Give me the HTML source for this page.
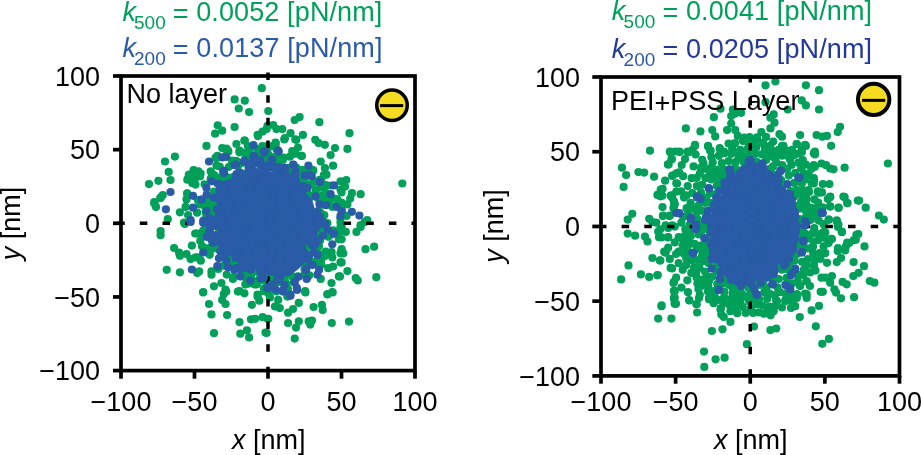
<!DOCTYPE html><html><head><meta charset="utf-8"><style>html,body{margin:0;padding:0;background:#fff;}svg{display:block;will-change:transform}</style></head><body><svg width="921" height="455" viewBox="0 0 921 455" font-family="Liberation Sans, sans-serif"><g fill="#00a05a"><circle cx="282.3" cy="256.9" r="4.1"/><circle cx="281.6" cy="169.2" r="4.1"/><circle cx="305.4" cy="241.4" r="4.1"/><circle cx="245.8" cy="247.0" r="4.1"/><circle cx="283.1" cy="235.1" r="4.1"/><circle cx="269.2" cy="245.6" r="4.1"/><circle cx="237.6" cy="216.3" r="4.1"/><circle cx="248.1" cy="247.7" r="4.1"/><circle cx="269.6" cy="210.9" r="4.1"/><circle cx="235.7" cy="212.4" r="4.1"/><circle cx="268.3" cy="211.6" r="4.1"/><circle cx="321.4" cy="264.6" r="4.1"/><circle cx="260.8" cy="205.6" r="4.1"/><circle cx="276.8" cy="232.0" r="4.1"/><circle cx="294.7" cy="250.4" r="4.1"/><circle cx="246.8" cy="154.9" r="4.1"/><circle cx="274.9" cy="227.5" r="4.1"/><circle cx="217.3" cy="194.8" r="4.1"/><circle cx="265.0" cy="184.0" r="4.1"/><circle cx="263.9" cy="226.9" r="4.1"/><circle cx="269.5" cy="202.1" r="4.1"/><circle cx="292.5" cy="259.8" r="4.1"/><circle cx="281.3" cy="189.2" r="4.1"/><circle cx="298.2" cy="202.3" r="4.1"/><circle cx="304.3" cy="178.7" r="4.1"/><circle cx="305.8" cy="222.2" r="4.1"/><circle cx="216.4" cy="210.0" r="4.1"/><circle cx="270.2" cy="234.3" r="4.1"/><circle cx="227.4" cy="177.3" r="4.1"/><circle cx="276.2" cy="203.7" r="4.1"/><circle cx="277.7" cy="254.4" r="4.1"/><circle cx="199.9" cy="233.5" r="4.1"/><circle cx="318.6" cy="210.7" r="4.1"/><circle cx="234.5" cy="254.1" r="4.1"/><circle cx="278.5" cy="260.0" r="4.1"/><circle cx="253.7" cy="161.8" r="4.1"/><circle cx="263.5" cy="204.6" r="4.1"/><circle cx="300.0" cy="231.0" r="4.1"/><circle cx="200.6" cy="173.6" r="4.1"/><circle cx="304.5" cy="251.1" r="4.1"/><circle cx="241.6" cy="223.0" r="4.1"/><circle cx="286.4" cy="242.3" r="4.1"/><circle cx="304.2" cy="233.6" r="4.1"/><circle cx="264.1" cy="212.3" r="4.1"/><circle cx="262.3" cy="224.4" r="4.1"/><circle cx="209.1" cy="236.7" r="4.1"/><circle cx="241.1" cy="258.6" r="4.1"/><circle cx="262.8" cy="250.6" r="4.1"/><circle cx="318.3" cy="238.8" r="4.1"/><circle cx="231.8" cy="160.5" r="4.1"/><circle cx="340.4" cy="218.4" r="4.1"/><circle cx="239.6" cy="229.0" r="4.1"/><circle cx="260.1" cy="258.2" r="4.1"/><circle cx="269.4" cy="223.6" r="4.1"/><circle cx="238.5" cy="242.4" r="4.1"/><circle cx="225.3" cy="250.5" r="4.1"/><circle cx="216.3" cy="247.3" r="4.1"/><circle cx="233.3" cy="202.1" r="4.1"/><circle cx="253.6" cy="245.0" r="4.1"/><circle cx="251.3" cy="234.5" r="4.1"/><circle cx="260.7" cy="188.1" r="4.1"/><circle cx="254.8" cy="183.7" r="4.1"/><circle cx="268.3" cy="176.6" r="4.1"/><circle cx="265.8" cy="220.8" r="4.1"/><circle cx="289.1" cy="205.6" r="4.1"/><circle cx="258.6" cy="240.6" r="4.1"/><circle cx="279.7" cy="175.1" r="4.1"/><circle cx="302.4" cy="198.6" r="4.1"/><circle cx="224.4" cy="185.8" r="4.1"/><circle cx="219.5" cy="229.6" r="4.1"/><circle cx="305.2" cy="213.2" r="4.1"/><circle cx="242.0" cy="232.6" r="4.1"/><circle cx="296.9" cy="250.4" r="4.1"/><circle cx="243.5" cy="217.8" r="4.1"/><circle cx="265.0" cy="227.5" r="4.1"/><circle cx="266.8" cy="230.2" r="4.1"/><circle cx="244.3" cy="174.5" r="4.1"/><circle cx="294.3" cy="277.4" r="4.1"/><circle cx="288.4" cy="229.7" r="4.1"/><circle cx="304.4" cy="175.9" r="4.1"/><circle cx="235.8" cy="226.6" r="4.1"/><circle cx="203.8" cy="230.0" r="4.1"/><circle cx="249.0" cy="273.6" r="4.1"/><circle cx="269.7" cy="156.2" r="4.1"/><circle cx="313.8" cy="229.9" r="4.1"/><circle cx="290.6" cy="179.0" r="4.1"/><circle cx="224.0" cy="238.4" r="4.1"/><circle cx="240.2" cy="222.0" r="4.1"/><circle cx="228.0" cy="210.8" r="4.1"/><circle cx="288.7" cy="196.3" r="4.1"/><circle cx="258.1" cy="199.7" r="4.1"/><circle cx="262.5" cy="174.7" r="4.1"/><circle cx="249.9" cy="214.5" r="4.1"/><circle cx="254.2" cy="225.3" r="4.1"/><circle cx="255.9" cy="254.1" r="4.1"/><circle cx="254.7" cy="217.4" r="4.1"/><circle cx="240.5" cy="201.3" r="4.1"/><circle cx="215.8" cy="244.4" r="4.1"/><circle cx="220.8" cy="192.2" r="4.1"/><circle cx="282.8" cy="239.6" r="4.1"/><circle cx="285.4" cy="233.7" r="4.1"/><circle cx="209.7" cy="254.8" r="4.1"/><circle cx="239.0" cy="176.5" r="4.1"/><circle cx="272.0" cy="215.6" r="4.1"/><circle cx="276.4" cy="156.7" r="4.1"/><circle cx="204.4" cy="248.6" r="4.1"/><circle cx="253.3" cy="236.4" r="4.1"/><circle cx="254.0" cy="220.5" r="4.1"/><circle cx="278.2" cy="192.2" r="4.1"/><circle cx="296.0" cy="203.6" r="4.1"/><circle cx="232.1" cy="226.2" r="4.1"/><circle cx="286.4" cy="213.5" r="4.1"/><circle cx="232.4" cy="248.6" r="4.1"/><circle cx="269.6" cy="166.8" r="4.1"/><circle cx="269.2" cy="220.7" r="4.1"/><circle cx="305.1" cy="185.2" r="4.1"/><circle cx="242.2" cy="236.8" r="4.1"/><circle cx="239.1" cy="192.9" r="4.1"/><circle cx="303.6" cy="221.4" r="4.1"/><circle cx="303.3" cy="204.4" r="4.1"/><circle cx="256.4" cy="243.1" r="4.1"/><circle cx="230.5" cy="241.1" r="4.1"/><circle cx="276.2" cy="195.1" r="4.1"/><circle cx="210.5" cy="213.7" r="4.1"/><circle cx="231.8" cy="264.4" r="4.1"/><circle cx="274.0" cy="255.3" r="4.1"/><circle cx="273.6" cy="233.9" r="4.1"/><circle cx="235.7" cy="250.6" r="4.1"/><circle cx="341.7" cy="210.2" r="4.1"/><circle cx="243.5" cy="216.5" r="4.1"/><circle cx="248.1" cy="194.0" r="4.1"/><circle cx="273.7" cy="211.0" r="4.1"/><circle cx="327.4" cy="223.0" r="4.1"/><circle cx="281.4" cy="262.3" r="4.1"/><circle cx="255.6" cy="282.3" r="4.1"/><circle cx="241.9" cy="189.6" r="4.1"/><circle cx="252.9" cy="218.3" r="4.1"/><circle cx="210.1" cy="221.6" r="4.1"/><circle cx="264.7" cy="196.5" r="4.1"/><circle cx="230.5" cy="207.1" r="4.1"/><circle cx="258.8" cy="179.9" r="4.1"/><circle cx="230.0" cy="215.3" r="4.1"/><circle cx="246.5" cy="261.8" r="4.1"/><circle cx="315.0" cy="223.7" r="4.1"/><circle cx="287.6" cy="167.9" r="4.1"/><circle cx="294.3" cy="221.7" r="4.1"/><circle cx="288.0" cy="289.1" r="4.1"/><circle cx="222.6" cy="247.5" r="4.1"/><circle cx="213.8" cy="202.5" r="4.1"/><circle cx="276.4" cy="248.3" r="4.1"/><circle cx="271.1" cy="190.3" r="4.1"/><circle cx="245.1" cy="259.5" r="4.1"/><circle cx="267.8" cy="153.5" r="4.1"/><circle cx="302.8" cy="240.2" r="4.1"/><circle cx="304.1" cy="209.1" r="4.1"/><circle cx="302.2" cy="179.2" r="4.1"/><circle cx="291.5" cy="202.7" r="4.1"/><circle cx="295.9" cy="264.5" r="4.1"/><circle cx="237.6" cy="220.9" r="4.1"/><circle cx="269.6" cy="272.1" r="4.1"/><circle cx="297.3" cy="172.6" r="4.1"/><circle cx="286.9" cy="253.8" r="4.1"/><circle cx="245.8" cy="278.1" r="4.1"/><circle cx="212.0" cy="173.5" r="4.1"/><circle cx="289.4" cy="265.1" r="4.1"/><circle cx="240.4" cy="245.3" r="4.1"/><circle cx="272.8" cy="285.7" r="4.1"/><circle cx="267.9" cy="263.9" r="4.1"/><circle cx="230.7" cy="215.4" r="4.1"/><circle cx="264.0" cy="270.0" r="4.1"/><circle cx="291.9" cy="192.0" r="4.1"/><circle cx="296.2" cy="254.8" r="4.1"/><circle cx="263.4" cy="212.4" r="4.1"/><circle cx="260.0" cy="153.0" r="4.1"/><circle cx="275.8" cy="232.7" r="4.1"/><circle cx="232.3" cy="253.7" r="4.1"/><circle cx="211.3" cy="200.2" r="4.1"/><circle cx="202.0" cy="246.2" r="4.1"/><circle cx="306.9" cy="238.6" r="4.1"/><circle cx="316.8" cy="181.6" r="4.1"/><circle cx="218.6" cy="209.5" r="4.1"/><circle cx="219.3" cy="266.5" r="4.1"/><circle cx="303.7" cy="193.3" r="4.1"/><circle cx="305.3" cy="228.0" r="4.1"/><circle cx="262.2" cy="225.4" r="4.1"/><circle cx="259.6" cy="248.4" r="4.1"/><circle cx="280.8" cy="208.6" r="4.1"/><circle cx="309.6" cy="197.7" r="4.1"/><circle cx="279.9" cy="240.4" r="4.1"/><circle cx="329.1" cy="202.1" r="4.1"/><circle cx="340.0" cy="230.3" r="4.1"/><circle cx="260.0" cy="195.2" r="4.1"/><circle cx="292.2" cy="225.0" r="4.1"/><circle cx="222.4" cy="176.4" r="4.1"/><circle cx="245.1" cy="195.1" r="4.1"/><circle cx="303.9" cy="237.8" r="4.1"/><circle cx="250.3" cy="225.3" r="4.1"/><circle cx="305.7" cy="211.4" r="4.1"/><circle cx="269.6" cy="203.1" r="4.1"/><circle cx="235.7" cy="215.4" r="4.1"/><circle cx="270.1" cy="279.1" r="4.1"/><circle cx="341.0" cy="226.3" r="4.1"/><circle cx="250.8" cy="234.0" r="4.1"/><circle cx="268.9" cy="213.4" r="4.1"/><circle cx="259.8" cy="229.0" r="4.1"/><circle cx="285.9" cy="186.5" r="4.1"/><circle cx="267.6" cy="160.1" r="4.1"/><circle cx="278.8" cy="248.8" r="4.1"/><circle cx="274.8" cy="234.8" r="4.1"/><circle cx="292.4" cy="195.5" r="4.1"/><circle cx="258.1" cy="244.1" r="4.1"/><circle cx="309.4" cy="239.3" r="4.1"/><circle cx="309.3" cy="275.3" r="4.1"/><circle cx="262.5" cy="189.1" r="4.1"/><circle cx="219.2" cy="229.7" r="4.1"/><circle cx="313.9" cy="234.2" r="4.1"/><circle cx="275.1" cy="207.3" r="4.1"/><circle cx="277.6" cy="224.2" r="4.1"/><circle cx="210.7" cy="178.5" r="4.1"/><circle cx="218.4" cy="268.9" r="4.1"/><circle cx="231.3" cy="250.6" r="4.1"/><circle cx="292.3" cy="233.7" r="4.1"/><circle cx="214.0" cy="197.7" r="4.1"/><circle cx="233.7" cy="216.3" r="4.1"/><circle cx="301.4" cy="233.4" r="4.1"/><circle cx="298.6" cy="178.9" r="4.1"/><circle cx="307.0" cy="246.5" r="4.1"/><circle cx="270.3" cy="280.7" r="4.1"/><circle cx="214.4" cy="199.6" r="4.1"/><circle cx="244.1" cy="248.1" r="4.1"/><circle cx="279.1" cy="171.5" r="4.1"/><circle cx="317.4" cy="263.9" r="4.1"/><circle cx="268.8" cy="263.6" r="4.1"/><circle cx="228.1" cy="254.0" r="4.1"/><circle cx="264.4" cy="269.7" r="4.1"/><circle cx="287.2" cy="178.0" r="4.1"/><circle cx="273.3" cy="273.3" r="4.1"/><circle cx="221.4" cy="199.9" r="4.1"/><circle cx="236.3" cy="161.2" r="4.1"/><circle cx="307.7" cy="277.1" r="4.1"/><circle cx="301.0" cy="233.0" r="4.1"/><circle cx="265.9" cy="232.9" r="4.1"/><circle cx="237.8" cy="259.9" r="4.1"/><circle cx="311.2" cy="261.5" r="4.1"/><circle cx="246.1" cy="226.2" r="4.1"/><circle cx="275.4" cy="145.3" r="4.1"/><circle cx="296.3" cy="259.3" r="4.1"/><circle cx="262.8" cy="235.8" r="4.1"/><circle cx="296.5" cy="208.9" r="4.1"/><circle cx="307.5" cy="211.4" r="4.1"/><circle cx="238.9" cy="258.2" r="4.1"/><circle cx="224.2" cy="226.9" r="4.1"/><circle cx="254.3" cy="164.1" r="4.1"/><circle cx="206.8" cy="203.9" r="4.1"/><circle cx="245.4" cy="275.0" r="4.1"/><circle cx="283.5" cy="157.7" r="4.1"/><circle cx="232.7" cy="252.1" r="4.1"/><circle cx="267.1" cy="210.2" r="4.1"/><circle cx="209.6" cy="201.8" r="4.1"/><circle cx="268.5" cy="164.8" r="4.1"/><circle cx="273.3" cy="259.7" r="4.1"/><circle cx="257.9" cy="253.2" r="4.1"/><circle cx="297.8" cy="241.5" r="4.1"/><circle cx="255.4" cy="194.9" r="4.1"/><circle cx="233.1" cy="242.7" r="4.1"/><circle cx="307.3" cy="185.3" r="4.1"/><circle cx="248.3" cy="208.5" r="4.1"/><circle cx="295.3" cy="228.7" r="4.1"/><circle cx="284.6" cy="247.6" r="4.1"/><circle cx="269.2" cy="268.9" r="4.1"/><circle cx="237.9" cy="163.7" r="4.1"/><circle cx="245.3" cy="265.5" r="4.1"/><circle cx="275.2" cy="198.3" r="4.1"/><circle cx="223.8" cy="201.2" r="4.1"/><circle cx="251.3" cy="199.7" r="4.1"/><circle cx="208.8" cy="203.3" r="4.1"/><circle cx="275.6" cy="192.1" r="4.1"/><circle cx="316.0" cy="220.0" r="4.1"/><circle cx="250.7" cy="162.6" r="4.1"/><circle cx="300.4" cy="234.8" r="4.1"/><circle cx="246.3" cy="258.9" r="4.1"/><circle cx="232.0" cy="249.6" r="4.1"/><circle cx="229.2" cy="245.1" r="4.1"/><circle cx="278.5" cy="282.2" r="4.1"/><circle cx="234.0" cy="203.3" r="4.1"/><circle cx="223.9" cy="265.7" r="4.1"/><circle cx="287.2" cy="263.4" r="4.1"/><circle cx="255.2" cy="246.3" r="4.1"/><circle cx="237.8" cy="166.3" r="4.1"/><circle cx="198.0" cy="200.2" r="4.1"/><circle cx="245.3" cy="197.0" r="4.1"/><circle cx="246.0" cy="234.9" r="4.1"/><circle cx="244.1" cy="186.8" r="4.1"/><circle cx="332.5" cy="234.3" r="4.1"/><circle cx="244.4" cy="228.5" r="4.1"/><circle cx="220.4" cy="233.8" r="4.1"/><circle cx="268.1" cy="245.0" r="4.1"/><circle cx="252.0" cy="266.1" r="4.1"/><circle cx="235.3" cy="186.1" r="4.1"/><circle cx="242.5" cy="182.4" r="4.1"/><circle cx="308.5" cy="261.1" r="4.1"/><circle cx="320.5" cy="222.0" r="4.1"/><circle cx="279.3" cy="199.1" r="4.1"/><circle cx="220.5" cy="241.5" r="4.1"/><circle cx="279.1" cy="177.3" r="4.1"/><circle cx="292.2" cy="151.1" r="4.1"/><circle cx="260.6" cy="197.0" r="4.1"/><circle cx="246.1" cy="178.3" r="4.1"/><circle cx="307.3" cy="246.4" r="4.1"/><circle cx="316.9" cy="228.4" r="4.1"/><circle cx="214.4" cy="207.3" r="4.1"/><circle cx="218.8" cy="241.5" r="4.1"/><circle cx="317.5" cy="236.1" r="4.1"/><circle cx="242.7" cy="207.2" r="4.1"/><circle cx="275.9" cy="162.7" r="4.1"/><circle cx="273.6" cy="230.6" r="4.1"/><circle cx="244.9" cy="205.1" r="4.1"/><circle cx="274.4" cy="188.4" r="4.1"/><circle cx="233.3" cy="254.4" r="4.1"/><circle cx="276.4" cy="291.5" r="4.1"/><circle cx="226.4" cy="148.6" r="4.1"/><circle cx="305.9" cy="261.6" r="4.1"/><circle cx="236.5" cy="161.3" r="4.1"/><circle cx="265.0" cy="149.6" r="4.1"/><circle cx="256.9" cy="284.3" r="4.1"/><circle cx="255.6" cy="253.4" r="4.1"/><circle cx="240.0" cy="184.7" r="4.1"/><circle cx="264.0" cy="288.3" r="4.1"/><circle cx="217.6" cy="212.1" r="4.1"/><circle cx="269.5" cy="279.5" r="4.1"/><circle cx="321.2" cy="217.4" r="4.1"/><circle cx="239.2" cy="218.8" r="4.1"/><circle cx="304.5" cy="237.2" r="4.1"/><circle cx="272.1" cy="179.5" r="4.1"/><circle cx="215.2" cy="221.4" r="4.1"/><circle cx="247.8" cy="235.7" r="4.1"/><circle cx="266.4" cy="214.7" r="4.1"/><circle cx="229.4" cy="220.1" r="4.1"/><circle cx="240.4" cy="214.7" r="4.1"/><circle cx="263.1" cy="247.8" r="4.1"/><circle cx="241.7" cy="207.4" r="4.1"/><circle cx="310.0" cy="211.8" r="4.1"/><circle cx="255.0" cy="256.5" r="4.1"/><circle cx="277.0" cy="224.5" r="4.1"/><circle cx="274.9" cy="169.6" r="4.1"/><circle cx="284.9" cy="275.6" r="4.1"/><circle cx="289.9" cy="156.7" r="4.1"/><circle cx="277.7" cy="183.7" r="4.1"/><circle cx="256.7" cy="226.5" r="4.1"/><circle cx="263.4" cy="254.0" r="4.1"/><circle cx="292.5" cy="276.8" r="4.1"/><circle cx="248.0" cy="251.0" r="4.1"/><circle cx="304.3" cy="274.8" r="4.1"/><circle cx="251.0" cy="234.8" r="4.1"/><circle cx="270.6" cy="274.0" r="4.1"/><circle cx="332.2" cy="206.8" r="4.1"/><circle cx="251.5" cy="246.5" r="4.1"/><circle cx="298.0" cy="244.3" r="4.1"/><circle cx="269.1" cy="285.4" r="4.1"/><circle cx="226.5" cy="180.7" r="4.1"/><circle cx="277.4" cy="224.3" r="4.1"/><circle cx="278.2" cy="188.6" r="4.1"/><circle cx="284.8" cy="280.2" r="4.1"/><circle cx="212.1" cy="214.2" r="4.1"/><circle cx="277.5" cy="216.9" r="4.1"/><circle cx="320.3" cy="257.4" r="4.1"/><circle cx="282.3" cy="198.5" r="4.1"/><circle cx="253.4" cy="202.2" r="4.1"/><circle cx="297.9" cy="178.7" r="4.1"/><circle cx="220.8" cy="247.8" r="4.1"/><circle cx="231.8" cy="257.0" r="4.1"/><circle cx="261.8" cy="157.5" r="4.1"/><circle cx="264.9" cy="260.1" r="4.1"/><circle cx="254.6" cy="173.5" r="4.1"/><circle cx="262.2" cy="255.1" r="4.1"/><circle cx="210.5" cy="222.4" r="4.1"/><circle cx="273.7" cy="204.7" r="4.1"/><circle cx="310.0" cy="169.0" r="4.1"/><circle cx="262.1" cy="278.2" r="4.1"/><circle cx="275.3" cy="193.3" r="4.1"/><circle cx="257.0" cy="225.4" r="4.1"/><circle cx="250.2" cy="188.1" r="4.1"/><circle cx="234.9" cy="160.9" r="4.1"/><circle cx="271.7" cy="238.4" r="4.1"/><circle cx="298.0" cy="147.5" r="4.1"/><circle cx="300.4" cy="221.4" r="4.1"/><circle cx="208.1" cy="226.1" r="4.1"/><circle cx="300.7" cy="243.7" r="4.1"/><circle cx="297.0" cy="261.1" r="4.1"/><circle cx="304.1" cy="220.6" r="4.1"/><circle cx="281.8" cy="202.7" r="4.1"/><circle cx="295.4" cy="255.1" r="4.1"/><circle cx="226.9" cy="260.6" r="4.1"/><circle cx="247.7" cy="189.9" r="4.1"/><circle cx="291.5" cy="196.7" r="4.1"/><circle cx="302.7" cy="174.0" r="4.1"/><circle cx="268.6" cy="187.4" r="4.1"/><circle cx="257.5" cy="206.8" r="4.1"/><circle cx="220.6" cy="249.3" r="4.1"/><circle cx="215.8" cy="181.7" r="4.1"/><circle cx="304.0" cy="262.4" r="4.1"/><circle cx="294.8" cy="236.3" r="4.1"/><circle cx="236.6" cy="181.2" r="4.1"/><circle cx="304.4" cy="234.2" r="4.1"/><circle cx="313.2" cy="262.5" r="4.1"/><circle cx="258.0" cy="188.5" r="4.1"/><circle cx="307.3" cy="246.9" r="4.1"/><circle cx="253.4" cy="214.2" r="4.1"/><circle cx="253.2" cy="209.0" r="4.1"/><circle cx="251.6" cy="234.4" r="4.1"/><circle cx="276.0" cy="257.6" r="4.1"/><circle cx="266.9" cy="255.3" r="4.1"/><circle cx="255.9" cy="251.6" r="4.1"/><circle cx="231.0" cy="252.3" r="4.1"/><circle cx="266.7" cy="209.3" r="4.1"/><circle cx="281.0" cy="179.6" r="4.1"/><circle cx="265.5" cy="241.2" r="4.1"/><circle cx="257.4" cy="196.3" r="4.1"/><circle cx="271.0" cy="260.4" r="4.1"/><circle cx="294.9" cy="261.3" r="4.1"/><circle cx="244.1" cy="190.4" r="4.1"/><circle cx="287.2" cy="253.0" r="4.1"/><circle cx="247.7" cy="204.6" r="4.1"/><circle cx="279.9" cy="244.8" r="4.1"/><circle cx="292.3" cy="172.8" r="4.1"/><circle cx="307.0" cy="186.9" r="4.1"/><circle cx="216.9" cy="182.1" r="4.1"/><circle cx="232.6" cy="229.8" r="4.1"/><circle cx="245.3" cy="259.9" r="4.1"/><circle cx="276.1" cy="243.7" r="4.1"/><circle cx="203.2" cy="230.8" r="4.1"/><circle cx="289.1" cy="259.4" r="4.1"/><circle cx="243.0" cy="203.1" r="4.1"/><circle cx="316.3" cy="223.1" r="4.1"/><circle cx="262.7" cy="164.7" r="4.1"/><circle cx="274.2" cy="249.7" r="4.1"/><circle cx="235.2" cy="202.1" r="4.1"/><circle cx="333.3" cy="230.4" r="4.1"/><circle cx="256.1" cy="176.0" r="4.1"/><circle cx="242.4" cy="212.7" r="4.1"/><circle cx="324.5" cy="197.8" r="4.1"/><circle cx="253.2" cy="257.8" r="4.1"/><circle cx="258.1" cy="188.7" r="4.1"/><circle cx="262.6" cy="241.5" r="4.1"/><circle cx="197.1" cy="212.7" r="4.1"/><circle cx="263.5" cy="206.3" r="4.1"/><circle cx="298.4" cy="199.5" r="4.1"/><circle cx="252.9" cy="224.6" r="4.1"/><circle cx="298.1" cy="213.9" r="4.1"/><circle cx="330.6" cy="185.5" r="4.1"/><circle cx="321.1" cy="187.6" r="4.1"/><circle cx="261.3" cy="238.0" r="4.1"/><circle cx="251.2" cy="276.7" r="4.1"/><circle cx="259.2" cy="190.3" r="4.1"/><circle cx="286.5" cy="226.9" r="4.1"/><circle cx="307.4" cy="200.3" r="4.1"/><circle cx="283.8" cy="249.2" r="4.1"/><circle cx="279.5" cy="221.8" r="4.1"/><circle cx="239.2" cy="260.3" r="4.1"/><circle cx="273.7" cy="243.5" r="4.1"/><circle cx="253.5" cy="223.5" r="4.1"/><circle cx="225.2" cy="226.5" r="4.1"/><circle cx="299.6" cy="226.8" r="4.1"/><circle cx="303.5" cy="235.9" r="4.1"/><circle cx="324.3" cy="215.2" r="4.1"/><circle cx="200.3" cy="240.9" r="4.1"/><circle cx="261.2" cy="182.8" r="4.1"/><circle cx="294.9" cy="233.9" r="4.1"/><circle cx="286.4" cy="209.3" r="4.1"/><circle cx="276.1" cy="233.5" r="4.1"/><circle cx="267.6" cy="238.0" r="4.1"/><circle cx="291.7" cy="188.0" r="4.1"/><circle cx="230.8" cy="255.4" r="4.1"/><circle cx="210.6" cy="247.6" r="4.1"/><circle cx="248.4" cy="275.2" r="4.1"/><circle cx="304.7" cy="211.2" r="4.1"/><circle cx="211.7" cy="203.4" r="4.1"/><circle cx="304.5" cy="269.1" r="4.1"/><circle cx="233.1" cy="221.7" r="4.1"/><circle cx="257.3" cy="271.8" r="4.1"/><circle cx="268.6" cy="177.2" r="4.1"/><circle cx="237.6" cy="202.4" r="4.1"/><circle cx="244.2" cy="230.8" r="4.1"/><circle cx="261.5" cy="250.1" r="4.1"/><circle cx="331.6" cy="252.0" r="4.1"/><circle cx="217.4" cy="155.9" r="4.1"/><circle cx="236.8" cy="266.5" r="4.1"/><circle cx="254.2" cy="195.4" r="4.1"/><circle cx="273.7" cy="164.5" r="4.1"/><circle cx="220.9" cy="244.1" r="4.1"/><circle cx="255.5" cy="204.3" r="4.1"/><circle cx="281.1" cy="198.8" r="4.1"/><circle cx="239.7" cy="204.0" r="4.1"/><circle cx="292.9" cy="225.5" r="4.1"/><circle cx="218.7" cy="210.5" r="4.1"/><circle cx="220.8" cy="237.0" r="4.1"/><circle cx="257.3" cy="257.1" r="4.1"/><circle cx="286.6" cy="283.8" r="4.1"/><circle cx="289.5" cy="200.5" r="4.1"/><circle cx="245.8" cy="239.7" r="4.1"/><circle cx="282.5" cy="168.0" r="4.1"/><circle cx="290.8" cy="180.1" r="4.1"/><circle cx="219.8" cy="250.0" r="4.1"/><circle cx="277.1" cy="216.4" r="4.1"/><circle cx="265.2" cy="232.2" r="4.1"/><circle cx="262.2" cy="215.9" r="4.1"/><circle cx="293.2" cy="193.9" r="4.1"/><circle cx="290.5" cy="274.0" r="4.1"/><circle cx="253.3" cy="234.7" r="4.1"/><circle cx="299.1" cy="218.4" r="4.1"/><circle cx="233.2" cy="177.1" r="4.1"/><circle cx="288.1" cy="242.3" r="4.1"/><circle cx="260.8" cy="258.0" r="4.1"/><circle cx="243.0" cy="268.9" r="4.1"/><circle cx="269.7" cy="221.5" r="4.1"/><circle cx="268.0" cy="218.9" r="4.1"/><circle cx="275.3" cy="274.4" r="4.1"/><circle cx="297.6" cy="210.5" r="4.1"/><circle cx="214.0" cy="246.5" r="4.1"/><circle cx="304.5" cy="254.4" r="4.1"/><circle cx="298.2" cy="202.9" r="4.1"/><circle cx="275.6" cy="183.1" r="4.1"/><circle cx="318.2" cy="255.6" r="4.1"/><circle cx="268.0" cy="208.9" r="4.1"/><circle cx="292.8" cy="238.8" r="4.1"/><circle cx="277.8" cy="210.2" r="4.1"/><circle cx="267.1" cy="199.0" r="4.1"/><circle cx="319.4" cy="254.2" r="4.1"/><circle cx="289.3" cy="218.5" r="4.1"/><circle cx="268.9" cy="209.0" r="4.1"/><circle cx="285.5" cy="235.8" r="4.1"/><circle cx="266.5" cy="242.7" r="4.1"/><circle cx="289.7" cy="216.7" r="4.1"/><circle cx="286.7" cy="265.5" r="4.1"/><circle cx="248.6" cy="283.6" r="4.1"/><circle cx="226.7" cy="274.6" r="4.1"/><circle cx="319.3" cy="227.0" r="4.1"/><circle cx="339.1" cy="232.9" r="4.1"/><circle cx="247.4" cy="233.0" r="4.1"/><circle cx="262.3" cy="253.4" r="4.1"/><circle cx="249.0" cy="258.3" r="4.1"/><circle cx="204.4" cy="205.7" r="4.1"/><circle cx="271.2" cy="260.2" r="4.1"/><circle cx="287.9" cy="201.3" r="4.1"/><circle cx="318.3" cy="227.2" r="4.1"/><circle cx="299.7" cy="201.2" r="4.1"/><circle cx="250.4" cy="247.1" r="4.1"/><circle cx="279.9" cy="188.6" r="4.1"/><circle cx="240.4" cy="250.5" r="4.1"/><circle cx="297.9" cy="214.3" r="4.1"/><circle cx="300.2" cy="258.8" r="4.1"/><circle cx="270.2" cy="181.0" r="4.1"/><circle cx="318.5" cy="214.3" r="4.1"/><circle cx="245.7" cy="211.5" r="4.1"/><circle cx="212.7" cy="235.6" r="4.1"/><circle cx="236.4" cy="144.0" r="4.1"/><circle cx="217.2" cy="183.1" r="4.1"/><circle cx="267.7" cy="180.4" r="4.1"/><circle cx="205.6" cy="212.1" r="4.1"/><circle cx="287.2" cy="226.3" r="4.1"/><circle cx="313.2" cy="170.1" r="4.1"/><circle cx="243.5" cy="219.0" r="4.1"/><circle cx="233.3" cy="213.0" r="4.1"/><circle cx="267.0" cy="227.0" r="4.1"/><circle cx="261.0" cy="234.1" r="4.1"/><circle cx="284.0" cy="258.3" r="4.1"/><circle cx="250.4" cy="192.1" r="4.1"/><circle cx="224.1" cy="247.5" r="4.1"/><circle cx="266.1" cy="245.8" r="4.1"/><circle cx="276.6" cy="254.1" r="4.1"/><circle cx="218.3" cy="178.4" r="4.1"/><circle cx="255.1" cy="172.7" r="4.1"/><circle cx="296.5" cy="167.9" r="4.1"/><circle cx="222.4" cy="209.0" r="4.1"/><circle cx="257.3" cy="149.0" r="4.1"/><circle cx="272.5" cy="263.3" r="4.1"/><circle cx="294.8" cy="195.8" r="4.1"/><circle cx="243.7" cy="174.0" r="4.1"/><circle cx="294.0" cy="282.5" r="4.1"/><circle cx="246.3" cy="152.9" r="4.1"/><circle cx="276.3" cy="252.2" r="4.1"/><circle cx="290.7" cy="239.6" r="4.1"/><circle cx="311.9" cy="184.1" r="4.1"/><circle cx="233.1" cy="239.8" r="4.1"/><circle cx="239.7" cy="233.7" r="4.1"/><circle cx="303.0" cy="224.8" r="4.1"/><circle cx="274.8" cy="289.9" r="4.1"/><circle cx="223.3" cy="185.3" r="4.1"/><circle cx="222.8" cy="205.5" r="4.1"/><circle cx="226.2" cy="224.5" r="4.1"/><circle cx="241.1" cy="163.2" r="4.1"/><circle cx="265.2" cy="213.6" r="4.1"/><circle cx="269.1" cy="219.6" r="4.1"/><circle cx="299.2" cy="246.2" r="4.1"/><circle cx="243.6" cy="189.0" r="4.1"/><circle cx="223.1" cy="171.3" r="4.1"/><circle cx="325.9" cy="185.1" r="4.1"/><circle cx="235.4" cy="236.6" r="4.1"/><circle cx="231.4" cy="245.1" r="4.1"/><circle cx="284.0" cy="275.3" r="4.1"/><circle cx="323.8" cy="175.1" r="4.1"/><circle cx="251.3" cy="233.2" r="4.1"/><circle cx="317.7" cy="215.8" r="4.1"/><circle cx="292.4" cy="252.7" r="4.1"/><circle cx="249.2" cy="255.1" r="4.1"/><circle cx="312.2" cy="216.5" r="4.1"/><circle cx="270.7" cy="223.0" r="4.1"/><circle cx="255.2" cy="197.4" r="4.1"/><circle cx="274.4" cy="206.0" r="4.1"/><circle cx="255.1" cy="191.1" r="4.1"/><circle cx="204.6" cy="184.3" r="4.1"/><circle cx="281.6" cy="174.1" r="4.1"/><circle cx="314.5" cy="194.4" r="4.1"/><circle cx="292.9" cy="196.1" r="4.1"/><circle cx="335.2" cy="198.8" r="4.1"/><circle cx="271.4" cy="280.2" r="4.1"/><circle cx="233.8" cy="276.9" r="4.1"/><circle cx="234.2" cy="232.8" r="4.1"/><circle cx="255.8" cy="219.3" r="4.1"/><circle cx="274.6" cy="219.9" r="4.1"/><circle cx="226.0" cy="258.8" r="4.1"/><circle cx="297.8" cy="276.3" r="4.1"/><circle cx="246.0" cy="265.8" r="4.1"/><circle cx="328.6" cy="200.7" r="4.1"/><circle cx="211.1" cy="208.2" r="4.1"/><circle cx="217.9" cy="212.6" r="4.1"/><circle cx="226.9" cy="206.5" r="4.1"/><circle cx="282.9" cy="281.4" r="4.1"/><circle cx="259.8" cy="207.2" r="4.1"/><circle cx="313.2" cy="170.7" r="4.1"/><circle cx="216.5" cy="165.6" r="4.1"/><circle cx="261.5" cy="239.3" r="4.1"/><circle cx="264.3" cy="245.7" r="4.1"/><circle cx="302.3" cy="243.5" r="4.1"/><circle cx="234.6" cy="211.9" r="4.1"/><circle cx="319.6" cy="179.8" r="4.1"/><circle cx="257.5" cy="205.8" r="4.1"/><circle cx="260.6" cy="178.6" r="4.1"/><circle cx="307.1" cy="193.6" r="4.1"/><circle cx="265.6" cy="250.9" r="4.1"/><circle cx="253.8" cy="248.5" r="4.1"/><circle cx="242.6" cy="208.2" r="4.1"/><circle cx="264.5" cy="204.1" r="4.1"/><circle cx="278.8" cy="242.7" r="4.1"/><circle cx="226.9" cy="237.2" r="4.1"/><circle cx="276.9" cy="149.9" r="4.1"/><circle cx="228.6" cy="264.4" r="4.1"/><circle cx="239.5" cy="222.5" r="4.1"/><circle cx="295.9" cy="176.1" r="4.1"/><circle cx="319.4" cy="263.9" r="4.1"/><circle cx="295.3" cy="200.7" r="4.1"/><circle cx="305.8" cy="258.4" r="4.1"/><circle cx="255.6" cy="238.2" r="4.1"/><circle cx="246.4" cy="238.9" r="4.1"/><circle cx="315.9" cy="189.7" r="4.1"/><circle cx="199.6" cy="204.4" r="4.1"/><circle cx="214.1" cy="191.7" r="4.1"/><circle cx="262.8" cy="220.4" r="4.1"/><circle cx="321.3" cy="181.1" r="4.1"/><circle cx="282.6" cy="202.0" r="4.1"/><circle cx="246.1" cy="156.9" r="4.1"/><circle cx="215.5" cy="157.8" r="4.1"/><circle cx="228.6" cy="213.1" r="4.1"/><circle cx="315.5" cy="251.9" r="4.1"/><circle cx="287.2" cy="205.5" r="4.1"/><circle cx="238.2" cy="224.4" r="4.1"/><circle cx="273.7" cy="233.6" r="4.1"/><circle cx="283.3" cy="218.1" r="4.1"/><circle cx="250.4" cy="250.9" r="4.1"/><circle cx="328.5" cy="236.8" r="4.1"/><circle cx="251.8" cy="210.9" r="4.1"/><circle cx="225.8" cy="235.7" r="4.1"/><circle cx="314.6" cy="246.5" r="4.1"/><circle cx="299.9" cy="252.6" r="4.1"/><circle cx="274.5" cy="252.1" r="4.1"/><circle cx="246.4" cy="214.4" r="4.1"/><circle cx="225.5" cy="258.0" r="4.1"/><circle cx="277.0" cy="206.6" r="4.1"/><circle cx="227.3" cy="241.8" r="4.1"/><circle cx="208.0" cy="198.6" r="4.1"/><circle cx="248.1" cy="262.0" r="4.1"/><circle cx="263.2" cy="169.2" r="4.1"/><circle cx="247.8" cy="146.1" r="4.1"/><circle cx="277.9" cy="255.1" r="4.1"/><circle cx="280.1" cy="274.6" r="4.1"/><circle cx="324.9" cy="256.1" r="4.1"/><circle cx="239.6" cy="207.8" r="4.1"/><circle cx="317.7" cy="198.0" r="4.1"/><circle cx="266.3" cy="287.5" r="4.1"/><circle cx="273.3" cy="166.2" r="4.1"/><circle cx="255.8" cy="249.4" r="4.1"/><circle cx="260.1" cy="271.0" r="4.1"/><circle cx="320.9" cy="196.1" r="4.1"/><circle cx="247.2" cy="218.7" r="4.1"/><circle cx="218.4" cy="238.6" r="4.1"/><circle cx="260.6" cy="255.4" r="4.1"/><circle cx="243.2" cy="186.7" r="4.1"/><circle cx="243.8" cy="192.7" r="4.1"/><circle cx="255.4" cy="185.2" r="4.1"/><circle cx="266.1" cy="193.9" r="4.1"/><circle cx="250.8" cy="238.0" r="4.1"/><circle cx="297.0" cy="242.3" r="4.1"/><circle cx="237.6" cy="239.4" r="4.1"/><circle cx="263.0" cy="218.6" r="4.1"/><circle cx="294.4" cy="176.9" r="4.1"/><circle cx="231.9" cy="251.3" r="4.1"/><circle cx="271.3" cy="285.6" r="4.1"/><circle cx="323.1" cy="204.0" r="4.1"/><circle cx="254.5" cy="284.5" r="4.1"/><circle cx="268.3" cy="187.5" r="4.1"/><circle cx="267.0" cy="281.6" r="4.1"/><circle cx="262.2" cy="280.0" r="4.1"/><circle cx="259.3" cy="279.3" r="4.1"/><circle cx="291.9" cy="216.9" r="4.1"/><circle cx="279.4" cy="202.3" r="4.1"/><circle cx="223.3" cy="181.3" r="4.1"/><circle cx="267.6" cy="181.4" r="4.1"/><circle cx="288.4" cy="247.3" r="4.1"/><circle cx="289.8" cy="205.0" r="4.1"/><circle cx="272.9" cy="224.6" r="4.1"/><circle cx="325.3" cy="192.4" r="4.1"/><circle cx="254.8" cy="216.1" r="4.1"/><circle cx="264.9" cy="194.8" r="4.1"/><circle cx="244.8" cy="267.8" r="4.1"/><circle cx="244.5" cy="263.8" r="4.1"/><circle cx="290.7" cy="248.4" r="4.1"/><circle cx="254.8" cy="162.8" r="4.1"/><circle cx="314.0" cy="261.8" r="4.1"/><circle cx="254.8" cy="281.8" r="4.1"/><circle cx="299.1" cy="172.4" r="4.1"/><circle cx="256.1" cy="207.2" r="4.1"/><circle cx="266.0" cy="233.5" r="4.1"/><circle cx="241.8" cy="217.4" r="4.1"/><circle cx="294.9" cy="222.5" r="4.1"/><circle cx="259.4" cy="212.9" r="4.1"/><circle cx="266.4" cy="146.4" r="4.1"/><circle cx="277.1" cy="183.0" r="4.1"/><circle cx="274.9" cy="164.7" r="4.1"/><circle cx="308.6" cy="235.3" r="4.1"/><circle cx="214.7" cy="235.3" r="4.1"/><circle cx="290.8" cy="192.6" r="4.1"/><circle cx="279.8" cy="224.2" r="4.1"/><circle cx="320.1" cy="240.4" r="4.1"/><circle cx="291.9" cy="179.5" r="4.1"/><circle cx="297.1" cy="224.1" r="4.1"/><circle cx="277.5" cy="186.4" r="4.1"/><circle cx="278.5" cy="180.4" r="4.1"/><circle cx="272.6" cy="209.8" r="4.1"/><circle cx="236.5" cy="249.8" r="4.1"/><circle cx="209.3" cy="224.2" r="4.1"/><circle cx="293.3" cy="208.3" r="4.1"/><circle cx="233.8" cy="231.1" r="4.1"/><circle cx="248.7" cy="207.7" r="4.1"/><circle cx="300.9" cy="220.5" r="4.1"/><circle cx="206.3" cy="216.8" r="4.1"/><circle cx="239.2" cy="213.6" r="4.1"/><circle cx="297.5" cy="250.4" r="4.1"/><circle cx="226.3" cy="229.8" r="4.1"/><circle cx="239.7" cy="237.5" r="4.1"/><circle cx="285.1" cy="226.4" r="4.1"/><circle cx="254.4" cy="208.4" r="4.1"/><circle cx="245.2" cy="243.9" r="4.1"/><circle cx="248.4" cy="166.1" r="4.1"/><circle cx="292.6" cy="167.0" r="4.1"/><circle cx="286.0" cy="208.4" r="4.1"/><circle cx="294.3" cy="257.5" r="4.1"/><circle cx="323.3" cy="204.4" r="4.1"/><circle cx="257.8" cy="224.2" r="4.1"/><circle cx="211.3" cy="249.2" r="4.1"/><circle cx="275.0" cy="169.3" r="4.1"/><circle cx="215.2" cy="248.2" r="4.1"/><circle cx="321.2" cy="259.2" r="4.1"/><circle cx="229.0" cy="166.8" r="4.1"/><circle cx="264.7" cy="203.9" r="4.1"/><circle cx="269.1" cy="220.1" r="4.1"/><circle cx="291.1" cy="201.2" r="4.1"/><circle cx="263.9" cy="254.6" r="4.1"/><circle cx="281.1" cy="233.2" r="4.1"/><circle cx="231.5" cy="245.9" r="4.1"/><circle cx="267.0" cy="257.8" r="4.1"/><circle cx="300.5" cy="181.7" r="4.1"/><circle cx="273.8" cy="288.1" r="4.1"/><circle cx="266.5" cy="197.7" r="4.1"/><circle cx="277.5" cy="216.3" r="4.1"/><circle cx="259.0" cy="208.5" r="4.1"/><circle cx="251.9" cy="200.4" r="4.1"/><circle cx="320.1" cy="212.4" r="4.1"/><circle cx="322.8" cy="230.8" r="4.1"/><circle cx="267.9" cy="163.6" r="4.1"/><circle cx="318.9" cy="246.2" r="4.1"/><circle cx="285.6" cy="219.0" r="4.1"/><circle cx="251.7" cy="171.5" r="4.1"/><circle cx="307.9" cy="235.0" r="4.1"/><circle cx="254.0" cy="197.8" r="4.1"/><circle cx="273.7" cy="220.1" r="4.1"/><circle cx="244.3" cy="178.2" r="4.1"/><circle cx="259.1" cy="186.2" r="4.1"/><circle cx="272.0" cy="240.6" r="4.1"/><circle cx="295.2" cy="241.1" r="4.1"/></g><g fill="#00a05a"><circle cx="261.8" cy="88.2" r="4.1"/><circle cx="234.6" cy="99.4" r="4.1"/><circle cx="244.8" cy="100.7" r="4.1"/><circle cx="238.7" cy="108.5" r="4.1"/><circle cx="249.1" cy="112.1" r="4.1"/><circle cx="268.3" cy="111.0" r="4.1"/><circle cx="217.7" cy="125.3" r="4.1"/><circle cx="222.2" cy="130.7" r="4.1"/><circle cx="215.1" cy="133.7" r="4.1"/><circle cx="234.6" cy="127.0" r="4.1"/><circle cx="206.5" cy="145.9" r="4.1"/><circle cx="257.6" cy="134.9" r="4.1"/><circle cx="262.6" cy="131.6" r="4.1"/><circle cx="267.5" cy="125.8" r="4.1"/><circle cx="244.4" cy="140.6" r="4.1"/><circle cx="222.2" cy="148.0" r="4.1"/><circle cx="228.0" cy="150.5" r="4.1"/><circle cx="239.5" cy="150.5" r="4.1"/><circle cx="249.4" cy="150.5" r="4.1"/><circle cx="267.5" cy="147.2" r="4.1"/><circle cx="299.6" cy="117.1" r="4.1"/><circle cx="294.7" cy="120.0" r="4.1"/><circle cx="319.4" cy="122.2" r="4.1"/><circle cx="273.2" cy="125.0" r="4.1"/><circle cx="266.6" cy="129.1" r="4.1"/><circle cx="276.5" cy="129.1" r="4.1"/><circle cx="282.3" cy="129.1" r="4.1"/><circle cx="290.5" cy="133.2" r="4.1"/><circle cx="284.8" cy="138.2" r="4.1"/><circle cx="302.9" cy="134.9" r="4.1"/><circle cx="296.3" cy="139.8" r="4.1"/><circle cx="315.3" cy="139.8" r="4.1"/><circle cx="318.6" cy="143.1" r="4.1"/><circle cx="324.8" cy="144.8" r="4.1"/><circle cx="335.0" cy="148.0" r="4.1"/><circle cx="275.7" cy="143.1" r="4.1"/><circle cx="271.6" cy="146.4" r="4.1"/><circle cx="294.7" cy="152.2" r="4.1"/><circle cx="349.5" cy="133.2" r="4.1"/><circle cx="347.4" cy="148.9" r="4.1"/><circle cx="174.9" cy="156.6" r="4.1"/><circle cx="165.0" cy="161.5" r="4.1"/><circle cx="168.7" cy="171.9" r="4.1"/><circle cx="170.5" cy="180.0" r="4.1"/><circle cx="158.4" cy="180.8" r="4.1"/><circle cx="149.0" cy="184.1" r="4.1"/><circle cx="161.2" cy="197.0" r="4.1"/><circle cx="154.3" cy="203.6" r="4.1"/><circle cx="156.0" cy="206.9" r="4.1"/><circle cx="167.8" cy="219.2" r="4.1"/><circle cx="179.9" cy="212.3" r="4.1"/><circle cx="189.8" cy="174.7" r="4.1"/><circle cx="193.9" cy="170.6" r="4.1"/><circle cx="187.3" cy="179.7" r="4.1"/><circle cx="192.2" cy="183.0" r="4.1"/><circle cx="195.5" cy="184.6" r="4.1"/><circle cx="187.3" cy="193.7" r="4.1"/><circle cx="186.5" cy="199.4" r="4.1"/><circle cx="185.6" cy="206.9" r="4.1"/><circle cx="188.1" cy="215.1" r="4.1"/><circle cx="184.0" cy="222.5" r="4.1"/><circle cx="162.8" cy="195.0" r="4.1"/><circle cx="160.2" cy="198.2" r="4.1"/><circle cx="154.3" cy="202.2" r="4.1"/><circle cx="193.6" cy="170.1" r="4.1"/><circle cx="188.8" cy="174.9" r="4.1"/><circle cx="188.0" cy="179.0" r="4.1"/><circle cx="193.6" cy="183.0" r="4.1"/><circle cx="187.2" cy="193.4" r="4.1"/><circle cx="198.3" cy="171.4" r="4.1"/><circle cx="210.7" cy="171.4" r="4.1"/><circle cx="214.8" cy="175.5" r="4.1"/><circle cx="219.7" cy="166.5" r="4.1"/><circle cx="216.4" cy="158.2" r="4.1"/><circle cx="227.1" cy="152.5" r="4.1"/><circle cx="239.5" cy="152.5" r="4.1"/><circle cx="195.0" cy="178.0" r="4.1"/><circle cx="200.0" cy="176.4" r="4.1"/><circle cx="294.4" cy="153.3" r="4.1"/><circle cx="301.0" cy="155.8" r="4.1"/><circle cx="330.6" cy="155.0" r="4.1"/><circle cx="320.7" cy="161.5" r="4.1"/><circle cx="333.1" cy="165.7" r="4.1"/><circle cx="324.9" cy="168.1" r="4.1"/><circle cx="326.5" cy="174.7" r="4.1"/><circle cx="340.5" cy="181.3" r="4.1"/><circle cx="282.8" cy="159.9" r="4.1"/><circle cx="269.6" cy="156.6" r="4.1"/><circle cx="302.6" cy="169.8" r="4.1"/><circle cx="299.3" cy="178.0" r="4.1"/><circle cx="305.9" cy="183.0" r="4.1"/><circle cx="340.5" cy="189.6" r="4.1"/><circle cx="337.2" cy="199.4" r="4.1"/><circle cx="340.5" cy="222.5" r="4.1"/><circle cx="346.3" cy="180.0" r="4.1"/><circle cx="345.0" cy="186.6" r="4.1"/><circle cx="341.6" cy="192.5" r="4.1"/><circle cx="351.9" cy="193.2" r="4.1"/><circle cx="360.6" cy="194.2" r="4.1"/><circle cx="402.3" cy="183.5" r="4.1"/><circle cx="350.2" cy="198.6" r="4.1"/><circle cx="347.4" cy="204.4" r="4.1"/><circle cx="341.6" cy="202.7" r="4.1"/><circle cx="346.6" cy="215.9" r="4.1"/><circle cx="367.2" cy="220.0" r="4.1"/><circle cx="360.6" cy="225.0" r="4.1"/><circle cx="160.6" cy="231.1" r="4.1"/><circle cx="160.6" cy="235.2" r="4.1"/><circle cx="184.8" cy="224.0" r="4.1"/><circle cx="195.2" cy="233.5" r="4.1"/><circle cx="191.9" cy="245.6" r="4.1"/><circle cx="174.1" cy="248.0" r="4.1"/><circle cx="179.0" cy="252.5" r="4.1"/><circle cx="179.9" cy="255.8" r="4.1"/><circle cx="186.5" cy="254.1" r="4.1"/><circle cx="190.6" cy="259.1" r="4.1"/><circle cx="195.5" cy="257.4" r="4.1"/><circle cx="166.7" cy="269.8" r="4.1"/><circle cx="179.9" cy="272.3" r="4.1"/><circle cx="197.2" cy="273.1" r="4.1"/><circle cx="196.6" cy="233.5" r="4.1"/><circle cx="205.7" cy="248.4" r="4.1"/><circle cx="198.3" cy="257.4" r="4.1"/><circle cx="200.8" cy="260.7" r="4.1"/><circle cx="199.1" cy="271.4" r="4.1"/><circle cx="211.5" cy="271.4" r="4.1"/><circle cx="211.5" cy="274.7" r="4.1"/><circle cx="214.0" cy="286.3" r="4.1"/><circle cx="203.2" cy="292.0" r="4.1"/><circle cx="221.4" cy="283.0" r="4.1"/><circle cx="225.5" cy="289.6" r="4.1"/><circle cx="232.9" cy="278.9" r="4.1"/><circle cx="239.5" cy="291.2" r="4.1"/><circle cx="245.3" cy="284.6" r="4.1"/><circle cx="257.6" cy="294.5" r="4.1"/><circle cx="264.2" cy="291.2" r="4.1"/><circle cx="340.5" cy="227.0" r="4.1"/><circle cx="338.9" cy="239.3" r="4.1"/><circle cx="325.7" cy="251.7" r="4.1"/><circle cx="332.3" cy="257.4" r="4.1"/><circle cx="340.5" cy="253.3" r="4.1"/><circle cx="340.5" cy="262.4" r="4.1"/><circle cx="328.2" cy="268.2" r="4.1"/><circle cx="333.1" cy="266.5" r="4.1"/><circle cx="338.9" cy="276.4" r="4.1"/><circle cx="331.5" cy="283.0" r="4.1"/><circle cx="332.3" cy="292.0" r="4.1"/><circle cx="327.3" cy="294.5" r="4.1"/><circle cx="305.1" cy="291.2" r="4.1"/><circle cx="320.7" cy="278.9" r="4.1"/><circle cx="277.9" cy="261.6" r="4.1"/><circle cx="360.6" cy="226.9" r="4.1"/><circle cx="356.5" cy="231.9" r="4.1"/><circle cx="345.8" cy="231.9" r="4.1"/><circle cx="341.6" cy="227.0" r="4.1"/><circle cx="341.6" cy="239.3" r="4.1"/><circle cx="341.6" cy="249.2" r="4.1"/><circle cx="343.3" cy="253.3" r="4.1"/><circle cx="365.5" cy="249.2" r="4.1"/><circle cx="374.1" cy="246.7" r="4.1"/><circle cx="341.6" cy="262.4" r="4.1"/><circle cx="347.4" cy="271.1" r="4.1"/><circle cx="340.0" cy="276.4" r="4.1"/><circle cx="355.7" cy="278.0" r="4.1"/><circle cx="357.8" cy="280.5" r="4.1"/><circle cx="376.3" cy="277.2" r="4.1"/><circle cx="364.7" cy="222.0" r="4.1"/><circle cx="203.2" cy="292.5" r="4.1"/><circle cx="209.0" cy="304.0" r="4.1"/><circle cx="211.5" cy="314.4" r="4.1"/><circle cx="227.1" cy="315.1" r="4.1"/><circle cx="222.2" cy="299.9" r="4.1"/><circle cx="225.5" cy="304.0" r="4.1"/><circle cx="223.8" cy="294.1" r="4.1"/><circle cx="226.3" cy="291.6" r="4.1"/><circle cx="214.0" cy="333.2" r="4.1"/><circle cx="239.5" cy="322.1" r="4.1"/><circle cx="240.3" cy="333.7" r="4.1"/><circle cx="246.9" cy="330.4" r="4.1"/><circle cx="249.1" cy="337.5" r="4.1"/><circle cx="251.0" cy="319.3" r="4.1"/><circle cx="255.2" cy="318.8" r="4.1"/><circle cx="262.6" cy="317.2" r="4.1"/><circle cx="267.5" cy="318.8" r="4.1"/><circle cx="265.5" cy="332.5" r="4.1"/><circle cx="251.9" cy="304.8" r="4.1"/><circle cx="257.6" cy="296.6" r="4.1"/><circle cx="259.3" cy="300.7" r="4.1"/><circle cx="237.9" cy="291.6" r="4.1"/><circle cx="244.4" cy="293.3" r="4.1"/><circle cx="305.4" cy="292.5" r="4.1"/><circle cx="327.6" cy="294.1" r="4.1"/><circle cx="332.6" cy="292.5" r="4.1"/><circle cx="278.2" cy="299.9" r="4.1"/><circle cx="274.9" cy="306.5" r="4.1"/><circle cx="279.8" cy="308.1" r="4.1"/><circle cx="287.3" cy="296.6" r="4.1"/><circle cx="298.8" cy="302.9" r="4.1"/><circle cx="293.0" cy="309.0" r="4.1"/><circle cx="288.1" cy="312.7" r="4.1"/><circle cx="313.6" cy="307.0" r="4.1"/><circle cx="321.9" cy="304.8" r="4.1"/><circle cx="322.7" cy="310.1" r="4.1"/><circle cx="268.3" cy="318.8" r="4.1"/><circle cx="288.1" cy="323.0" r="4.1"/><circle cx="298.8" cy="321.3" r="4.1"/><circle cx="296.0" cy="327.6" r="4.1"/><circle cx="308.7" cy="321.3" r="4.1"/><circle cx="312.0" cy="320.5" r="4.1"/><circle cx="310.3" cy="324.6" r="4.1"/><circle cx="331.8" cy="323.0" r="4.1"/><circle cx="266.6" cy="332.9" r="4.1"/><circle cx="294.7" cy="338.6" r="4.1"/><circle cx="268.3" cy="293.3" r="4.1"/><circle cx="270.0" cy="297.4" r="4.1"/><circle cx="349.0" cy="321.6" r="4.1"/><circle cx="244.8" cy="140.5" r="4.1"/><circle cx="258.0" cy="136.1" r="4.1"/><circle cx="275.5" cy="142.7" r="4.1"/><circle cx="284.3" cy="139.4" r="4.1"/><circle cx="295.3" cy="139.4" r="4.1"/><circle cx="240.4" cy="151.5" r="4.1"/><circle cx="228.3" cy="151.5" r="4.1"/><circle cx="250.3" cy="154.8" r="4.1"/><circle cx="262.4" cy="146.0" r="4.1"/><circle cx="271.2" cy="157.0" r="4.1"/><circle cx="282.1" cy="159.2" r="4.1"/><circle cx="295.3" cy="153.7" r="4.1"/><circle cx="301.9" cy="155.9" r="4.1"/></g><g stroke="#000" stroke-width="3.5" stroke-dasharray="7.5 15.14" fill="none"><line x1="117.2" y1="223.3" x2="415" y2="223.3"/><line x1="268.0" y1="72.5" x2="268.0" y2="370.6"/></g><polygon fill="#2a5ba7" points="263.2,169.9 273.5,171.9 285.2,176.1 297.3,178.7 302.4,186.2 305.1,192.8 311.8,198.8 314.7,208.2 318.1,216.7 316.0,225.3 312.3,232.9 305.3,240.1 301.7,247.7 301.9,255.3 304.5,262.7 298.3,269.3 290.5,275.1 280.0,278.3 269.6,275.0 263.3,273.1 254.1,268.6 246.4,264.6 238.9,258.2 230.6,254.9 225.2,247.1 221.3,238.6 217.9,230.1 216.0,222.2 215.7,212.7 217.2,204.7 218.4,196.6 221.4,190.1 226.4,185.4 232.9,180.8 241.1,177.1 249.8,173.2 257.7,170.7"/><g fill="#2a5ba7"><circle cx="272.8" cy="209.7" r="4.1"/><circle cx="257.5" cy="161.0" r="4.1"/><circle cx="313.7" cy="252.1" r="4.1"/><circle cx="259.7" cy="242.7" r="4.1"/><circle cx="275.1" cy="208.9" r="4.1"/><circle cx="292.8" cy="215.1" r="4.1"/><circle cx="259.6" cy="202.9" r="4.1"/><circle cx="279.6" cy="220.5" r="4.1"/><circle cx="281.9" cy="207.6" r="4.1"/><circle cx="271.2" cy="200.3" r="4.1"/><circle cx="289.4" cy="227.8" r="4.1"/><circle cx="276.4" cy="233.4" r="4.1"/><circle cx="242.3" cy="242.9" r="4.1"/><circle cx="224.1" cy="184.8" r="4.1"/><circle cx="289.4" cy="226.3" r="4.1"/><circle cx="295.4" cy="241.3" r="4.1"/><circle cx="273.3" cy="230.2" r="4.1"/><circle cx="263.7" cy="245.1" r="4.1"/><circle cx="239.3" cy="212.3" r="4.1"/><circle cx="274.2" cy="268.8" r="4.1"/><circle cx="248.6" cy="195.6" r="4.1"/><circle cx="253.7" cy="247.6" r="4.1"/><circle cx="262.0" cy="256.6" r="4.1"/><circle cx="220.4" cy="251.7" r="4.1"/><circle cx="294.3" cy="187.0" r="4.1"/><circle cx="271.9" cy="253.9" r="4.1"/><circle cx="270.2" cy="248.4" r="4.1"/><circle cx="328.3" cy="230.0" r="4.1"/><circle cx="260.9" cy="203.4" r="4.1"/><circle cx="284.5" cy="218.0" r="4.1"/><circle cx="263.5" cy="220.3" r="4.1"/><circle cx="284.5" cy="195.9" r="4.1"/><circle cx="298.4" cy="224.9" r="4.1"/><circle cx="306.4" cy="222.8" r="4.1"/><circle cx="249.1" cy="235.1" r="4.1"/><circle cx="266.1" cy="191.1" r="4.1"/><circle cx="245.5" cy="267.9" r="4.1"/><circle cx="277.0" cy="233.6" r="4.1"/><circle cx="261.0" cy="205.5" r="4.1"/><circle cx="290.6" cy="220.3" r="4.1"/><circle cx="248.7" cy="219.6" r="4.1"/><circle cx="245.0" cy="227.8" r="4.1"/><circle cx="296.7" cy="201.8" r="4.1"/><circle cx="304.3" cy="206.0" r="4.1"/><circle cx="271.9" cy="201.8" r="4.1"/><circle cx="262.4" cy="224.2" r="4.1"/><circle cx="257.0" cy="205.1" r="4.1"/><circle cx="250.8" cy="202.1" r="4.1"/><circle cx="228.1" cy="216.3" r="4.1"/><circle cx="278.2" cy="246.1" r="4.1"/><circle cx="284.4" cy="285.4" r="4.1"/><circle cx="276.1" cy="211.4" r="4.1"/><circle cx="315.5" cy="196.4" r="4.1"/><circle cx="292.6" cy="198.7" r="4.1"/><circle cx="277.0" cy="173.0" r="4.1"/><circle cx="290.8" cy="219.0" r="4.1"/><circle cx="243.4" cy="265.6" r="4.1"/><circle cx="287.4" cy="224.2" r="4.1"/><circle cx="249.1" cy="221.9" r="4.1"/><circle cx="263.8" cy="241.4" r="4.1"/><circle cx="288.3" cy="206.0" r="4.1"/><circle cx="254.0" cy="209.5" r="4.1"/><circle cx="233.7" cy="208.0" r="4.1"/><circle cx="265.7" cy="240.6" r="4.1"/><circle cx="301.5" cy="202.5" r="4.1"/><circle cx="282.0" cy="211.7" r="4.1"/><circle cx="320.7" cy="221.8" r="4.1"/><circle cx="280.8" cy="199.2" r="4.1"/><circle cx="247.4" cy="228.1" r="4.1"/><circle cx="258.2" cy="232.0" r="4.1"/><circle cx="228.3" cy="239.8" r="4.1"/><circle cx="245.2" cy="266.7" r="4.1"/><circle cx="260.7" cy="250.9" r="4.1"/><circle cx="232.6" cy="233.9" r="4.1"/><circle cx="245.4" cy="210.6" r="4.1"/><circle cx="268.6" cy="214.9" r="4.1"/><circle cx="274.7" cy="242.0" r="4.1"/><circle cx="284.6" cy="220.8" r="4.1"/><circle cx="233.4" cy="202.6" r="4.1"/><circle cx="263.0" cy="169.1" r="4.1"/><circle cx="287.1" cy="216.9" r="4.1"/><circle cx="261.6" cy="247.1" r="4.1"/><circle cx="285.0" cy="228.6" r="4.1"/><circle cx="242.6" cy="230.9" r="4.1"/><circle cx="276.8" cy="200.5" r="4.1"/><circle cx="294.5" cy="235.9" r="4.1"/><circle cx="218.0" cy="226.1" r="4.1"/><circle cx="235.9" cy="251.9" r="4.1"/><circle cx="288.5" cy="195.0" r="4.1"/><circle cx="245.5" cy="225.6" r="4.1"/><circle cx="261.9" cy="261.7" r="4.1"/><circle cx="286.8" cy="215.8" r="4.1"/><circle cx="282.7" cy="171.4" r="4.1"/><circle cx="275.9" cy="245.0" r="4.1"/><circle cx="263.5" cy="205.0" r="4.1"/><circle cx="282.4" cy="272.7" r="4.1"/><circle cx="273.2" cy="194.5" r="4.1"/><circle cx="304.7" cy="175.3" r="4.1"/><circle cx="280.8" cy="208.2" r="4.1"/><circle cx="291.6" cy="201.4" r="4.1"/><circle cx="301.6" cy="230.6" r="4.1"/><circle cx="224.1" cy="172.9" r="4.1"/><circle cx="260.0" cy="255.9" r="4.1"/><circle cx="271.2" cy="224.7" r="4.1"/><circle cx="262.0" cy="241.7" r="4.1"/><circle cx="277.6" cy="230.1" r="4.1"/><circle cx="243.0" cy="253.2" r="4.1"/><circle cx="302.6" cy="189.9" r="4.1"/><circle cx="255.6" cy="174.6" r="4.1"/><circle cx="284.7" cy="237.2" r="4.1"/><circle cx="252.9" cy="177.5" r="4.1"/><circle cx="296.6" cy="208.1" r="4.1"/><circle cx="256.4" cy="239.5" r="4.1"/><circle cx="210.1" cy="225.7" r="4.1"/><circle cx="248.7" cy="190.3" r="4.1"/><circle cx="227.8" cy="236.3" r="4.1"/><circle cx="270.3" cy="227.1" r="4.1"/><circle cx="289.4" cy="201.5" r="4.1"/><circle cx="236.6" cy="177.9" r="4.1"/><circle cx="259.5" cy="242.3" r="4.1"/><circle cx="264.2" cy="239.3" r="4.1"/><circle cx="238.0" cy="211.1" r="4.1"/><circle cx="248.5" cy="191.3" r="4.1"/><circle cx="315.2" cy="244.6" r="4.1"/><circle cx="248.7" cy="203.5" r="4.1"/><circle cx="266.5" cy="186.4" r="4.1"/><circle cx="279.1" cy="190.1" r="4.1"/><circle cx="258.6" cy="197.0" r="4.1"/><circle cx="255.8" cy="189.2" r="4.1"/><circle cx="228.1" cy="198.5" r="4.1"/><circle cx="250.7" cy="215.5" r="4.1"/><circle cx="269.8" cy="261.8" r="4.1"/><circle cx="288.6" cy="216.6" r="4.1"/><circle cx="286.4" cy="205.5" r="4.1"/><circle cx="304.8" cy="237.0" r="4.1"/><circle cx="233.6" cy="242.2" r="4.1"/><circle cx="249.0" cy="211.0" r="4.1"/><circle cx="219.0" cy="195.9" r="4.1"/><circle cx="243.9" cy="235.9" r="4.1"/><circle cx="275.6" cy="289.7" r="4.1"/><circle cx="258.0" cy="252.3" r="4.1"/><circle cx="270.0" cy="229.9" r="4.1"/><circle cx="238.5" cy="174.5" r="4.1"/><circle cx="248.5" cy="242.4" r="4.1"/><circle cx="308.2" cy="238.3" r="4.1"/><circle cx="280.7" cy="201.7" r="4.1"/><circle cx="307.0" cy="257.1" r="4.1"/><circle cx="254.5" cy="221.8" r="4.1"/><circle cx="242.7" cy="260.3" r="4.1"/><circle cx="278.3" cy="220.6" r="4.1"/><circle cx="278.3" cy="234.2" r="4.1"/><circle cx="257.5" cy="191.5" r="4.1"/><circle cx="235.4" cy="178.8" r="4.1"/><circle cx="279.7" cy="279.4" r="4.1"/><circle cx="224.8" cy="226.5" r="4.1"/><circle cx="278.4" cy="198.0" r="4.1"/><circle cx="273.2" cy="195.1" r="4.1"/><circle cx="298.5" cy="207.9" r="4.1"/><circle cx="270.6" cy="240.4" r="4.1"/><circle cx="257.1" cy="177.5" r="4.1"/><circle cx="254.5" cy="242.4" r="4.1"/><circle cx="265.9" cy="228.8" r="4.1"/><circle cx="240.6" cy="226.6" r="4.1"/><circle cx="286.5" cy="223.9" r="4.1"/><circle cx="316.5" cy="217.7" r="4.1"/><circle cx="241.5" cy="181.9" r="4.1"/><circle cx="297.3" cy="221.5" r="4.1"/><circle cx="293.7" cy="234.6" r="4.1"/><circle cx="309.3" cy="255.2" r="4.1"/><circle cx="258.4" cy="230.0" r="4.1"/><circle cx="295.6" cy="191.6" r="4.1"/><circle cx="304.9" cy="253.8" r="4.1"/><circle cx="293.0" cy="217.9" r="4.1"/><circle cx="275.7" cy="194.6" r="4.1"/><circle cx="269.5" cy="208.1" r="4.1"/><circle cx="270.2" cy="210.4" r="4.1"/><circle cx="275.2" cy="253.0" r="4.1"/><circle cx="234.7" cy="246.5" r="4.1"/><circle cx="265.0" cy="223.2" r="4.1"/><circle cx="279.2" cy="181.2" r="4.1"/><circle cx="266.5" cy="226.2" r="4.1"/><circle cx="299.9" cy="220.4" r="4.1"/><circle cx="281.4" cy="198.2" r="4.1"/><circle cx="263.2" cy="211.7" r="4.1"/><circle cx="285.9" cy="197.9" r="4.1"/><circle cx="246.8" cy="237.6" r="4.1"/><circle cx="313.5" cy="232.7" r="4.1"/><circle cx="275.7" cy="214.2" r="4.1"/><circle cx="295.6" cy="236.7" r="4.1"/><circle cx="312.0" cy="231.4" r="4.1"/><circle cx="243.9" cy="208.5" r="4.1"/><circle cx="242.9" cy="191.2" r="4.1"/><circle cx="300.1" cy="243.5" r="4.1"/><circle cx="236.5" cy="268.2" r="4.1"/><circle cx="274.2" cy="198.7" r="4.1"/><circle cx="277.8" cy="221.2" r="4.1"/><circle cx="248.4" cy="173.6" r="4.1"/><circle cx="268.9" cy="230.4" r="4.1"/><circle cx="283.7" cy="211.1" r="4.1"/><circle cx="270.8" cy="215.9" r="4.1"/><circle cx="246.7" cy="213.9" r="4.1"/><circle cx="302.3" cy="186.2" r="4.1"/><circle cx="274.0" cy="227.7" r="4.1"/><circle cx="250.0" cy="211.8" r="4.1"/><circle cx="232.4" cy="201.4" r="4.1"/><circle cx="268.4" cy="231.3" r="4.1"/><circle cx="253.5" cy="226.2" r="4.1"/><circle cx="262.1" cy="212.8" r="4.1"/><circle cx="301.0" cy="210.8" r="4.1"/><circle cx="301.9" cy="252.0" r="4.1"/><circle cx="241.4" cy="249.3" r="4.1"/><circle cx="258.2" cy="199.1" r="4.1"/><circle cx="219.5" cy="190.2" r="4.1"/><circle cx="253.3" cy="197.7" r="4.1"/><circle cx="236.8" cy="205.3" r="4.1"/><circle cx="262.8" cy="259.8" r="4.1"/><circle cx="224.7" cy="209.0" r="4.1"/><circle cx="243.8" cy="184.5" r="4.1"/><circle cx="235.8" cy="200.0" r="4.1"/><circle cx="286.2" cy="218.1" r="4.1"/><circle cx="254.3" cy="238.5" r="4.1"/><circle cx="275.1" cy="217.3" r="4.1"/><circle cx="277.8" cy="202.0" r="4.1"/><circle cx="283.9" cy="234.9" r="4.1"/><circle cx="257.5" cy="192.0" r="4.1"/><circle cx="306.6" cy="225.4" r="4.1"/><circle cx="289.7" cy="212.0" r="4.1"/><circle cx="274.4" cy="244.2" r="4.1"/><circle cx="247.7" cy="220.5" r="4.1"/><circle cx="272.1" cy="225.9" r="4.1"/><circle cx="283.1" cy="249.0" r="4.1"/><circle cx="289.2" cy="229.7" r="4.1"/><circle cx="259.2" cy="194.3" r="4.1"/><circle cx="249.3" cy="209.6" r="4.1"/><circle cx="285.3" cy="213.8" r="4.1"/><circle cx="236.4" cy="238.9" r="4.1"/><circle cx="247.6" cy="203.5" r="4.1"/><circle cx="262.3" cy="235.0" r="4.1"/><circle cx="206.7" cy="194.5" r="4.1"/><circle cx="272.5" cy="213.8" r="4.1"/><circle cx="246.0" cy="209.2" r="4.1"/><circle cx="303.2" cy="211.4" r="4.1"/><circle cx="286.1" cy="243.1" r="4.1"/><circle cx="256.6" cy="234.3" r="4.1"/><circle cx="256.6" cy="207.5" r="4.1"/><circle cx="239.4" cy="245.2" r="4.1"/><circle cx="257.9" cy="209.0" r="4.1"/><circle cx="239.4" cy="268.9" r="4.1"/><circle cx="286.8" cy="219.6" r="4.1"/><circle cx="250.4" cy="184.1" r="4.1"/><circle cx="275.4" cy="230.3" r="4.1"/><circle cx="232.2" cy="252.5" r="4.1"/><circle cx="287.7" cy="198.6" r="4.1"/><circle cx="253.9" cy="212.1" r="4.1"/><circle cx="272.1" cy="219.3" r="4.1"/><circle cx="226.4" cy="260.4" r="4.1"/><circle cx="276.0" cy="255.0" r="4.1"/><circle cx="299.9" cy="217.7" r="4.1"/><circle cx="276.7" cy="241.7" r="4.1"/><circle cx="287.5" cy="218.8" r="4.1"/><circle cx="252.3" cy="223.9" r="4.1"/><circle cx="247.6" cy="208.9" r="4.1"/><circle cx="216.4" cy="225.1" r="4.1"/><circle cx="241.9" cy="208.9" r="4.1"/><circle cx="266.7" cy="231.0" r="4.1"/><circle cx="316.0" cy="228.2" r="4.1"/><circle cx="232.1" cy="226.3" r="4.1"/><circle cx="252.9" cy="233.1" r="4.1"/><circle cx="250.6" cy="205.0" r="4.1"/><circle cx="255.0" cy="207.1" r="4.1"/><circle cx="221.7" cy="206.0" r="4.1"/><circle cx="267.6" cy="253.5" r="4.1"/><circle cx="260.6" cy="213.6" r="4.1"/><circle cx="282.7" cy="236.7" r="4.1"/><circle cx="308.6" cy="237.9" r="4.1"/><circle cx="267.5" cy="257.0" r="4.1"/><circle cx="306.8" cy="210.9" r="4.1"/><circle cx="272.0" cy="180.3" r="4.1"/><circle cx="258.8" cy="200.6" r="4.1"/><circle cx="262.6" cy="210.8" r="4.1"/><circle cx="263.8" cy="220.4" r="4.1"/><circle cx="280.5" cy="228.9" r="4.1"/><circle cx="253.7" cy="190.3" r="4.1"/><circle cx="299.4" cy="259.0" r="4.1"/><circle cx="256.5" cy="237.3" r="4.1"/><circle cx="229.2" cy="183.3" r="4.1"/><circle cx="261.1" cy="260.4" r="4.1"/><circle cx="241.4" cy="201.8" r="4.1"/><circle cx="308.8" cy="174.9" r="4.1"/><circle cx="284.4" cy="235.4" r="4.1"/><circle cx="262.8" cy="227.8" r="4.1"/><circle cx="260.0" cy="217.0" r="4.1"/><circle cx="250.5" cy="188.9" r="4.1"/><circle cx="308.5" cy="228.6" r="4.1"/><circle cx="223.3" cy="205.1" r="4.1"/><circle cx="278.3" cy="233.2" r="4.1"/><circle cx="231.4" cy="220.7" r="4.1"/><circle cx="274.6" cy="233.0" r="4.1"/><circle cx="278.0" cy="176.7" r="4.1"/><circle cx="314.9" cy="228.4" r="4.1"/><circle cx="263.9" cy="191.7" r="4.1"/><circle cx="289.9" cy="218.4" r="4.1"/><circle cx="256.5" cy="196.8" r="4.1"/><circle cx="310.9" cy="211.8" r="4.1"/><circle cx="232.5" cy="211.6" r="4.1"/><circle cx="238.6" cy="227.0" r="4.1"/><circle cx="257.3" cy="196.1" r="4.1"/><circle cx="283.3" cy="206.7" r="4.1"/><circle cx="286.4" cy="255.0" r="4.1"/><circle cx="258.8" cy="206.6" r="4.1"/><circle cx="273.1" cy="245.6" r="4.1"/><circle cx="267.9" cy="226.6" r="4.1"/><circle cx="267.3" cy="230.9" r="4.1"/><circle cx="284.0" cy="205.1" r="4.1"/><circle cx="255.7" cy="224.1" r="4.1"/><circle cx="251.1" cy="226.5" r="4.1"/><circle cx="281.6" cy="222.4" r="4.1"/><circle cx="252.7" cy="203.3" r="4.1"/><circle cx="312.5" cy="245.3" r="4.1"/><circle cx="239.6" cy="201.6" r="4.1"/><circle cx="271.3" cy="252.4" r="4.1"/><circle cx="230.2" cy="223.0" r="4.1"/><circle cx="286.8" cy="175.8" r="4.1"/><circle cx="248.1" cy="242.9" r="4.1"/><circle cx="296.7" cy="207.9" r="4.1"/><circle cx="275.4" cy="263.7" r="4.1"/><circle cx="258.3" cy="189.1" r="4.1"/><circle cx="266.4" cy="213.0" r="4.1"/><circle cx="301.0" cy="227.1" r="4.1"/><circle cx="255.3" cy="235.0" r="4.1"/><circle cx="285.2" cy="242.9" r="4.1"/><circle cx="272.4" cy="237.9" r="4.1"/><circle cx="266.3" cy="187.0" r="4.1"/><circle cx="262.4" cy="218.0" r="4.1"/><circle cx="263.5" cy="226.5" r="4.1"/><circle cx="252.1" cy="256.6" r="4.1"/><circle cx="268.2" cy="205.0" r="4.1"/><circle cx="252.3" cy="213.5" r="4.1"/><circle cx="251.4" cy="250.6" r="4.1"/><circle cx="299.5" cy="230.0" r="4.1"/><circle cx="285.6" cy="220.1" r="4.1"/><circle cx="271.6" cy="204.2" r="4.1"/><circle cx="268.9" cy="204.9" r="4.1"/><circle cx="277.5" cy="244.0" r="4.1"/><circle cx="275.9" cy="253.1" r="4.1"/><circle cx="268.3" cy="208.6" r="4.1"/><circle cx="256.4" cy="188.5" r="4.1"/><circle cx="269.3" cy="216.4" r="4.1"/><circle cx="251.9" cy="216.5" r="4.1"/><circle cx="252.9" cy="163.5" r="4.1"/><circle cx="295.4" cy="215.3" r="4.1"/><circle cx="243.9" cy="230.8" r="4.1"/><circle cx="251.2" cy="167.8" r="4.1"/><circle cx="290.5" cy="180.4" r="4.1"/><circle cx="262.5" cy="226.1" r="4.1"/><circle cx="302.3" cy="253.2" r="4.1"/><circle cx="272.2" cy="203.6" r="4.1"/><circle cx="257.4" cy="250.6" r="4.1"/><circle cx="313.4" cy="236.8" r="4.1"/><circle cx="251.6" cy="249.1" r="4.1"/><circle cx="258.5" cy="212.6" r="4.1"/><circle cx="260.9" cy="238.0" r="4.1"/><circle cx="275.0" cy="248.2" r="4.1"/><circle cx="300.9" cy="236.0" r="4.1"/><circle cx="272.0" cy="221.4" r="4.1"/><circle cx="322.8" cy="222.2" r="4.1"/><circle cx="264.1" cy="247.0" r="4.1"/><circle cx="295.0" cy="217.0" r="4.1"/><circle cx="280.0" cy="194.2" r="4.1"/><circle cx="244.0" cy="254.3" r="4.1"/><circle cx="232.3" cy="246.4" r="4.1"/><circle cx="285.2" cy="242.6" r="4.1"/><circle cx="291.2" cy="237.3" r="4.1"/><circle cx="213.6" cy="197.5" r="4.1"/><circle cx="252.7" cy="246.2" r="4.1"/><circle cx="239.4" cy="205.1" r="4.1"/><circle cx="258.8" cy="256.4" r="4.1"/><circle cx="231.4" cy="188.6" r="4.1"/><circle cx="283.9" cy="169.0" r="4.1"/><circle cx="276.4" cy="211.5" r="4.1"/><circle cx="227.9" cy="212.3" r="4.1"/><circle cx="242.5" cy="227.3" r="4.1"/><circle cx="277.2" cy="260.8" r="4.1"/><circle cx="267.7" cy="225.6" r="4.1"/><circle cx="253.3" cy="222.4" r="4.1"/><circle cx="294.7" cy="174.1" r="4.1"/><circle cx="284.7" cy="209.4" r="4.1"/><circle cx="269.9" cy="231.3" r="4.1"/><circle cx="289.6" cy="229.1" r="4.1"/><circle cx="258.0" cy="230.9" r="4.1"/><circle cx="268.3" cy="217.8" r="4.1"/><circle cx="273.2" cy="245.2" r="4.1"/><circle cx="271.5" cy="226.9" r="4.1"/><circle cx="235.3" cy="219.8" r="4.1"/><circle cx="220.8" cy="241.3" r="4.1"/><circle cx="244.1" cy="255.9" r="4.1"/><circle cx="301.8" cy="233.3" r="4.1"/><circle cx="253.9" cy="201.6" r="4.1"/><circle cx="282.3" cy="258.4" r="4.1"/><circle cx="277.0" cy="184.6" r="4.1"/><circle cx="241.5" cy="217.2" r="4.1"/><circle cx="302.5" cy="230.2" r="4.1"/><circle cx="276.3" cy="253.7" r="4.1"/><circle cx="262.8" cy="220.7" r="4.1"/><circle cx="263.4" cy="177.8" r="4.1"/><circle cx="279.9" cy="233.4" r="4.1"/><circle cx="292.8" cy="192.8" r="4.1"/><circle cx="247.3" cy="246.7" r="4.1"/><circle cx="276.2" cy="257.9" r="4.1"/><circle cx="246.1" cy="228.1" r="4.1"/><circle cx="250.8" cy="230.9" r="4.1"/><circle cx="255.7" cy="236.6" r="4.1"/><circle cx="295.5" cy="240.2" r="4.1"/><circle cx="222.1" cy="246.9" r="4.1"/><circle cx="279.4" cy="196.5" r="4.1"/><circle cx="245.5" cy="223.2" r="4.1"/><circle cx="282.6" cy="211.6" r="4.1"/><circle cx="226.8" cy="230.2" r="4.1"/><circle cx="272.3" cy="285.0" r="4.1"/><circle cx="312.3" cy="230.7" r="4.1"/><circle cx="310.1" cy="225.5" r="4.1"/><circle cx="292.8" cy="204.4" r="4.1"/><circle cx="270.0" cy="197.2" r="4.1"/><circle cx="228.0" cy="216.1" r="4.1"/><circle cx="251.3" cy="237.5" r="4.1"/><circle cx="300.3" cy="218.7" r="4.1"/><circle cx="269.5" cy="227.8" r="4.1"/><circle cx="225.4" cy="229.8" r="4.1"/><circle cx="268.3" cy="221.8" r="4.1"/><circle cx="240.1" cy="172.7" r="4.1"/><circle cx="261.6" cy="231.0" r="4.1"/><circle cx="302.1" cy="251.7" r="4.1"/><circle cx="305.0" cy="232.4" r="4.1"/><circle cx="297.4" cy="217.8" r="4.1"/><circle cx="284.0" cy="246.7" r="4.1"/><circle cx="235.7" cy="258.0" r="4.1"/><circle cx="247.9" cy="221.5" r="4.1"/><circle cx="260.5" cy="199.9" r="4.1"/><circle cx="301.9" cy="238.1" r="4.1"/><circle cx="252.5" cy="224.8" r="4.1"/><circle cx="257.0" cy="238.6" r="4.1"/><circle cx="258.4" cy="203.5" r="4.1"/><circle cx="251.6" cy="211.9" r="4.1"/><circle cx="275.3" cy="199.7" r="4.1"/><circle cx="265.7" cy="234.3" r="4.1"/><circle cx="257.9" cy="231.1" r="4.1"/><circle cx="307.9" cy="241.8" r="4.1"/><circle cx="209.5" cy="230.8" r="4.1"/><circle cx="270.7" cy="233.5" r="4.1"/><circle cx="302.5" cy="195.3" r="4.1"/><circle cx="296.0" cy="181.0" r="4.1"/><circle cx="269.3" cy="232.7" r="4.1"/><circle cx="326.0" cy="205.2" r="4.1"/><circle cx="225.0" cy="240.5" r="4.1"/><circle cx="251.2" cy="262.7" r="4.1"/><circle cx="250.0" cy="200.7" r="4.1"/><circle cx="299.6" cy="225.2" r="4.1"/><circle cx="293.4" cy="186.7" r="4.1"/><circle cx="309.9" cy="208.0" r="4.1"/><circle cx="288.8" cy="197.5" r="4.1"/><circle cx="228.6" cy="216.5" r="4.1"/><circle cx="272.4" cy="263.0" r="4.1"/><circle cx="276.9" cy="241.2" r="4.1"/><circle cx="247.2" cy="254.9" r="4.1"/><circle cx="264.2" cy="229.6" r="4.1"/><circle cx="254.1" cy="252.5" r="4.1"/><circle cx="236.1" cy="189.4" r="4.1"/><circle cx="262.7" cy="193.6" r="4.1"/><circle cx="285.9" cy="246.4" r="4.1"/><circle cx="248.9" cy="242.9" r="4.1"/><circle cx="251.2" cy="221.9" r="4.1"/><circle cx="268.2" cy="270.7" r="4.1"/><circle cx="268.0" cy="199.8" r="4.1"/><circle cx="244.7" cy="253.5" r="4.1"/><circle cx="225.6" cy="211.1" r="4.1"/><circle cx="258.3" cy="160.8" r="4.1"/><circle cx="256.1" cy="248.5" r="4.1"/><circle cx="273.9" cy="200.1" r="4.1"/><circle cx="285.5" cy="236.1" r="4.1"/><circle cx="319.4" cy="204.1" r="4.1"/><circle cx="258.1" cy="224.0" r="4.1"/><circle cx="264.5" cy="225.2" r="4.1"/><circle cx="265.3" cy="205.3" r="4.1"/><circle cx="227.2" cy="208.8" r="4.1"/><circle cx="232.6" cy="196.3" r="4.1"/><circle cx="254.1" cy="235.8" r="4.1"/><circle cx="289.5" cy="196.5" r="4.1"/><circle cx="275.6" cy="243.1" r="4.1"/><circle cx="266.5" cy="181.0" r="4.1"/><circle cx="212.8" cy="242.7" r="4.1"/><circle cx="290.8" cy="229.5" r="4.1"/><circle cx="240.7" cy="259.4" r="4.1"/><circle cx="298.3" cy="221.3" r="4.1"/><circle cx="261.7" cy="172.7" r="4.1"/><circle cx="286.5" cy="181.4" r="4.1"/><circle cx="284.6" cy="240.9" r="4.1"/><circle cx="269.7" cy="262.5" r="4.1"/><circle cx="259.2" cy="237.3" r="4.1"/><circle cx="287.6" cy="228.7" r="4.1"/><circle cx="256.7" cy="253.6" r="4.1"/><circle cx="278.1" cy="217.5" r="4.1"/><circle cx="263.1" cy="225.7" r="4.1"/><circle cx="325.3" cy="225.1" r="4.1"/><circle cx="261.3" cy="195.3" r="4.1"/><circle cx="236.4" cy="174.2" r="4.1"/><circle cx="273.3" cy="223.1" r="4.1"/><circle cx="241.2" cy="184.6" r="4.1"/><circle cx="259.0" cy="209.0" r="4.1"/><circle cx="233.4" cy="230.0" r="4.1"/><circle cx="270.9" cy="221.0" r="4.1"/><circle cx="286.9" cy="205.7" r="4.1"/><circle cx="301.8" cy="196.5" r="4.1"/><circle cx="280.3" cy="238.4" r="4.1"/><circle cx="260.6" cy="231.2" r="4.1"/><circle cx="234.6" cy="184.0" r="4.1"/><circle cx="262.1" cy="203.7" r="4.1"/><circle cx="282.2" cy="223.0" r="4.1"/><circle cx="282.9" cy="230.3" r="4.1"/><circle cx="272.4" cy="224.6" r="4.1"/><circle cx="257.7" cy="210.4" r="4.1"/><circle cx="262.4" cy="247.7" r="4.1"/><circle cx="277.8" cy="258.0" r="4.1"/><circle cx="281.1" cy="190.1" r="4.1"/><circle cx="258.8" cy="186.5" r="4.1"/><circle cx="292.1" cy="258.8" r="4.1"/><circle cx="255.9" cy="235.9" r="4.1"/><circle cx="256.6" cy="185.5" r="4.1"/><circle cx="255.7" cy="181.8" r="4.1"/><circle cx="252.5" cy="227.3" r="4.1"/><circle cx="285.4" cy="254.8" r="4.1"/><circle cx="258.4" cy="227.9" r="4.1"/><circle cx="277.6" cy="236.0" r="4.1"/><circle cx="287.0" cy="193.4" r="4.1"/><circle cx="273.1" cy="242.9" r="4.1"/><circle cx="218.6" cy="216.9" r="4.1"/><circle cx="272.7" cy="222.0" r="4.1"/><circle cx="227.8" cy="230.5" r="4.1"/><circle cx="252.4" cy="242.5" r="4.1"/><circle cx="277.5" cy="207.6" r="4.1"/><circle cx="271.0" cy="203.9" r="4.1"/><circle cx="248.7" cy="181.3" r="4.1"/><circle cx="260.3" cy="241.8" r="4.1"/><circle cx="269.1" cy="220.6" r="4.1"/><circle cx="250.1" cy="207.7" r="4.1"/><circle cx="284.8" cy="182.9" r="4.1"/><circle cx="318.2" cy="219.2" r="4.1"/><circle cx="255.0" cy="239.3" r="4.1"/><circle cx="272.1" cy="232.3" r="4.1"/><circle cx="285.6" cy="206.5" r="4.1"/><circle cx="249.7" cy="209.7" r="4.1"/><circle cx="230.6" cy="213.6" r="4.1"/><circle cx="271.0" cy="226.5" r="4.1"/><circle cx="270.0" cy="210.0" r="4.1"/><circle cx="285.0" cy="167.9" r="4.1"/><circle cx="254.8" cy="211.5" r="4.1"/><circle cx="287.6" cy="236.6" r="4.1"/><circle cx="285.0" cy="220.0" r="4.1"/><circle cx="288.7" cy="194.0" r="4.1"/><circle cx="266.3" cy="165.7" r="4.1"/><circle cx="307.9" cy="259.7" r="4.1"/><circle cx="249.1" cy="197.7" r="4.1"/><circle cx="267.3" cy="215.2" r="4.1"/><circle cx="226.7" cy="206.5" r="4.1"/><circle cx="247.3" cy="231.1" r="4.1"/><circle cx="282.2" cy="213.6" r="4.1"/><circle cx="267.2" cy="219.1" r="4.1"/><circle cx="211.2" cy="223.8" r="4.1"/><circle cx="262.6" cy="238.3" r="4.1"/><circle cx="217.7" cy="238.7" r="4.1"/><circle cx="248.1" cy="226.1" r="4.1"/><circle cx="295.1" cy="181.9" r="4.1"/><circle cx="231.0" cy="244.6" r="4.1"/><circle cx="235.4" cy="195.0" r="4.1"/><circle cx="279.7" cy="214.2" r="4.1"/><circle cx="284.2" cy="227.0" r="4.1"/><circle cx="263.8" cy="244.5" r="4.1"/><circle cx="320.1" cy="216.9" r="4.1"/><circle cx="302.1" cy="248.3" r="4.1"/><circle cx="267.3" cy="231.1" r="4.1"/><circle cx="240.7" cy="203.9" r="4.1"/><circle cx="271.6" cy="218.3" r="4.1"/><circle cx="297.6" cy="186.5" r="4.1"/><circle cx="257.1" cy="203.3" r="4.1"/><circle cx="260.7" cy="249.1" r="4.1"/><circle cx="233.9" cy="241.2" r="4.1"/><circle cx="249.6" cy="211.4" r="4.1"/><circle cx="290.0" cy="212.4" r="4.1"/><circle cx="281.6" cy="222.5" r="4.1"/><circle cx="260.3" cy="210.5" r="4.1"/><circle cx="220.7" cy="200.7" r="4.1"/><circle cx="269.0" cy="224.9" r="4.1"/><circle cx="226.9" cy="245.3" r="4.1"/><circle cx="279.4" cy="186.7" r="4.1"/><circle cx="238.3" cy="232.8" r="4.1"/><circle cx="220.2" cy="201.0" r="4.1"/><circle cx="263.6" cy="216.7" r="4.1"/><circle cx="263.5" cy="229.9" r="4.1"/><circle cx="244.7" cy="207.7" r="4.1"/><circle cx="253.7" cy="223.0" r="4.1"/><circle cx="248.7" cy="251.2" r="4.1"/><circle cx="267.1" cy="239.5" r="4.1"/><circle cx="294.5" cy="201.1" r="4.1"/><circle cx="298.5" cy="227.1" r="4.1"/><circle cx="289.0" cy="266.5" r="4.1"/><circle cx="268.0" cy="194.7" r="4.1"/><circle cx="265.2" cy="188.1" r="4.1"/><circle cx="245.2" cy="201.2" r="4.1"/><circle cx="247.5" cy="250.3" r="4.1"/><circle cx="286.9" cy="197.9" r="4.1"/><circle cx="294.5" cy="178.1" r="4.1"/><circle cx="249.1" cy="217.3" r="4.1"/><circle cx="296.1" cy="239.4" r="4.1"/><circle cx="277.5" cy="254.1" r="4.1"/><circle cx="284.3" cy="255.8" r="4.1"/><circle cx="246.1" cy="178.2" r="4.1"/><circle cx="255.6" cy="242.3" r="4.1"/><circle cx="272.8" cy="243.9" r="4.1"/><circle cx="284.3" cy="234.4" r="4.1"/><circle cx="287.1" cy="203.1" r="4.1"/><circle cx="294.1" cy="195.8" r="4.1"/><circle cx="263.4" cy="185.4" r="4.1"/><circle cx="279.2" cy="181.9" r="4.1"/><circle cx="302.1" cy="187.2" r="4.1"/><circle cx="273.0" cy="217.8" r="4.1"/><circle cx="244.1" cy="253.1" r="4.1"/><circle cx="255.5" cy="258.7" r="4.1"/><circle cx="240.3" cy="201.0" r="4.1"/><circle cx="215.5" cy="235.4" r="4.1"/><circle cx="289.7" cy="227.1" r="4.1"/><circle cx="262.3" cy="198.0" r="4.1"/><circle cx="219.5" cy="213.5" r="4.1"/><circle cx="265.1" cy="206.4" r="4.1"/><circle cx="230.8" cy="235.0" r="4.1"/><circle cx="247.5" cy="211.9" r="4.1"/><circle cx="250.2" cy="213.7" r="4.1"/><circle cx="289.4" cy="264.5" r="4.1"/><circle cx="270.4" cy="222.1" r="4.1"/><circle cx="238.2" cy="190.3" r="4.1"/><circle cx="239.5" cy="244.1" r="4.1"/><circle cx="272.9" cy="246.3" r="4.1"/><circle cx="277.5" cy="211.4" r="4.1"/><circle cx="235.0" cy="212.3" r="4.1"/><circle cx="273.6" cy="212.4" r="4.1"/><circle cx="317.6" cy="212.0" r="4.1"/><circle cx="281.0" cy="217.6" r="4.1"/><circle cx="275.9" cy="212.4" r="4.1"/><circle cx="279.4" cy="258.2" r="4.1"/><circle cx="234.6" cy="165.0" r="4.1"/><circle cx="301.4" cy="226.1" r="4.1"/><circle cx="289.2" cy="214.4" r="4.1"/><circle cx="306.4" cy="268.5" r="4.1"/><circle cx="236.9" cy="239.1" r="4.1"/><circle cx="251.2" cy="180.5" r="4.1"/><circle cx="259.0" cy="236.3" r="4.1"/><circle cx="231.6" cy="188.6" r="4.1"/><circle cx="298.2" cy="222.3" r="4.1"/><circle cx="276.8" cy="192.1" r="4.1"/><circle cx="249.6" cy="224.4" r="4.1"/><circle cx="271.0" cy="224.9" r="4.1"/><circle cx="306.9" cy="225.2" r="4.1"/><circle cx="226.6" cy="198.4" r="4.1"/><circle cx="264.2" cy="253.4" r="4.1"/><circle cx="247.9" cy="210.4" r="4.1"/><circle cx="264.7" cy="202.2" r="4.1"/><circle cx="244.1" cy="214.1" r="4.1"/><circle cx="290.6" cy="232.5" r="4.1"/><circle cx="257.6" cy="230.3" r="4.1"/><circle cx="232.0" cy="245.5" r="4.1"/><circle cx="283.9" cy="227.5" r="4.1"/><circle cx="241.2" cy="237.6" r="4.1"/><circle cx="226.3" cy="225.8" r="4.1"/><circle cx="260.8" cy="212.3" r="4.1"/><circle cx="286.7" cy="256.3" r="4.1"/><circle cx="275.0" cy="212.7" r="4.1"/><circle cx="257.1" cy="172.2" r="4.1"/><circle cx="268.9" cy="257.1" r="4.1"/><circle cx="261.3" cy="189.9" r="4.1"/><circle cx="322.9" cy="235.8" r="4.1"/><circle cx="273.9" cy="246.2" r="4.1"/><circle cx="209.3" cy="218.3" r="4.1"/><circle cx="260.9" cy="278.5" r="4.1"/><circle cx="250.7" cy="206.1" r="4.1"/><circle cx="229.5" cy="199.2" r="4.1"/><circle cx="260.1" cy="227.1" r="4.1"/><circle cx="260.3" cy="272.0" r="4.1"/><circle cx="278.1" cy="236.9" r="4.1"/><circle cx="300.7" cy="236.8" r="4.1"/><circle cx="252.1" cy="180.7" r="4.1"/><circle cx="274.7" cy="199.2" r="4.1"/><circle cx="299.4" cy="200.8" r="4.1"/><circle cx="208.2" cy="221.6" r="4.1"/><circle cx="293.2" cy="215.2" r="4.1"/><circle cx="270.2" cy="224.5" r="4.1"/><circle cx="309.9" cy="228.3" r="4.1"/><circle cx="264.5" cy="204.6" r="4.1"/><circle cx="223.2" cy="256.8" r="4.1"/><circle cx="295.1" cy="195.9" r="4.1"/><circle cx="281.2" cy="228.9" r="4.1"/><circle cx="255.6" cy="212.4" r="4.1"/><circle cx="284.9" cy="189.4" r="4.1"/><circle cx="252.0" cy="218.4" r="4.1"/><circle cx="265.2" cy="215.0" r="4.1"/><circle cx="271.0" cy="234.1" r="4.1"/><circle cx="242.4" cy="222.6" r="4.1"/><circle cx="251.8" cy="259.3" r="4.1"/><circle cx="229.2" cy="214.4" r="4.1"/><circle cx="283.5" cy="213.1" r="4.1"/><circle cx="256.9" cy="206.6" r="4.1"/><circle cx="273.6" cy="190.5" r="4.1"/><circle cx="263.4" cy="218.0" r="4.1"/><circle cx="227.9" cy="227.7" r="4.1"/><circle cx="253.7" cy="228.7" r="4.1"/><circle cx="287.9" cy="229.7" r="4.1"/><circle cx="235.4" cy="229.2" r="4.1"/><circle cx="224.7" cy="201.2" r="4.1"/><circle cx="309.0" cy="221.2" r="4.1"/><circle cx="306.2" cy="216.5" r="4.1"/><circle cx="266.4" cy="192.5" r="4.1"/><circle cx="290.5" cy="216.2" r="4.1"/><circle cx="282.4" cy="232.6" r="4.1"/><circle cx="280.2" cy="229.9" r="4.1"/><circle cx="265.6" cy="221.6" r="4.1"/><circle cx="248.9" cy="167.0" r="4.1"/><circle cx="279.4" cy="275.4" r="4.1"/><circle cx="294.8" cy="282.1" r="4.1"/><circle cx="279.6" cy="197.5" r="4.1"/><circle cx="241.9" cy="241.6" r="4.1"/><circle cx="276.3" cy="218.3" r="4.1"/><circle cx="286.7" cy="200.1" r="4.1"/><circle cx="281.1" cy="215.5" r="4.1"/><circle cx="271.8" cy="253.3" r="4.1"/><circle cx="264.3" cy="258.3" r="4.1"/><circle cx="302.1" cy="203.5" r="4.1"/><circle cx="265.5" cy="242.1" r="4.1"/><circle cx="297.5" cy="220.3" r="4.1"/><circle cx="275.2" cy="228.8" r="4.1"/><circle cx="262.9" cy="250.8" r="4.1"/><circle cx="258.7" cy="222.1" r="4.1"/><circle cx="277.7" cy="245.2" r="4.1"/><circle cx="296.7" cy="185.2" r="4.1"/><circle cx="216.0" cy="219.7" r="4.1"/><circle cx="266.9" cy="195.4" r="4.1"/><circle cx="276.1" cy="239.5" r="4.1"/><circle cx="278.1" cy="265.7" r="4.1"/><circle cx="241.6" cy="223.8" r="4.1"/><circle cx="317.9" cy="240.7" r="4.1"/><circle cx="239.4" cy="228.4" r="4.1"/><circle cx="298.6" cy="276.8" r="4.1"/><circle cx="285.3" cy="253.2" r="4.1"/><circle cx="239.5" cy="216.7" r="4.1"/><circle cx="298.9" cy="198.4" r="4.1"/><circle cx="266.5" cy="175.0" r="4.1"/><circle cx="306.2" cy="219.7" r="4.1"/><circle cx="282.6" cy="184.3" r="4.1"/><circle cx="234.2" cy="269.8" r="4.1"/><circle cx="259.2" cy="209.0" r="4.1"/><circle cx="281.2" cy="237.3" r="4.1"/><circle cx="217.4" cy="197.9" r="4.1"/><circle cx="269.3" cy="223.1" r="4.1"/><circle cx="277.1" cy="211.9" r="4.1"/><circle cx="260.8" cy="228.5" r="4.1"/><circle cx="250.2" cy="201.5" r="4.1"/><circle cx="253.9" cy="223.1" r="4.1"/><circle cx="264.1" cy="210.6" r="4.1"/><circle cx="261.5" cy="221.7" r="4.1"/><circle cx="276.2" cy="232.2" r="4.1"/><circle cx="234.8" cy="247.9" r="4.1"/><circle cx="226.7" cy="236.9" r="4.1"/><circle cx="249.7" cy="237.7" r="4.1"/><circle cx="295.1" cy="174.4" r="4.1"/><circle cx="283.2" cy="229.8" r="4.1"/><circle cx="255.8" cy="232.6" r="4.1"/><circle cx="255.0" cy="225.7" r="4.1"/><circle cx="240.7" cy="242.8" r="4.1"/><circle cx="282.8" cy="241.7" r="4.1"/><circle cx="250.9" cy="269.8" r="4.1"/><circle cx="318.3" cy="220.4" r="4.1"/><circle cx="257.0" cy="212.2" r="4.1"/><circle cx="285.2" cy="249.0" r="4.1"/><circle cx="248.5" cy="170.7" r="4.1"/><circle cx="279.3" cy="221.6" r="4.1"/><circle cx="272.0" cy="235.8" r="4.1"/><circle cx="239.1" cy="224.2" r="4.1"/><circle cx="259.9" cy="232.2" r="4.1"/><circle cx="298.7" cy="222.5" r="4.1"/><circle cx="245.5" cy="254.3" r="4.1"/><circle cx="285.5" cy="217.1" r="4.1"/><circle cx="221.1" cy="199.8" r="4.1"/><circle cx="270.9" cy="236.2" r="4.1"/><circle cx="253.6" cy="233.2" r="4.1"/><circle cx="250.8" cy="211.2" r="4.1"/><circle cx="280.6" cy="215.0" r="4.1"/><circle cx="270.5" cy="244.3" r="4.1"/><circle cx="295.8" cy="206.8" r="4.1"/><circle cx="260.4" cy="187.9" r="4.1"/><circle cx="233.4" cy="229.4" r="4.1"/><circle cx="253.4" cy="174.4" r="4.1"/><circle cx="280.2" cy="200.2" r="4.1"/><circle cx="258.7" cy="232.3" r="4.1"/><circle cx="276.8" cy="220.2" r="4.1"/><circle cx="215.8" cy="236.0" r="4.1"/><circle cx="251.4" cy="185.5" r="4.1"/><circle cx="270.2" cy="224.5" r="4.1"/><circle cx="282.2" cy="219.6" r="4.1"/><circle cx="229.0" cy="239.0" r="4.1"/><circle cx="292.2" cy="234.8" r="4.1"/><circle cx="305.9" cy="270.2" r="4.1"/><circle cx="246.4" cy="210.4" r="4.1"/><circle cx="289.3" cy="226.2" r="4.1"/><circle cx="272.1" cy="245.6" r="4.1"/><circle cx="285.6" cy="210.5" r="4.1"/><circle cx="270.0" cy="203.7" r="4.1"/><circle cx="261.9" cy="193.6" r="4.1"/><circle cx="216.9" cy="209.2" r="4.1"/><circle cx="251.8" cy="244.6" r="4.1"/><circle cx="306.9" cy="222.6" r="4.1"/><circle cx="278.9" cy="205.8" r="4.1"/><circle cx="243.4" cy="214.8" r="4.1"/><circle cx="259.8" cy="229.6" r="4.1"/><circle cx="269.9" cy="264.2" r="4.1"/><circle cx="261.6" cy="180.2" r="4.1"/><circle cx="270.2" cy="205.4" r="4.1"/><circle cx="272.4" cy="250.8" r="4.1"/><circle cx="250.9" cy="220.3" r="4.1"/><circle cx="280.4" cy="198.2" r="4.1"/><circle cx="272.7" cy="236.1" r="4.1"/><circle cx="287.9" cy="250.2" r="4.1"/><circle cx="281.4" cy="232.3" r="4.1"/><circle cx="242.9" cy="258.5" r="4.1"/><circle cx="270.4" cy="165.2" r="4.1"/><circle cx="256.8" cy="231.7" r="4.1"/><circle cx="220.5" cy="237.1" r="4.1"/><circle cx="238.4" cy="249.0" r="4.1"/><circle cx="233.8" cy="229.8" r="4.1"/><circle cx="230.2" cy="251.8" r="4.1"/><circle cx="270.9" cy="246.1" r="4.1"/><circle cx="270.4" cy="193.0" r="4.1"/><circle cx="251.3" cy="191.4" r="4.1"/><circle cx="241.3" cy="226.5" r="4.1"/><circle cx="295.0" cy="244.6" r="4.1"/><circle cx="280.9" cy="208.5" r="4.1"/><circle cx="280.8" cy="201.2" r="4.1"/><circle cx="273.1" cy="244.1" r="4.1"/><circle cx="263.1" cy="211.0" r="4.1"/><circle cx="256.9" cy="238.4" r="4.1"/><circle cx="260.0" cy="186.8" r="4.1"/><circle cx="257.4" cy="195.9" r="4.1"/><circle cx="305.9" cy="223.2" r="4.1"/><circle cx="230.6" cy="229.6" r="4.1"/><circle cx="286.1" cy="232.5" r="4.1"/><circle cx="258.7" cy="226.6" r="4.1"/><circle cx="274.9" cy="248.3" r="4.1"/><circle cx="277.1" cy="280.3" r="4.1"/><circle cx="262.4" cy="261.6" r="4.1"/><circle cx="268.3" cy="179.7" r="4.1"/><circle cx="238.2" cy="176.9" r="4.1"/><circle cx="224.4" cy="253.3" r="4.1"/><circle cx="251.2" cy="238.1" r="4.1"/><circle cx="245.4" cy="222.6" r="4.1"/><circle cx="241.3" cy="244.8" r="4.1"/><circle cx="261.5" cy="211.5" r="4.1"/><circle cx="263.8" cy="277.9" r="4.1"/><circle cx="279.2" cy="244.1" r="4.1"/><circle cx="236.5" cy="206.5" r="4.1"/><circle cx="275.4" cy="175.9" r="4.1"/><circle cx="301.7" cy="229.8" r="4.1"/><circle cx="267.5" cy="217.9" r="4.1"/><circle cx="262.0" cy="210.1" r="4.1"/><circle cx="303.1" cy="240.3" r="4.1"/><circle cx="299.3" cy="215.2" r="4.1"/><circle cx="245.7" cy="257.2" r="4.1"/><circle cx="237.1" cy="207.5" r="4.1"/><circle cx="285.9" cy="250.3" r="4.1"/><circle cx="234.6" cy="216.0" r="4.1"/><circle cx="268.6" cy="219.5" r="4.1"/><circle cx="246.1" cy="240.0" r="4.1"/><circle cx="254.6" cy="216.8" r="4.1"/><circle cx="211.0" cy="220.1" r="4.1"/><circle cx="218.8" cy="240.7" r="4.1"/><circle cx="280.3" cy="210.0" r="4.1"/><circle cx="272.0" cy="225.6" r="4.1"/><circle cx="264.1" cy="232.0" r="4.1"/><circle cx="264.7" cy="210.8" r="4.1"/><circle cx="247.8" cy="265.2" r="4.1"/><circle cx="272.8" cy="222.3" r="4.1"/><circle cx="286.1" cy="213.0" r="4.1"/><circle cx="258.2" cy="239.7" r="4.1"/><circle cx="293.8" cy="239.8" r="4.1"/><circle cx="230.4" cy="224.3" r="4.1"/><circle cx="267.3" cy="234.3" r="4.1"/><circle cx="245.5" cy="196.4" r="4.1"/><circle cx="264.9" cy="200.4" r="4.1"/><circle cx="241.0" cy="221.1" r="4.1"/><circle cx="291.2" cy="226.2" r="4.1"/><circle cx="295.9" cy="197.7" r="4.1"/><circle cx="285.6" cy="222.5" r="4.1"/><circle cx="245.7" cy="212.2" r="4.1"/><circle cx="246.2" cy="217.3" r="4.1"/><circle cx="249.0" cy="254.4" r="4.1"/><circle cx="258.7" cy="187.0" r="4.1"/><circle cx="262.8" cy="232.5" r="4.1"/><circle cx="259.8" cy="244.4" r="4.1"/><circle cx="244.9" cy="201.3" r="4.1"/><circle cx="308.5" cy="222.9" r="4.1"/><circle cx="281.3" cy="235.2" r="4.1"/><circle cx="282.2" cy="223.8" r="4.1"/><circle cx="263.0" cy="249.9" r="4.1"/><circle cx="255.5" cy="225.7" r="4.1"/><circle cx="285.0" cy="212.9" r="4.1"/><circle cx="229.4" cy="234.3" r="4.1"/><circle cx="294.8" cy="229.2" r="4.1"/><circle cx="225.9" cy="238.8" r="4.1"/><circle cx="269.8" cy="242.4" r="4.1"/><circle cx="288.3" cy="225.2" r="4.1"/><circle cx="281.4" cy="231.3" r="4.1"/><circle cx="271.0" cy="221.5" r="4.1"/><circle cx="264.1" cy="240.5" r="4.1"/><circle cx="278.1" cy="212.3" r="4.1"/><circle cx="295.2" cy="204.9" r="4.1"/><circle cx="262.2" cy="226.3" r="4.1"/><circle cx="220.7" cy="213.6" r="4.1"/><circle cx="289.2" cy="243.2" r="4.1"/><circle cx="238.3" cy="202.4" r="4.1"/><circle cx="241.3" cy="217.1" r="4.1"/><circle cx="266.4" cy="183.4" r="4.1"/><circle cx="275.9" cy="224.8" r="4.1"/><circle cx="266.2" cy="206.3" r="4.1"/><circle cx="263.4" cy="178.9" r="4.1"/><circle cx="273.7" cy="228.2" r="4.1"/><circle cx="265.4" cy="193.8" r="4.1"/><circle cx="299.6" cy="251.0" r="4.1"/><circle cx="221.6" cy="233.3" r="4.1"/><circle cx="271.8" cy="159.4" r="4.1"/><circle cx="280.8" cy="239.1" r="4.1"/><circle cx="285.9" cy="227.0" r="4.1"/><circle cx="251.9" cy="210.3" r="4.1"/><circle cx="280.7" cy="252.0" r="4.1"/><circle cx="255.9" cy="216.2" r="4.1"/><circle cx="285.3" cy="169.8" r="4.1"/><circle cx="279.1" cy="217.4" r="4.1"/><circle cx="213.8" cy="242.1" r="4.1"/><circle cx="245.5" cy="242.7" r="4.1"/><circle cx="302.1" cy="192.3" r="4.1"/><circle cx="238.5" cy="222.8" r="4.1"/><circle cx="224.9" cy="241.2" r="4.1"/><circle cx="272.8" cy="247.4" r="4.1"/><circle cx="222.9" cy="228.2" r="4.1"/><circle cx="279.7" cy="178.8" r="4.1"/><circle cx="290.3" cy="189.2" r="4.1"/><circle cx="272.8" cy="190.8" r="4.1"/><circle cx="287.8" cy="265.6" r="4.1"/><circle cx="269.9" cy="224.3" r="4.1"/><circle cx="300.7" cy="212.5" r="4.1"/><circle cx="269.9" cy="244.0" r="4.1"/><circle cx="279.2" cy="262.8" r="4.1"/></g><g fill="#2a5ba7"><circle cx="253.5" cy="145.2" r="4.1"/><circle cx="264.2" cy="151.3" r="4.1"/><circle cx="278.2" cy="150.5" r="4.1"/><circle cx="265.0" cy="151.3" r="4.1"/><circle cx="170.5" cy="192.0" r="4.1"/><circle cx="165.9" cy="209.3" r="4.1"/><circle cx="193.0" cy="195.8" r="4.1"/><circle cx="193.0" cy="207.7" r="4.1"/><circle cx="190.6" cy="220.0" r="4.1"/><circle cx="209.0" cy="161.5" r="4.1"/><circle cx="222.2" cy="157.4" r="4.1"/><circle cx="223.8" cy="170.6" r="4.1"/><circle cx="234.6" cy="164.8" r="4.1"/><circle cx="244.4" cy="160.7" r="4.1"/><circle cx="253.5" cy="156.6" r="4.1"/><circle cx="264.2" cy="152.5" r="4.1"/><circle cx="260.1" cy="164.8" r="4.1"/><circle cx="252.7" cy="173.1" r="4.1"/><circle cx="267.5" cy="168.1" r="4.1"/><circle cx="211.5" cy="181.3" r="4.1"/><circle cx="206.5" cy="187.9" r="4.1"/><circle cx="218.1" cy="183.8" r="4.1"/><circle cx="201.6" cy="199.4" r="4.1"/><circle cx="206.5" cy="211.0" r="4.1"/><circle cx="203.2" cy="220.9" r="4.1"/><circle cx="214.8" cy="222.5" r="4.1"/><circle cx="278.7" cy="151.6" r="4.1"/><circle cx="273.0" cy="165.7" r="4.1"/><circle cx="293.5" cy="164.8" r="4.1"/><circle cx="308.4" cy="165.7" r="4.1"/><circle cx="311.7" cy="176.4" r="4.1"/><circle cx="319.9" cy="182.1" r="4.1"/><circle cx="333.9" cy="185.4" r="4.1"/><circle cx="330.6" cy="194.2" r="4.1"/><circle cx="336.4" cy="206.9" r="4.1"/><circle cx="340.5" cy="215.9" r="4.1"/><circle cx="284.5" cy="175.5" r="4.1"/><circle cx="307.6" cy="187.9" r="4.1"/><circle cx="351.9" cy="211.8" r="4.1"/><circle cx="359.4" cy="215.6" r="4.1"/><circle cx="341.6" cy="211.0" r="4.1"/><circle cx="190.6" cy="222.0" r="4.1"/><circle cx="191.9" cy="269.5" r="4.1"/><circle cx="203.2" cy="222.8" r="4.1"/><circle cx="211.5" cy="227.0" r="4.1"/><circle cx="206.5" cy="236.8" r="4.1"/><circle cx="211.5" cy="240.1" r="4.1"/><circle cx="203.2" cy="252.5" r="4.1"/><circle cx="218.9" cy="258.3" r="4.1"/><circle cx="217.3" cy="266.2" r="4.1"/><circle cx="228.0" cy="267.3" r="4.1"/><circle cx="242.0" cy="261.6" r="4.1"/><circle cx="240.3" cy="276.4" r="4.1"/><circle cx="250.2" cy="280.5" r="4.1"/><circle cx="267.5" cy="288.0" r="4.1"/><circle cx="319.1" cy="224.5" r="4.1"/><circle cx="333.9" cy="233.5" r="4.1"/><circle cx="332.3" cy="244.3" r="4.1"/><circle cx="317.4" cy="255.0" r="4.1"/><circle cx="312.5" cy="264.9" r="4.1"/><circle cx="319.1" cy="269.8" r="4.1"/><circle cx="317.4" cy="274.7" r="4.1"/><circle cx="306.7" cy="278.9" r="4.1"/><circle cx="296.8" cy="287.9" r="4.1"/><circle cx="282.8" cy="290.4" r="4.1"/><circle cx="290.3" cy="294.5" r="4.1"/><circle cx="271.3" cy="284.6" r="4.1"/><circle cx="283.1" cy="291.6" r="4.1"/><circle cx="290.5" cy="295.8" r="4.1"/><circle cx="297.1" cy="290.0" r="4.1"/><circle cx="244.2" cy="161.4" r="4.1"/><circle cx="254.1" cy="155.9" r="4.1"/><circle cx="260.2" cy="160.3" r="4.1"/><circle cx="249.2" cy="163.6" r="4.1"/><circle cx="236.0" cy="164.7" r="4.1"/><circle cx="226.1" cy="157.0" r="4.1"/><circle cx="271.2" cy="166.9" r="4.1"/><circle cx="278.8" cy="166.9" r="4.1"/><circle cx="293.1" cy="164.7" r="4.1"/><circle cx="295.3" cy="170.2" r="4.1"/><circle cx="253.6" cy="172.4" r="4.1"/></g><rect x="121" y="76" width="294" height="294.6" fill="none" stroke="#000" stroke-width="3.7"/><g stroke="#000" stroke-width="3.7"><line x1="113" y1="370.60" x2="121" y2="370.60"/><line x1="121.00" y1="370.6" x2="121.00" y2="378.7"/><line x1="113" y1="296.95" x2="121" y2="296.95"/><line x1="194.50" y1="370.6" x2="194.50" y2="378.7"/><line x1="113" y1="223.30" x2="121" y2="223.30"/><line x1="268.00" y1="370.6" x2="268.00" y2="378.7"/><line x1="113" y1="149.65" x2="121" y2="149.65"/><line x1="341.50" y1="370.6" x2="341.50" y2="378.7"/><line x1="113" y1="76.00" x2="121" y2="76.00"/><line x1="415.00" y1="370.6" x2="415.00" y2="378.7"/></g><g font-size="27" fill="#000"><text x="100.1" y="380.20" text-anchor="end">−100</text><text x="121.00" y="411.3" text-anchor="middle">−100</text><text x="100.1" y="306.55" text-anchor="end">−50</text><text x="194.50" y="411.3" text-anchor="middle">−50</text><text x="100.1" y="232.90" text-anchor="end">0</text><text x="268.00" y="411.3" text-anchor="middle">0</text><text x="100.1" y="159.25" text-anchor="end">50</text><text x="341.50" y="411.3" text-anchor="middle">50</text><text x="100.1" y="85.60" text-anchor="end">100</text><text x="415.00" y="411.3" text-anchor="middle">100</text><text x="268.8" y="449.4" text-anchor="middle"><tspan font-style="italic">x</tspan> [nm]</text><text transform="translate(20.3 223.4) rotate(-90)" text-anchor="middle"><tspan font-style="italic">y</tspan> [nm]</text><text x="126.5" y="102.8">No layer</text></g><g font-size="27"><text x="122.4" y="21" fill="#00a05a" font-style="italic">k</text><text x="134" y="29.3" font-size="19" fill="#00a05a">500</text><text x="172.7" y="21" fill="#00a05a" letter-spacing="0.12"><tspan dy="2.1">=</tspan><tspan dy="-2.1"> 0.0052 [pN/nm]</tspan></text><text x="122.4" y="56.6" fill="#2a5ba7" font-style="italic">k</text><text x="134" y="64.8" font-size="19" fill="#2a5ba7">200</text><text x="172.8" y="56.6" fill="#2a5ba7" letter-spacing="0.12"><tspan dy="2.1">=</tspan><tspan dy="-2.1"> 0.0137 [pN/nm]</tspan></text></g><circle cx="392" cy="105.25" r="15.25" fill="#f5dc21" stroke="#000" stroke-width="3.5"/><line x1="380.1" y1="105.6" x2="403.2" y2="105.6" stroke="#000" stroke-width="3"/><g fill="#00a05a"><circle cx="797.8" cy="281.0" r="4.1"/><circle cx="756.2" cy="186.7" r="4.1"/><circle cx="738.5" cy="224.1" r="4.1"/><circle cx="762.0" cy="184.1" r="4.1"/><circle cx="779.7" cy="292.2" r="4.1"/><circle cx="714.8" cy="296.8" r="4.1"/><circle cx="754.5" cy="213.9" r="4.1"/><circle cx="703.6" cy="261.2" r="4.1"/><circle cx="746.6" cy="279.4" r="4.1"/><circle cx="754.9" cy="177.7" r="4.1"/><circle cx="762.1" cy="178.4" r="4.1"/><circle cx="780.4" cy="218.8" r="4.1"/><circle cx="714.1" cy="250.8" r="4.1"/><circle cx="697.6" cy="260.1" r="4.1"/><circle cx="773.4" cy="203.1" r="4.1"/><circle cx="738.3" cy="279.2" r="4.1"/><circle cx="736.8" cy="263.9" r="4.1"/><circle cx="798.3" cy="162.7" r="4.1"/><circle cx="739.8" cy="235.0" r="4.1"/><circle cx="751.0" cy="308.2" r="4.1"/><circle cx="727.7" cy="207.7" r="4.1"/><circle cx="702.3" cy="230.3" r="4.1"/><circle cx="719.3" cy="223.9" r="4.1"/><circle cx="761.6" cy="154.3" r="4.1"/><circle cx="747.5" cy="255.5" r="4.1"/><circle cx="767.5" cy="268.3" r="4.1"/><circle cx="754.2" cy="259.8" r="4.1"/><circle cx="732.4" cy="201.3" r="4.1"/><circle cx="742.0" cy="257.9" r="4.1"/><circle cx="754.7" cy="266.1" r="4.1"/><circle cx="759.0" cy="192.2" r="4.1"/><circle cx="685.1" cy="235.6" r="4.1"/><circle cx="752.6" cy="243.1" r="4.1"/><circle cx="787.0" cy="229.8" r="4.1"/><circle cx="763.0" cy="223.9" r="4.1"/><circle cx="770.5" cy="179.9" r="4.1"/><circle cx="761.5" cy="256.5" r="4.1"/><circle cx="724.4" cy="215.2" r="4.1"/><circle cx="805.9" cy="164.6" r="4.1"/><circle cx="781.2" cy="180.1" r="4.1"/><circle cx="779.5" cy="225.7" r="4.1"/><circle cx="761.0" cy="216.9" r="4.1"/><circle cx="710.0" cy="193.6" r="4.1"/><circle cx="728.5" cy="248.1" r="4.1"/><circle cx="755.0" cy="153.9" r="4.1"/><circle cx="751.5" cy="205.2" r="4.1"/><circle cx="818.2" cy="202.7" r="4.1"/><circle cx="743.3" cy="204.8" r="4.1"/><circle cx="730.4" cy="214.8" r="4.1"/><circle cx="762.2" cy="244.5" r="4.1"/><circle cx="763.6" cy="280.4" r="4.1"/><circle cx="794.6" cy="220.5" r="4.1"/><circle cx="750.2" cy="294.2" r="4.1"/><circle cx="708.3" cy="286.5" r="4.1"/><circle cx="717.2" cy="284.1" r="4.1"/><circle cx="720.2" cy="240.6" r="4.1"/><circle cx="734.8" cy="238.2" r="4.1"/><circle cx="752.5" cy="253.2" r="4.1"/><circle cx="756.2" cy="147.4" r="4.1"/><circle cx="729.9" cy="240.4" r="4.1"/><circle cx="727.1" cy="236.3" r="4.1"/><circle cx="757.5" cy="203.8" r="4.1"/><circle cx="787.2" cy="269.3" r="4.1"/><circle cx="810.9" cy="219.8" r="4.1"/><circle cx="794.0" cy="235.6" r="4.1"/><circle cx="775.5" cy="240.3" r="4.1"/><circle cx="726.2" cy="222.9" r="4.1"/><circle cx="756.7" cy="161.9" r="4.1"/><circle cx="795.2" cy="205.8" r="4.1"/><circle cx="763.3" cy="239.2" r="4.1"/><circle cx="722.5" cy="268.3" r="4.1"/><circle cx="736.3" cy="196.8" r="4.1"/><circle cx="715.7" cy="231.1" r="4.1"/><circle cx="803.3" cy="275.0" r="4.1"/><circle cx="768.5" cy="233.1" r="4.1"/><circle cx="763.9" cy="313.7" r="4.1"/><circle cx="786.9" cy="219.3" r="4.1"/><circle cx="819.7" cy="253.1" r="4.1"/><circle cx="772.6" cy="151.1" r="4.1"/><circle cx="759.5" cy="273.0" r="4.1"/><circle cx="806.6" cy="199.2" r="4.1"/><circle cx="717.1" cy="263.5" r="4.1"/><circle cx="784.0" cy="211.3" r="4.1"/><circle cx="724.3" cy="302.8" r="4.1"/><circle cx="746.6" cy="215.8" r="4.1"/><circle cx="732.5" cy="222.7" r="4.1"/><circle cx="734.4" cy="256.6" r="4.1"/><circle cx="752.4" cy="282.1" r="4.1"/><circle cx="691.3" cy="272.9" r="4.1"/><circle cx="696.6" cy="177.9" r="4.1"/><circle cx="702.9" cy="285.6" r="4.1"/><circle cx="718.8" cy="217.3" r="4.1"/><circle cx="762.8" cy="305.6" r="4.1"/><circle cx="699.4" cy="267.7" r="4.1"/><circle cx="751.7" cy="232.4" r="4.1"/><circle cx="769.1" cy="195.8" r="4.1"/><circle cx="787.3" cy="240.8" r="4.1"/><circle cx="802.1" cy="261.9" r="4.1"/><circle cx="750.2" cy="221.3" r="4.1"/><circle cx="713.7" cy="303.2" r="4.1"/><circle cx="756.4" cy="238.2" r="4.1"/><circle cx="766.1" cy="136.9" r="4.1"/><circle cx="747.2" cy="190.3" r="4.1"/><circle cx="746.3" cy="224.6" r="4.1"/><circle cx="735.1" cy="212.1" r="4.1"/><circle cx="794.7" cy="247.0" r="4.1"/><circle cx="726.9" cy="201.9" r="4.1"/><circle cx="824.9" cy="238.1" r="4.1"/><circle cx="738.3" cy="158.5" r="4.1"/><circle cx="811.4" cy="207.8" r="4.1"/><circle cx="711.0" cy="243.1" r="4.1"/><circle cx="744.3" cy="263.2" r="4.1"/><circle cx="813.3" cy="241.5" r="4.1"/><circle cx="815.5" cy="270.6" r="4.1"/><circle cx="708.2" cy="255.1" r="4.1"/><circle cx="761.4" cy="229.8" r="4.1"/><circle cx="748.9" cy="185.1" r="4.1"/><circle cx="813.2" cy="253.3" r="4.1"/><circle cx="814.9" cy="260.2" r="4.1"/><circle cx="775.2" cy="216.3" r="4.1"/><circle cx="787.2" cy="168.9" r="4.1"/><circle cx="712.2" cy="276.8" r="4.1"/><circle cx="794.2" cy="182.9" r="4.1"/><circle cx="767.4" cy="273.7" r="4.1"/><circle cx="783.7" cy="259.1" r="4.1"/><circle cx="823.5" cy="224.2" r="4.1"/><circle cx="709.8" cy="232.1" r="4.1"/><circle cx="762.4" cy="262.8" r="4.1"/><circle cx="749.6" cy="137.0" r="4.1"/><circle cx="690.6" cy="229.9" r="4.1"/><circle cx="757.1" cy="137.3" r="4.1"/><circle cx="766.2" cy="258.8" r="4.1"/><circle cx="719.6" cy="205.5" r="4.1"/><circle cx="777.6" cy="232.9" r="4.1"/><circle cx="782.2" cy="203.6" r="4.1"/><circle cx="718.8" cy="155.8" r="4.1"/><circle cx="724.1" cy="297.1" r="4.1"/><circle cx="768.9" cy="253.6" r="4.1"/><circle cx="789.7" cy="248.1" r="4.1"/><circle cx="705.0" cy="202.8" r="4.1"/><circle cx="706.3" cy="169.0" r="4.1"/><circle cx="697.4" cy="283.6" r="4.1"/><circle cx="718.9" cy="210.9" r="4.1"/><circle cx="787.5" cy="206.1" r="4.1"/><circle cx="818.7" cy="234.2" r="4.1"/><circle cx="814.3" cy="199.3" r="4.1"/><circle cx="728.6" cy="161.1" r="4.1"/><circle cx="812.2" cy="233.6" r="4.1"/><circle cx="776.3" cy="162.5" r="4.1"/><circle cx="739.6" cy="246.3" r="4.1"/><circle cx="740.0" cy="218.7" r="4.1"/><circle cx="768.9" cy="217.2" r="4.1"/><circle cx="727.5" cy="278.2" r="4.1"/><circle cx="790.5" cy="191.2" r="4.1"/><circle cx="705.0" cy="271.6" r="4.1"/><circle cx="734.9" cy="251.2" r="4.1"/><circle cx="741.4" cy="240.5" r="4.1"/><circle cx="773.2" cy="235.7" r="4.1"/><circle cx="763.7" cy="250.2" r="4.1"/><circle cx="764.1" cy="211.0" r="4.1"/><circle cx="733.5" cy="245.3" r="4.1"/><circle cx="772.2" cy="278.4" r="4.1"/><circle cx="725.8" cy="243.8" r="4.1"/><circle cx="757.4" cy="209.2" r="4.1"/><circle cx="736.3" cy="272.1" r="4.1"/><circle cx="718.7" cy="300.0" r="4.1"/><circle cx="743.8" cy="230.1" r="4.1"/><circle cx="755.6" cy="220.5" r="4.1"/><circle cx="784.5" cy="251.6" r="4.1"/><circle cx="781.5" cy="192.9" r="4.1"/><circle cx="753.1" cy="312.9" r="4.1"/><circle cx="688.2" cy="213.4" r="4.1"/><circle cx="702.0" cy="256.1" r="4.1"/><circle cx="706.5" cy="226.0" r="4.1"/><circle cx="694.1" cy="267.5" r="4.1"/><circle cx="709.2" cy="249.3" r="4.1"/><circle cx="808.8" cy="175.3" r="4.1"/><circle cx="721.6" cy="248.0" r="4.1"/><circle cx="701.0" cy="192.6" r="4.1"/><circle cx="689.0" cy="241.3" r="4.1"/><circle cx="762.5" cy="199.0" r="4.1"/><circle cx="722.7" cy="262.6" r="4.1"/><circle cx="737.3" cy="313.2" r="4.1"/><circle cx="769.6" cy="244.9" r="4.1"/><circle cx="731.1" cy="194.4" r="4.1"/><circle cx="773.8" cy="272.0" r="4.1"/><circle cx="793.4" cy="230.4" r="4.1"/><circle cx="713.9" cy="291.1" r="4.1"/><circle cx="766.2" cy="186.9" r="4.1"/><circle cx="730.8" cy="231.3" r="4.1"/><circle cx="748.2" cy="273.3" r="4.1"/><circle cx="728.7" cy="284.8" r="4.1"/><circle cx="777.4" cy="209.9" r="4.1"/><circle cx="692.3" cy="193.0" r="4.1"/><circle cx="745.7" cy="244.2" r="4.1"/><circle cx="723.5" cy="254.2" r="4.1"/><circle cx="810.2" cy="272.4" r="4.1"/><circle cx="743.3" cy="250.4" r="4.1"/><circle cx="805.0" cy="179.4" r="4.1"/><circle cx="690.8" cy="236.2" r="4.1"/><circle cx="733.0" cy="277.0" r="4.1"/><circle cx="745.7" cy="175.4" r="4.1"/><circle cx="727.8" cy="187.0" r="4.1"/><circle cx="752.2" cy="193.7" r="4.1"/><circle cx="725.6" cy="272.8" r="4.1"/><circle cx="735.7" cy="168.6" r="4.1"/><circle cx="766.2" cy="160.1" r="4.1"/><circle cx="807.6" cy="248.4" r="4.1"/><circle cx="736.3" cy="180.7" r="4.1"/><circle cx="781.9" cy="155.7" r="4.1"/><circle cx="755.6" cy="248.1" r="4.1"/><circle cx="686.3" cy="265.1" r="4.1"/><circle cx="791.2" cy="224.4" r="4.1"/><circle cx="689.6" cy="224.8" r="4.1"/><circle cx="749.9" cy="248.0" r="4.1"/><circle cx="748.0" cy="267.1" r="4.1"/><circle cx="791.4" cy="300.7" r="4.1"/><circle cx="727.8" cy="261.1" r="4.1"/><circle cx="696.6" cy="277.4" r="4.1"/><circle cx="748.4" cy="142.6" r="4.1"/><circle cx="781.9" cy="269.7" r="4.1"/><circle cx="748.6" cy="238.0" r="4.1"/><circle cx="794.5" cy="211.7" r="4.1"/><circle cx="732.1" cy="148.6" r="4.1"/><circle cx="745.7" cy="313.0" r="4.1"/><circle cx="709.7" cy="173.8" r="4.1"/><circle cx="778.3" cy="259.6" r="4.1"/><circle cx="775.3" cy="197.4" r="4.1"/><circle cx="758.7" cy="312.4" r="4.1"/><circle cx="734.3" cy="189.5" r="4.1"/><circle cx="703.2" cy="279.3" r="4.1"/><circle cx="793.9" cy="240.7" r="4.1"/><circle cx="750.0" cy="171.8" r="4.1"/><circle cx="794.3" cy="196.5" r="4.1"/><circle cx="696.3" cy="272.4" r="4.1"/><circle cx="756.7" cy="304.2" r="4.1"/><circle cx="722.6" cy="231.3" r="4.1"/><circle cx="683.1" cy="240.3" r="4.1"/><circle cx="789.1" cy="211.9" r="4.1"/><circle cx="782.0" cy="307.4" r="4.1"/><circle cx="743.9" cy="182.7" r="4.1"/><circle cx="712.9" cy="224.3" r="4.1"/><circle cx="777.4" cy="287.4" r="4.1"/><circle cx="743.9" cy="210.2" r="4.1"/><circle cx="730.8" cy="269.2" r="4.1"/><circle cx="794.5" cy="260.7" r="4.1"/><circle cx="743.2" cy="271.6" r="4.1"/><circle cx="687.9" cy="246.4" r="4.1"/><circle cx="806.3" cy="216.1" r="4.1"/><circle cx="772.2" cy="173.6" r="4.1"/><circle cx="728.6" cy="143.5" r="4.1"/><circle cx="814.0" cy="265.6" r="4.1"/><circle cx="683.3" cy="217.0" r="4.1"/><circle cx="716.2" cy="236.6" r="4.1"/><circle cx="771.4" cy="263.4" r="4.1"/><circle cx="742.2" cy="192.3" r="4.1"/><circle cx="773.9" cy="253.9" r="4.1"/><circle cx="749.2" cy="301.5" r="4.1"/><circle cx="768.4" cy="207.4" r="4.1"/><circle cx="693.1" cy="208.5" r="4.1"/><circle cx="774.0" cy="225.2" r="4.1"/><circle cx="724.4" cy="291.8" r="4.1"/><circle cx="717.7" cy="169.6" r="4.1"/><circle cx="775.7" cy="189.2" r="4.1"/><circle cx="751.6" cy="277.2" r="4.1"/><circle cx="792.1" cy="283.4" r="4.1"/><circle cx="753.0" cy="199.9" r="4.1"/><circle cx="726.4" cy="174.6" r="4.1"/><circle cx="801.2" cy="168.5" r="4.1"/><circle cx="751.3" cy="166.2" r="4.1"/><circle cx="786.1" cy="150.7" r="4.1"/><circle cx="782.4" cy="245.4" r="4.1"/><circle cx="755.6" cy="227.0" r="4.1"/><circle cx="716.4" cy="271.1" r="4.1"/><circle cx="708.8" cy="263.3" r="4.1"/><circle cx="721.2" cy="174.6" r="4.1"/><circle cx="773.2" cy="141.6" r="4.1"/><circle cx="692.3" cy="260.5" r="4.1"/><circle cx="708.0" cy="291.6" r="4.1"/><circle cx="726.2" cy="196.8" r="4.1"/><circle cx="745.8" cy="296.9" r="4.1"/><circle cx="696.6" cy="212.1" r="4.1"/><circle cx="701.2" cy="224.9" r="4.1"/><circle cx="717.2" cy="255.0" r="4.1"/><circle cx="743.3" cy="162.1" r="4.1"/><circle cx="743.7" cy="199.8" r="4.1"/><circle cx="796.3" cy="254.4" r="4.1"/><circle cx="788.2" cy="234.7" r="4.1"/><circle cx="776.8" cy="246.3" r="4.1"/><circle cx="791.2" cy="201.7" r="4.1"/><circle cx="786.6" cy="277.8" r="4.1"/><circle cx="700.5" cy="245.7" r="4.1"/><circle cx="712.3" cy="218.0" r="4.1"/><circle cx="737.2" cy="203.9" r="4.1"/><circle cx="724.9" cy="180.9" r="4.1"/><circle cx="802.2" cy="246.9" r="4.1"/><circle cx="783.2" cy="236.5" r="4.1"/><circle cx="792.0" cy="149.8" r="4.1"/><circle cx="733.3" cy="207.3" r="4.1"/><circle cx="723.2" cy="283.6" r="4.1"/><circle cx="699.9" cy="173.7" r="4.1"/><circle cx="753.5" cy="298.8" r="4.1"/><circle cx="818.7" cy="220.6" r="4.1"/><circle cx="737.2" cy="291.5" r="4.1"/><circle cx="761.5" cy="169.0" r="4.1"/><circle cx="686.3" cy="258.5" r="4.1"/><circle cx="710.9" cy="237.3" r="4.1"/><circle cx="698.4" cy="289.1" r="4.1"/><circle cx="733.2" cy="173.7" r="4.1"/><circle cx="797.6" cy="274.5" r="4.1"/><circle cx="799.5" cy="230.7" r="4.1"/><circle cx="707.1" cy="276.2" r="4.1"/><circle cx="803.2" cy="190.6" r="4.1"/><circle cx="790.8" cy="295.1" r="4.1"/><circle cx="749.9" cy="210.6" r="4.1"/><circle cx="768.6" cy="226.3" r="4.1"/><circle cx="739.2" cy="187.0" r="4.1"/><circle cx="779.7" cy="185.5" r="4.1"/><circle cx="775.7" cy="267.1" r="4.1"/><circle cx="780.4" cy="264.2" r="4.1"/><circle cx="709.0" cy="281.1" r="4.1"/><circle cx="748.7" cy="155.0" r="4.1"/><circle cx="735.1" cy="308.5" r="4.1"/><circle cx="706.1" cy="197.9" r="4.1"/><circle cx="802.8" cy="160.0" r="4.1"/><circle cx="705.8" cy="244.0" r="4.1"/><circle cx="786.9" cy="155.7" r="4.1"/><circle cx="754.6" cy="142.4" r="4.1"/><circle cx="736.2" cy="229.6" r="4.1"/><circle cx="806.5" cy="204.4" r="4.1"/><circle cx="781.9" cy="197.9" r="4.1"/><circle cx="728.8" cy="253.6" r="4.1"/><circle cx="748.6" cy="288.1" r="4.1"/><circle cx="738.9" cy="297.7" r="4.1"/><circle cx="806.8" cy="265.1" r="4.1"/><circle cx="816.4" cy="208.7" r="4.1"/><circle cx="771.8" cy="212.6" r="4.1"/><circle cx="732.8" cy="288.2" r="4.1"/><circle cx="778.2" cy="251.2" r="4.1"/><circle cx="810.9" cy="212.8" r="4.1"/><circle cx="770.6" cy="315.3" r="4.1"/><circle cx="822.7" cy="207.3" r="4.1"/><circle cx="757.0" cy="279.2" r="4.1"/><circle cx="747.5" cy="196.1" r="4.1"/><circle cx="766.6" cy="287.4" r="4.1"/><circle cx="820.5" cy="258.8" r="4.1"/><circle cx="774.5" cy="295.0" r="4.1"/><circle cx="799.1" cy="237.4" r="4.1"/><circle cx="729.2" cy="304.8" r="4.1"/><circle cx="731.9" cy="183.5" r="4.1"/><circle cx="775.0" cy="306.0" r="4.1"/><circle cx="734.8" cy="217.2" r="4.1"/><circle cx="804.1" cy="173.4" r="4.1"/><circle cx="696.8" cy="249.1" r="4.1"/><circle cx="682.7" cy="245.6" r="4.1"/><circle cx="764.2" cy="191.8" r="4.1"/><circle cx="808.2" cy="238.5" r="4.1"/><circle cx="763.3" cy="204.5" r="4.1"/><circle cx="721.8" cy="184.9" r="4.1"/><circle cx="762.3" cy="268.7" r="4.1"/><circle cx="717.2" cy="244.8" r="4.1"/><circle cx="769.2" cy="155.9" r="4.1"/><circle cx="768.4" cy="201.6" r="4.1"/><circle cx="757.9" cy="252.9" r="4.1"/><circle cx="798.6" cy="243.1" r="4.1"/><circle cx="669.8" cy="258.9" r="4.1"/><circle cx="665.1" cy="180.7" r="4.1"/><circle cx="662.5" cy="207.1" r="4.1"/><circle cx="827.0" cy="262.8" r="4.1"/></g><g fill="#00a05a"><circle cx="650.0" cy="150.7" r="4.1"/><circle cx="669.8" cy="151.5" r="4.1"/><circle cx="675.5" cy="151.5" r="4.1"/><circle cx="720.5" cy="108.7" r="4.1"/><circle cx="732.9" cy="109.5" r="4.1"/><circle cx="741.1" cy="112.8" r="4.1"/><circle cx="735.3" cy="113.6" r="4.1"/><circle cx="713.9" cy="117.2" r="4.1"/><circle cx="731.2" cy="116.1" r="4.1"/><circle cx="731.2" cy="123.5" r="4.1"/><circle cx="685.9" cy="128.4" r="4.1"/><circle cx="700.4" cy="131.4" r="4.1"/><circle cx="712.3" cy="130.1" r="4.1"/><circle cx="715.2" cy="136.4" r="4.1"/><circle cx="727.1" cy="130.1" r="4.1"/><circle cx="735.3" cy="130.1" r="4.1"/><circle cx="737.8" cy="135.9" r="4.1"/><circle cx="744.4" cy="137.5" r="4.1"/><circle cx="734.5" cy="143.3" r="4.1"/><circle cx="695.0" cy="144.9" r="4.1"/><circle cx="692.5" cy="149.9" r="4.1"/><circle cx="708.1" cy="145.8" r="4.1"/><circle cx="710.6" cy="150.7" r="4.1"/><circle cx="719.7" cy="148.2" r="4.1"/><circle cx="723.8" cy="151.5" r="4.1"/><circle cx="679.3" cy="151.5" r="4.1"/><circle cx="687.5" cy="151.5" r="4.1"/><circle cx="740.3" cy="149.9" r="4.1"/><circle cx="748.5" cy="148.2" r="4.1"/><circle cx="775.4" cy="81.5" r="4.1"/><circle cx="765.5" cy="85.3" r="4.1"/><circle cx="805.9" cy="85.3" r="4.1"/><circle cx="819.0" cy="90.2" r="4.1"/><circle cx="765.5" cy="102.1" r="4.1"/><circle cx="801.7" cy="100.4" r="4.1"/><circle cx="805.9" cy="105.4" r="4.1"/><circle cx="787.7" cy="109.5" r="4.1"/><circle cx="819.0" cy="109.5" r="4.1"/><circle cx="773.7" cy="114.4" r="4.1"/><circle cx="770.4" cy="117.7" r="4.1"/><circle cx="774.5" cy="122.7" r="4.1"/><circle cx="770.4" cy="128.4" r="4.1"/><circle cx="761.4" cy="132.1" r="4.1"/><circle cx="779.5" cy="134.2" r="4.1"/><circle cx="782.0" cy="136.7" r="4.1"/><circle cx="800.1" cy="135.0" r="4.1"/><circle cx="816.6" cy="135.0" r="4.1"/><circle cx="822.3" cy="136.7" r="4.1"/><circle cx="763.0" cy="143.3" r="4.1"/><circle cx="768.8" cy="146.6" r="4.1"/><circle cx="765.5" cy="149.9" r="4.1"/><circle cx="782.0" cy="145.8" r="4.1"/><circle cx="778.7" cy="149.9" r="4.1"/><circle cx="796.8" cy="144.1" r="4.1"/><circle cx="805.0" cy="144.9" r="4.1"/><circle cx="801.7" cy="149.9" r="4.1"/><circle cx="814.9" cy="151.5" r="4.1"/><circle cx="750.6" cy="148.2" r="4.1"/><circle cx="840.1" cy="126.8" r="4.1"/><circle cx="837.7" cy="132.1" r="4.1"/><circle cx="826.9" cy="135.9" r="4.1"/><circle cx="831.1" cy="145.8" r="4.1"/><circle cx="670.6" cy="152.8" r="4.1"/><circle cx="671.4" cy="159.4" r="4.1"/><circle cx="668.6" cy="164.4" r="4.1"/><circle cx="622.0" cy="167.7" r="4.1"/><circle cx="626.1" cy="175.1" r="4.1"/><circle cx="638.4" cy="172.1" r="4.1"/><circle cx="644.2" cy="172.6" r="4.1"/><circle cx="654.1" cy="176.7" r="4.1"/><circle cx="623.6" cy="186.9" r="4.1"/><circle cx="672.2" cy="175.9" r="4.1"/><circle cx="676.3" cy="173.4" r="4.1"/><circle cx="676.3" cy="183.3" r="4.1"/><circle cx="660.7" cy="189.6" r="4.1"/><circle cx="657.4" cy="194.9" r="4.1"/><circle cx="662.3" cy="195.7" r="4.1"/><circle cx="670.6" cy="195.7" r="4.1"/><circle cx="673.9" cy="201.4" r="4.1"/><circle cx="673.9" cy="206.4" r="4.1"/><circle cx="632.3" cy="213.8" r="4.1"/><circle cx="627.7" cy="219.6" r="4.1"/><circle cx="649.2" cy="218.8" r="4.1"/><circle cx="652.4" cy="222.0" r="4.1"/><circle cx="663.2" cy="215.5" r="4.1"/><circle cx="669.8" cy="215.5" r="4.1"/><circle cx="665.6" cy="225.3" r="4.1"/><circle cx="672.2" cy="225.3" r="4.1"/><circle cx="676.3" cy="191.6" r="4.1"/><circle cx="775.4" cy="157.0" r="4.1"/><circle cx="798.4" cy="153.6" r="4.1"/><circle cx="814.9" cy="154.5" r="4.1"/><circle cx="814.9" cy="166.8" r="4.1"/><circle cx="814.1" cy="180.0" r="4.1"/><circle cx="811.6" cy="183.3" r="4.1"/><circle cx="808.3" cy="191.6" r="4.1"/><circle cx="818.2" cy="192.4" r="4.1"/><circle cx="821.5" cy="163.5" r="4.1"/><circle cx="816.6" cy="215.5" r="4.1"/><circle cx="805.9" cy="209.7" r="4.1"/><circle cx="826.1" cy="165.2" r="4.1"/><circle cx="830.2" cy="168.5" r="4.1"/><circle cx="833.5" cy="169.3" r="4.1"/><circle cx="844.6" cy="167.7" r="4.1"/><circle cx="887.9" cy="163.5" r="4.1"/><circle cx="822.8" cy="184.1" r="4.1"/><circle cx="829.4" cy="184.1" r="4.1"/><circle cx="822.0" cy="192.4" r="4.1"/><circle cx="830.2" cy="196.5" r="4.1"/><circle cx="827.8" cy="199.0" r="4.1"/><circle cx="843.4" cy="196.5" r="4.1"/><circle cx="847.5" cy="203.1" r="4.1"/><circle cx="859.1" cy="200.6" r="4.1"/><circle cx="865.7" cy="207.7" r="4.1"/><circle cx="830.2" cy="206.4" r="4.1"/><circle cx="838.5" cy="207.7" r="4.1"/><circle cx="828.6" cy="219.6" r="4.1"/><circle cx="836.8" cy="220.4" r="4.1"/><circle cx="838.5" cy="224.5" r="4.1"/><circle cx="878.9" cy="215.5" r="4.1"/><circle cx="883.8" cy="219.6" r="4.1"/><circle cx="627.7" cy="233.6" r="4.1"/><circle cx="635.1" cy="235.7" r="4.1"/><circle cx="645.0" cy="236.5" r="4.1"/><circle cx="647.5" cy="241.5" r="4.1"/><circle cx="658.2" cy="231.6" r="4.1"/><circle cx="661.5" cy="237.4" r="4.1"/><circle cx="668.1" cy="237.4" r="4.1"/><circle cx="652.4" cy="258.0" r="4.1"/><circle cx="659.9" cy="260.4" r="4.1"/><circle cx="628.5" cy="265.4" r="4.1"/><circle cx="640.9" cy="274.4" r="4.1"/><circle cx="649.2" cy="276.9" r="4.1"/><circle cx="657.4" cy="275.3" r="4.1"/><circle cx="621.1" cy="279.4" r="4.1"/><circle cx="665.6" cy="252.2" r="4.1"/><circle cx="670.6" cy="267.9" r="4.1"/><circle cx="673.9" cy="281.9" r="4.1"/><circle cx="673.9" cy="290.9" r="4.1"/><circle cx="674.7" cy="297.5" r="4.1"/><circle cx="821.5" cy="277.7" r="4.1"/><circle cx="806.7" cy="281.0" r="4.1"/><circle cx="800.1" cy="286.0" r="4.1"/><circle cx="810.0" cy="286.0" r="4.1"/><circle cx="796.8" cy="294.2" r="4.1"/><circle cx="806.7" cy="294.2" r="4.1"/><circle cx="820.7" cy="291.8" r="4.1"/><circle cx="837.7" cy="225.8" r="4.1"/><circle cx="841.8" cy="231.6" r="4.1"/><circle cx="825.3" cy="232.4" r="4.1"/><circle cx="831.9" cy="239.0" r="4.1"/><circle cx="828.6" cy="243.1" r="4.1"/><circle cx="823.6" cy="246.4" r="4.1"/><circle cx="825.3" cy="253.0" r="4.1"/><circle cx="858.3" cy="234.1" r="4.1"/><circle cx="855.8" cy="239.8" r="4.1"/><circle cx="849.2" cy="243.1" r="4.1"/><circle cx="845.9" cy="246.4" r="4.1"/><circle cx="845.1" cy="250.5" r="4.1"/><circle cx="864.5" cy="246.4" r="4.1"/><circle cx="837.7" cy="251.0" r="4.1"/><circle cx="841.0" cy="258.0" r="4.1"/><circle cx="836.8" cy="262.1" r="4.1"/><circle cx="853.6" cy="262.1" r="4.1"/><circle cx="864.0" cy="266.2" r="4.1"/><circle cx="858.6" cy="272.8" r="4.1"/><circle cx="853.3" cy="276.1" r="4.1"/><circle cx="869.8" cy="281.0" r="4.1"/><circle cx="874.4" cy="282.7" r="4.1"/><circle cx="825.3" cy="277.7" r="4.1"/><circle cx="831.9" cy="276.1" r="4.1"/><circle cx="830.2" cy="282.7" r="4.1"/><circle cx="842.6" cy="281.9" r="4.1"/><circle cx="846.7" cy="284.3" r="4.1"/><circle cx="834.4" cy="289.3" r="4.1"/><circle cx="836.0" cy="292.6" r="4.1"/><circle cx="822.8" cy="291.8" r="4.1"/><circle cx="841.0" cy="298.3" r="4.1"/><circle cx="854.1" cy="297.2" r="4.1"/><circle cx="661.5" cy="306.2" r="4.1"/><circle cx="658.2" cy="318.6" r="4.1"/><circle cx="671.4" cy="318.6" r="4.1"/><circle cx="674.7" cy="303.8" r="4.1"/><circle cx="673.9" cy="298.8" r="4.1"/><circle cx="676.0" cy="303.8" r="4.1"/><circle cx="689.2" cy="300.5" r="4.1"/><circle cx="696.6" cy="304.3" r="4.1"/><circle cx="699.0" cy="298.0" r="4.1"/><circle cx="709.0" cy="299.3" r="4.1"/><circle cx="697.1" cy="312.5" r="4.1"/><circle cx="720.5" cy="309.5" r="4.1"/><circle cx="721.3" cy="314.5" r="4.1"/><circle cx="723.8" cy="317.0" r="4.1"/><circle cx="730.4" cy="311.2" r="4.1"/><circle cx="730.4" cy="321.9" r="4.1"/><circle cx="711.9" cy="331.0" r="4.1"/><circle cx="722.5" cy="329.3" r="4.1"/><circle cx="731.2" cy="298.8" r="4.1"/><circle cx="735.3" cy="302.1" r="4.1"/><circle cx="740.3" cy="302.9" r="4.1"/><circle cx="742.8" cy="307.1" r="4.1"/><circle cx="746.9" cy="344.2" r="4.1"/><circle cx="704.0" cy="351.6" r="4.1"/><circle cx="715.6" cy="359.3" r="4.1"/><circle cx="724.6" cy="357.7" r="4.1"/><circle cx="704.3" cy="366.9" r="4.1"/><circle cx="758.9" cy="299.6" r="4.1"/><circle cx="767.1" cy="298.8" r="4.1"/><circle cx="777.0" cy="301.3" r="4.1"/><circle cx="785.3" cy="301.3" r="4.1"/><circle cx="768.0" cy="308.7" r="4.1"/><circle cx="773.7" cy="311.2" r="4.1"/><circle cx="791.0" cy="307.9" r="4.1"/><circle cx="795.2" cy="306.2" r="4.1"/><circle cx="796.8" cy="298.0" r="4.1"/><circle cx="806.7" cy="298.0" r="4.1"/><circle cx="799.8" cy="317.0" r="4.1"/><circle cx="811.6" cy="310.4" r="4.1"/><circle cx="819.0" cy="305.9" r="4.1"/><circle cx="754.0" cy="326.5" r="4.1"/><circle cx="770.4" cy="330.1" r="4.1"/><circle cx="776.2" cy="328.5" r="4.1"/><circle cx="815.8" cy="326.3" r="4.1"/><circle cx="822.3" cy="343.8" r="4.1"/><circle cx="828.9" cy="338.9" r="4.1"/><circle cx="670.5" cy="151.9" r="4.1"/><circle cx="679.8" cy="152.1" r="4.1"/><circle cx="688.3" cy="152.5" r="4.1"/><circle cx="694.9" cy="145.9" r="4.1"/><circle cx="695.6" cy="154.5" r="4.1"/><circle cx="708.1" cy="146.6" r="4.1"/><circle cx="710.1" cy="150.5" r="4.1"/><circle cx="720.0" cy="149.2" r="4.1"/><circle cx="724.6" cy="153.2" r="4.1"/><circle cx="731.2" cy="153.8" r="4.1"/><circle cx="735.1" cy="143.3" r="4.1"/><circle cx="737.8" cy="152.5" r="4.1"/><circle cx="671.9" cy="159.1" r="4.1"/><circle cx="685.0" cy="159.1" r="4.1"/><circle cx="667.9" cy="164.4" r="4.1"/><circle cx="681.7" cy="165.0" r="4.1"/><circle cx="693.6" cy="166.4" r="4.1"/><circle cx="702.2" cy="159.8" r="4.1"/><circle cx="703.5" cy="163.7" r="4.1"/><circle cx="700.9" cy="167.7" r="4.1"/><circle cx="711.4" cy="157.1" r="4.1"/><circle cx="712.7" cy="162.4" r="4.1"/><circle cx="711.4" cy="167.7" r="4.1"/><circle cx="721.9" cy="163.1" r="4.1"/><circle cx="723.3" cy="169.0" r="4.1"/><circle cx="735.1" cy="162.4" r="4.1"/><circle cx="672.5" cy="175.6" r="4.1"/><circle cx="679.1" cy="172.3" r="4.1"/><circle cx="683.1" cy="176.2" r="4.1"/><circle cx="677.1" cy="183.5" r="4.1"/><circle cx="691.6" cy="178.2" r="4.1"/><circle cx="705.5" cy="178.2" r="4.1"/><circle cx="714.7" cy="174.3" r="4.1"/><circle cx="718.0" cy="179.5" r="4.1"/><circle cx="711.4" cy="179.5" r="4.1"/><circle cx="687.7" cy="186.1" r="4.1"/><circle cx="696.9" cy="186.1" r="4.1"/><circle cx="702.2" cy="184.8" r="4.1"/><circle cx="716.7" cy="186.1" r="4.1"/><circle cx="662.6" cy="188.8" r="4.1"/><circle cx="681.1" cy="191.4" r="4.1"/><circle cx="671.9" cy="195.4" r="4.1"/><circle cx="686.4" cy="195.4" r="4.1"/><circle cx="715.4" cy="194.0" r="4.1"/><circle cx="743.0" cy="141.0" r="4.1"/><circle cx="747.9" cy="148.6" r="4.1"/><circle cx="741.3" cy="153.2" r="4.1"/><circle cx="744.0" cy="157.1" r="4.1"/><circle cx="762.4" cy="142.6" r="4.1"/><circle cx="765.0" cy="147.9" r="4.1"/><circle cx="770.3" cy="145.9" r="4.1"/><circle cx="783.5" cy="145.9" r="4.1"/><circle cx="779.5" cy="151.2" r="4.1"/><circle cx="774.3" cy="157.8" r="4.1"/><circle cx="796.7" cy="144.0" r="4.1"/><circle cx="805.9" cy="145.9" r="4.1"/><circle cx="801.9" cy="151.9" r="4.1"/><circle cx="813.8" cy="153.2" r="4.1"/><circle cx="794.0" cy="155.2" r="4.1"/><circle cx="790.1" cy="159.8" r="4.1"/><circle cx="791.4" cy="165.0" r="4.1"/><circle cx="782.2" cy="165.0" r="4.1"/><circle cx="773.0" cy="166.4" r="4.1"/><circle cx="769.0" cy="169.0" r="4.1"/><circle cx="813.8" cy="165.0" r="4.1"/><circle cx="811.2" cy="169.0" r="4.1"/><circle cx="795.4" cy="172.9" r="4.1"/><circle cx="788.8" cy="175.6" r="4.1"/><circle cx="776.9" cy="176.9" r="4.1"/><circle cx="774.3" cy="183.5" r="4.1"/><circle cx="813.8" cy="178.2" r="4.1"/><circle cx="813.8" cy="183.5" r="4.1"/><circle cx="801.9" cy="183.5" r="4.1"/><circle cx="796.7" cy="190.1" r="4.1"/><circle cx="808.5" cy="190.1" r="4.1"/><circle cx="817.8" cy="191.4" r="4.1"/><circle cx="801.9" cy="195.4" r="4.1"/><circle cx="660.3" cy="196.3" r="4.1"/><circle cx="672.1" cy="197.6" r="4.1"/><circle cx="684.0" cy="197.6" r="4.1"/><circle cx="690.6" cy="202.9" r="4.1"/><circle cx="674.8" cy="204.2" r="4.1"/><circle cx="673.5" cy="208.2" r="4.1"/><circle cx="686.6" cy="208.2" r="4.1"/><circle cx="698.5" cy="205.5" r="4.1"/><circle cx="702.4" cy="210.8" r="4.1"/><circle cx="710.4" cy="202.9" r="4.1"/><circle cx="714.3" cy="208.2" r="4.1"/><circle cx="718.3" cy="197.6" r="4.1"/><circle cx="662.9" cy="216.1" r="4.1"/><circle cx="669.5" cy="216.1" r="4.1"/><circle cx="681.4" cy="222.7" r="4.1"/><circle cx="697.2" cy="218.7" r="4.1"/><circle cx="656.3" cy="222.7" r="4.1"/><circle cx="660.3" cy="229.3" r="4.1"/><circle cx="668.2" cy="228.0" r="4.1"/><circle cx="674.8" cy="226.6" r="4.1"/><circle cx="685.3" cy="229.3" r="4.1"/><circle cx="659.0" cy="237.2" r="4.1"/><circle cx="668.2" cy="237.2" r="4.1"/><circle cx="678.7" cy="237.2" r="4.1"/><circle cx="674.8" cy="242.4" r="4.1"/><circle cx="668.2" cy="247.7" r="4.1"/><circle cx="664.2" cy="251.7" r="4.1"/><circle cx="678.7" cy="251.7" r="4.1"/><circle cx="694.5" cy="243.8" r="4.1"/><circle cx="698.5" cy="234.5" r="4.1"/><circle cx="702.4" cy="250.4" r="4.1"/><circle cx="686.6" cy="251.7" r="4.1"/><circle cx="809.0" cy="192.0" r="4.1"/><circle cx="819.5" cy="192.6" r="4.1"/><circle cx="830.1" cy="197.2" r="4.1"/><circle cx="844.6" cy="197.2" r="4.1"/><circle cx="847.2" cy="203.2" r="4.1"/><circle cx="857.8" cy="200.5" r="4.1"/><circle cx="830.1" cy="206.5" r="4.1"/><circle cx="838.6" cy="207.8" r="4.1"/><circle cx="801.1" cy="201.9" r="4.1"/><circle cx="805.0" cy="209.8" r="4.1"/><circle cx="816.9" cy="215.0" r="4.1"/><circle cx="828.8" cy="219.7" r="4.1"/><circle cx="836.7" cy="221.0" r="4.1"/><circle cx="838.0" cy="226.9" r="4.1"/><circle cx="841.9" cy="232.2" r="4.1"/><circle cx="823.5" cy="232.2" r="4.1"/><circle cx="856.4" cy="234.8" r="4.1"/><circle cx="799.8" cy="208.5" r="4.1"/><circle cx="799.8" cy="219.0" r="4.1"/><circle cx="814.3" cy="228.2" r="4.1"/><circle cx="805.0" cy="233.5" r="4.1"/><circle cx="818.2" cy="240.1" r="4.1"/><circle cx="831.4" cy="238.8" r="4.1"/><circle cx="847.2" cy="242.7" r="4.1"/><circle cx="853.8" cy="240.1" r="4.1"/><circle cx="838.0" cy="248.0" r="4.1"/><circle cx="813.0" cy="246.7" r="4.1"/><circle cx="660.3" cy="260.5" r="4.1"/><circle cx="657.6" cy="275.0" r="4.1"/><circle cx="665.5" cy="252.6" r="4.1"/><circle cx="672.1" cy="268.5" r="4.1"/><circle cx="676.1" cy="254.0" r="4.1"/><circle cx="684.0" cy="254.0" r="4.1"/><circle cx="678.7" cy="263.2" r="4.1"/><circle cx="682.7" cy="269.8" r="4.1"/><circle cx="676.1" cy="277.7" r="4.1"/><circle cx="673.5" cy="283.0" r="4.1"/><circle cx="681.4" cy="287.6" r="4.1"/><circle cx="674.8" cy="290.9" r="4.1"/><circle cx="674.1" cy="297.4" r="4.1"/><circle cx="674.8" cy="303.4" r="4.1"/><circle cx="661.6" cy="305.4" r="4.1"/><circle cx="687.3" cy="280.3" r="4.1"/><circle cx="688.0" cy="292.2" r="4.1"/><circle cx="689.3" cy="300.1" r="4.1"/><circle cx="696.5" cy="304.0" r="4.1"/><circle cx="699.8" cy="294.8" r="4.1"/><circle cx="709.0" cy="298.1" r="4.1"/><circle cx="720.9" cy="308.0" r="4.1"/><circle cx="734.0" cy="283.0" r="4.1"/><circle cx="732.6" cy="293.5" r="4.1"/><circle cx="741.9" cy="293.5" r="4.1"/><circle cx="740.5" cy="304.0" r="4.1"/><circle cx="760.3" cy="284.9" r="4.1"/><circle cx="764.3" cy="292.2" r="4.1"/><circle cx="759.0" cy="298.8" r="4.1"/><circle cx="769.5" cy="293.5" r="4.1"/><circle cx="776.1" cy="300.1" r="4.1"/><circle cx="769.5" cy="306.7" r="4.1"/><circle cx="778.8" cy="279.0" r="4.1"/><circle cx="785.4" cy="293.5" r="4.1"/><circle cx="785.4" cy="300.1" r="4.1"/><circle cx="793.3" cy="305.4" r="4.1"/><circle cx="797.2" cy="294.8" r="4.1"/><circle cx="799.8" cy="285.6" r="4.1"/><circle cx="806.4" cy="281.6" r="4.1"/><circle cx="805.1" cy="293.5" r="4.1"/><circle cx="803.8" cy="269.8" r="4.1"/><circle cx="789.3" cy="263.2" r="4.1"/><circle cx="790.6" cy="254.0" r="4.1"/><circle cx="807.8" cy="259.2" r="4.1"/></g><g stroke="#000" stroke-width="3.5" stroke-dasharray="7.5 15.14" fill="none"><line x1="599" y1="226.45" x2="899.5" y2="226.45"/><line x1="750.25" y1="75" x2="750.25" y2="375.9"/></g><polygon fill="#2a5ba7" points="746.0,173.0 756.6,172.9 764.7,176.5 773.6,180.7 781.0,192.0 784.7,206.1 788.1,221.5 788.4,236.8 784.9,248.5 780.5,256.5 775.4,265.0 771.0,271.1 762.3,278.3 741.9,278.2 730.8,271.0 723.8,265.1 719.6,256.6 717.9,248.3 718.5,236.4 719.9,221.8 721.9,206.8 725.2,192.6 734.1,181.3 740.3,176.8"/><g fill="#2a5ba7"><circle cx="734.6" cy="222.3" r="4.1"/><circle cx="790.2" cy="242.3" r="4.1"/><circle cx="710.9" cy="226.3" r="4.1"/><circle cx="735.3" cy="230.0" r="4.1"/><circle cx="711.7" cy="232.3" r="4.1"/><circle cx="755.9" cy="264.3" r="4.1"/><circle cx="757.8" cy="238.7" r="4.1"/><circle cx="742.3" cy="205.3" r="4.1"/><circle cx="734.5" cy="210.3" r="4.1"/><circle cx="759.4" cy="223.8" r="4.1"/><circle cx="750.2" cy="205.0" r="4.1"/><circle cx="768.9" cy="175.6" r="4.1"/><circle cx="742.0" cy="231.5" r="4.1"/><circle cx="714.6" cy="250.1" r="4.1"/><circle cx="754.5" cy="250.6" r="4.1"/><circle cx="773.3" cy="202.9" r="4.1"/><circle cx="731.1" cy="221.6" r="4.1"/><circle cx="768.2" cy="246.9" r="4.1"/><circle cx="733.2" cy="211.9" r="4.1"/><circle cx="731.1" cy="212.4" r="4.1"/><circle cx="744.5" cy="223.3" r="4.1"/><circle cx="743.3" cy="237.5" r="4.1"/><circle cx="727.4" cy="217.6" r="4.1"/><circle cx="750.6" cy="245.0" r="4.1"/><circle cx="718.7" cy="259.4" r="4.1"/><circle cx="741.8" cy="230.5" r="4.1"/><circle cx="770.6" cy="242.3" r="4.1"/><circle cx="775.7" cy="230.6" r="4.1"/><circle cx="749.8" cy="234.0" r="4.1"/><circle cx="726.4" cy="255.6" r="4.1"/><circle cx="731.6" cy="196.2" r="4.1"/><circle cx="722.0" cy="270.9" r="4.1"/><circle cx="742.3" cy="251.9" r="4.1"/><circle cx="730.3" cy="220.5" r="4.1"/><circle cx="726.8" cy="224.6" r="4.1"/><circle cx="725.5" cy="250.7" r="4.1"/><circle cx="735.7" cy="222.8" r="4.1"/><circle cx="731.6" cy="197.8" r="4.1"/><circle cx="750.2" cy="209.6" r="4.1"/><circle cx="780.3" cy="230.1" r="4.1"/><circle cx="754.2" cy="253.7" r="4.1"/><circle cx="762.7" cy="225.6" r="4.1"/><circle cx="748.1" cy="223.5" r="4.1"/><circle cx="776.1" cy="245.2" r="4.1"/><circle cx="759.0" cy="245.6" r="4.1"/><circle cx="737.2" cy="238.7" r="4.1"/><circle cx="716.4" cy="258.8" r="4.1"/><circle cx="752.4" cy="230.9" r="4.1"/><circle cx="764.6" cy="226.2" r="4.1"/><circle cx="744.2" cy="255.0" r="4.1"/><circle cx="753.0" cy="204.5" r="4.1"/><circle cx="760.8" cy="185.5" r="4.1"/><circle cx="790.0" cy="222.3" r="4.1"/><circle cx="751.4" cy="280.6" r="4.1"/><circle cx="765.2" cy="252.6" r="4.1"/><circle cx="790.6" cy="223.3" r="4.1"/><circle cx="753.5" cy="255.8" r="4.1"/><circle cx="756.7" cy="244.6" r="4.1"/><circle cx="764.9" cy="199.2" r="4.1"/><circle cx="744.0" cy="258.6" r="4.1"/><circle cx="723.6" cy="256.1" r="4.1"/><circle cx="774.2" cy="225.1" r="4.1"/><circle cx="750.1" cy="228.4" r="4.1"/><circle cx="729.6" cy="219.7" r="4.1"/><circle cx="749.1" cy="241.1" r="4.1"/><circle cx="769.3" cy="208.6" r="4.1"/><circle cx="770.1" cy="207.8" r="4.1"/><circle cx="746.2" cy="235.3" r="4.1"/><circle cx="749.7" cy="223.4" r="4.1"/><circle cx="756.7" cy="213.2" r="4.1"/><circle cx="734.6" cy="221.6" r="4.1"/><circle cx="773.3" cy="224.0" r="4.1"/><circle cx="796.0" cy="231.6" r="4.1"/><circle cx="790.2" cy="226.6" r="4.1"/><circle cx="739.7" cy="205.5" r="4.1"/><circle cx="782.0" cy="250.5" r="4.1"/><circle cx="766.4" cy="236.7" r="4.1"/><circle cx="784.8" cy="246.2" r="4.1"/><circle cx="720.7" cy="244.9" r="4.1"/><circle cx="754.3" cy="223.8" r="4.1"/><circle cx="768.6" cy="227.1" r="4.1"/><circle cx="775.2" cy="223.5" r="4.1"/><circle cx="741.3" cy="231.9" r="4.1"/><circle cx="719.4" cy="233.8" r="4.1"/><circle cx="744.7" cy="218.0" r="4.1"/><circle cx="728.1" cy="210.2" r="4.1"/><circle cx="776.8" cy="258.5" r="4.1"/><circle cx="762.3" cy="225.4" r="4.1"/><circle cx="729.2" cy="243.7" r="4.1"/><circle cx="778.4" cy="174.5" r="4.1"/><circle cx="742.1" cy="235.7" r="4.1"/><circle cx="754.7" cy="247.5" r="4.1"/><circle cx="738.8" cy="258.7" r="4.1"/><circle cx="731.5" cy="268.6" r="4.1"/><circle cx="753.1" cy="232.1" r="4.1"/><circle cx="765.0" cy="234.2" r="4.1"/><circle cx="763.4" cy="222.5" r="4.1"/><circle cx="722.0" cy="208.3" r="4.1"/><circle cx="750.5" cy="224.0" r="4.1"/><circle cx="749.2" cy="226.6" r="4.1"/><circle cx="762.1" cy="194.0" r="4.1"/><circle cx="725.6" cy="253.4" r="4.1"/><circle cx="770.4" cy="213.6" r="4.1"/><circle cx="781.3" cy="210.2" r="4.1"/><circle cx="744.2" cy="182.6" r="4.1"/><circle cx="770.6" cy="226.2" r="4.1"/><circle cx="775.9" cy="243.5" r="4.1"/><circle cx="752.6" cy="230.4" r="4.1"/><circle cx="779.1" cy="222.7" r="4.1"/><circle cx="746.8" cy="228.4" r="4.1"/><circle cx="769.9" cy="249.0" r="4.1"/><circle cx="796.7" cy="225.0" r="4.1"/><circle cx="781.2" cy="211.4" r="4.1"/><circle cx="765.5" cy="230.3" r="4.1"/><circle cx="792.8" cy="242.0" r="4.1"/><circle cx="740.5" cy="241.3" r="4.1"/><circle cx="759.6" cy="219.9" r="4.1"/><circle cx="744.3" cy="204.9" r="4.1"/><circle cx="774.8" cy="199.6" r="4.1"/><circle cx="725.4" cy="224.0" r="4.1"/><circle cx="747.9" cy="246.9" r="4.1"/><circle cx="727.4" cy="240.6" r="4.1"/><circle cx="787.8" cy="205.7" r="4.1"/><circle cx="773.3" cy="204.6" r="4.1"/><circle cx="759.8" cy="236.4" r="4.1"/><circle cx="793.2" cy="211.1" r="4.1"/><circle cx="755.5" cy="252.7" r="4.1"/><circle cx="723.3" cy="227.5" r="4.1"/><circle cx="730.6" cy="210.8" r="4.1"/><circle cx="767.8" cy="244.5" r="4.1"/><circle cx="782.4" cy="223.6" r="4.1"/><circle cx="744.2" cy="230.9" r="4.1"/><circle cx="735.3" cy="202.1" r="4.1"/><circle cx="740.3" cy="248.5" r="4.1"/><circle cx="781.1" cy="218.3" r="4.1"/><circle cx="761.6" cy="225.9" r="4.1"/><circle cx="727.2" cy="231.3" r="4.1"/><circle cx="751.7" cy="190.3" r="4.1"/><circle cx="777.4" cy="189.4" r="4.1"/><circle cx="756.5" cy="201.9" r="4.1"/><circle cx="731.3" cy="210.2" r="4.1"/><circle cx="767.8" cy="196.9" r="4.1"/><circle cx="746.2" cy="264.2" r="4.1"/><circle cx="734.1" cy="226.2" r="4.1"/><circle cx="766.7" cy="212.9" r="4.1"/><circle cx="762.1" cy="211.0" r="4.1"/><circle cx="767.5" cy="228.4" r="4.1"/><circle cx="728.2" cy="260.7" r="4.1"/><circle cx="748.4" cy="220.1" r="4.1"/><circle cx="728.4" cy="215.5" r="4.1"/><circle cx="748.3" cy="230.9" r="4.1"/><circle cx="777.0" cy="195.2" r="4.1"/><circle cx="742.2" cy="255.5" r="4.1"/><circle cx="754.9" cy="236.6" r="4.1"/><circle cx="788.8" cy="234.9" r="4.1"/><circle cx="761.8" cy="225.8" r="4.1"/><circle cx="733.2" cy="239.9" r="4.1"/><circle cx="723.0" cy="252.8" r="4.1"/><circle cx="766.6" cy="222.8" r="4.1"/><circle cx="740.8" cy="183.6" r="4.1"/><circle cx="768.8" cy="223.8" r="4.1"/><circle cx="742.9" cy="243.9" r="4.1"/><circle cx="734.4" cy="212.5" r="4.1"/><circle cx="733.7" cy="194.0" r="4.1"/><circle cx="741.8" cy="248.0" r="4.1"/><circle cx="750.5" cy="203.0" r="4.1"/><circle cx="761.1" cy="177.6" r="4.1"/><circle cx="750.0" cy="247.1" r="4.1"/><circle cx="745.1" cy="224.4" r="4.1"/><circle cx="732.8" cy="232.9" r="4.1"/><circle cx="753.6" cy="191.3" r="4.1"/><circle cx="744.9" cy="192.6" r="4.1"/><circle cx="771.2" cy="219.5" r="4.1"/><circle cx="737.6" cy="230.5" r="4.1"/><circle cx="742.7" cy="234.3" r="4.1"/><circle cx="749.7" cy="207.6" r="4.1"/><circle cx="787.7" cy="241.0" r="4.1"/><circle cx="779.6" cy="208.8" r="4.1"/><circle cx="742.1" cy="202.0" r="4.1"/><circle cx="756.3" cy="224.7" r="4.1"/><circle cx="757.9" cy="265.6" r="4.1"/><circle cx="727.1" cy="241.1" r="4.1"/><circle cx="713.6" cy="250.0" r="4.1"/><circle cx="736.7" cy="221.8" r="4.1"/><circle cx="750.6" cy="263.1" r="4.1"/><circle cx="746.6" cy="211.6" r="4.1"/><circle cx="718.9" cy="230.2" r="4.1"/><circle cx="726.8" cy="211.4" r="4.1"/><circle cx="746.7" cy="239.7" r="4.1"/><circle cx="730.2" cy="239.6" r="4.1"/><circle cx="733.2" cy="238.3" r="4.1"/><circle cx="714.4" cy="231.7" r="4.1"/><circle cx="739.6" cy="230.9" r="4.1"/><circle cx="725.3" cy="203.8" r="4.1"/><circle cx="736.5" cy="206.3" r="4.1"/><circle cx="732.3" cy="218.4" r="4.1"/><circle cx="720.3" cy="219.6" r="4.1"/><circle cx="758.5" cy="167.5" r="4.1"/><circle cx="751.5" cy="205.0" r="4.1"/><circle cx="719.8" cy="190.5" r="4.1"/><circle cx="726.1" cy="204.7" r="4.1"/><circle cx="754.7" cy="192.2" r="4.1"/><circle cx="771.3" cy="202.9" r="4.1"/><circle cx="762.8" cy="248.7" r="4.1"/><circle cx="717.1" cy="248.5" r="4.1"/><circle cx="761.4" cy="220.8" r="4.1"/><circle cx="749.9" cy="219.9" r="4.1"/><circle cx="736.3" cy="242.2" r="4.1"/><circle cx="769.9" cy="225.1" r="4.1"/><circle cx="785.4" cy="251.5" r="4.1"/><circle cx="766.2" cy="208.4" r="4.1"/><circle cx="738.3" cy="248.5" r="4.1"/><circle cx="779.7" cy="219.2" r="4.1"/><circle cx="755.9" cy="242.9" r="4.1"/><circle cx="719.4" cy="240.5" r="4.1"/><circle cx="742.8" cy="230.8" r="4.1"/><circle cx="749.0" cy="198.0" r="4.1"/><circle cx="726.3" cy="227.4" r="4.1"/><circle cx="753.3" cy="220.1" r="4.1"/><circle cx="775.7" cy="217.8" r="4.1"/><circle cx="721.0" cy="218.2" r="4.1"/><circle cx="746.0" cy="223.3" r="4.1"/><circle cx="778.2" cy="238.7" r="4.1"/><circle cx="775.6" cy="241.4" r="4.1"/><circle cx="746.3" cy="251.4" r="4.1"/><circle cx="744.0" cy="232.5" r="4.1"/><circle cx="726.3" cy="229.0" r="4.1"/><circle cx="742.6" cy="235.5" r="4.1"/><circle cx="774.9" cy="225.9" r="4.1"/><circle cx="770.2" cy="232.2" r="4.1"/><circle cx="735.9" cy="225.1" r="4.1"/><circle cx="744.5" cy="212.2" r="4.1"/><circle cx="783.6" cy="213.7" r="4.1"/><circle cx="738.5" cy="243.6" r="4.1"/><circle cx="733.8" cy="199.1" r="4.1"/><circle cx="730.1" cy="238.3" r="4.1"/><circle cx="759.5" cy="233.9" r="4.1"/><circle cx="739.4" cy="204.8" r="4.1"/><circle cx="772.3" cy="192.0" r="4.1"/><circle cx="745.4" cy="194.9" r="4.1"/><circle cx="740.8" cy="223.1" r="4.1"/><circle cx="783.4" cy="205.6" r="4.1"/><circle cx="757.8" cy="246.2" r="4.1"/><circle cx="732.4" cy="224.8" r="4.1"/><circle cx="762.6" cy="224.0" r="4.1"/><circle cx="733.1" cy="231.6" r="4.1"/><circle cx="753.5" cy="191.1" r="4.1"/><circle cx="783.5" cy="232.5" r="4.1"/><circle cx="757.5" cy="186.8" r="4.1"/><circle cx="745.4" cy="252.7" r="4.1"/><circle cx="760.6" cy="219.3" r="4.1"/><circle cx="733.5" cy="247.2" r="4.1"/><circle cx="746.1" cy="235.2" r="4.1"/><circle cx="763.0" cy="266.8" r="4.1"/><circle cx="755.6" cy="233.7" r="4.1"/><circle cx="772.6" cy="227.1" r="4.1"/><circle cx="753.1" cy="277.8" r="4.1"/><circle cx="765.4" cy="246.5" r="4.1"/><circle cx="770.9" cy="259.5" r="4.1"/><circle cx="724.0" cy="206.9" r="4.1"/><circle cx="722.8" cy="220.5" r="4.1"/><circle cx="742.6" cy="229.8" r="4.1"/><circle cx="726.5" cy="229.5" r="4.1"/><circle cx="730.5" cy="278.1" r="4.1"/><circle cx="790.3" cy="198.4" r="4.1"/><circle cx="774.0" cy="241.8" r="4.1"/><circle cx="714.1" cy="241.8" r="4.1"/><circle cx="748.8" cy="235.5" r="4.1"/><circle cx="730.5" cy="225.7" r="4.1"/><circle cx="760.9" cy="222.8" r="4.1"/><circle cx="736.3" cy="223.3" r="4.1"/><circle cx="727.4" cy="235.3" r="4.1"/><circle cx="752.4" cy="238.5" r="4.1"/><circle cx="771.4" cy="197.2" r="4.1"/><circle cx="762.1" cy="234.9" r="4.1"/><circle cx="782.4" cy="226.8" r="4.1"/><circle cx="716.9" cy="234.8" r="4.1"/><circle cx="739.7" cy="264.5" r="4.1"/><circle cx="744.0" cy="216.1" r="4.1"/><circle cx="732.5" cy="206.3" r="4.1"/><circle cx="737.3" cy="241.2" r="4.1"/><circle cx="718.9" cy="221.7" r="4.1"/><circle cx="715.4" cy="222.7" r="4.1"/><circle cx="754.4" cy="197.0" r="4.1"/><circle cx="736.7" cy="229.1" r="4.1"/><circle cx="768.9" cy="249.4" r="4.1"/><circle cx="747.7" cy="202.5" r="4.1"/><circle cx="711.2" cy="245.2" r="4.1"/><circle cx="783.8" cy="235.3" r="4.1"/><circle cx="787.9" cy="215.5" r="4.1"/><circle cx="740.8" cy="264.2" r="4.1"/><circle cx="725.9" cy="241.0" r="4.1"/><circle cx="759.5" cy="230.1" r="4.1"/><circle cx="791.9" cy="205.3" r="4.1"/><circle cx="739.9" cy="176.1" r="4.1"/><circle cx="725.0" cy="214.1" r="4.1"/><circle cx="740.9" cy="221.5" r="4.1"/><circle cx="757.4" cy="210.3" r="4.1"/><circle cx="760.4" cy="198.4" r="4.1"/><circle cx="731.2" cy="268.9" r="4.1"/><circle cx="775.0" cy="252.7" r="4.1"/><circle cx="766.4" cy="230.0" r="4.1"/><circle cx="737.9" cy="240.2" r="4.1"/><circle cx="745.4" cy="215.8" r="4.1"/><circle cx="749.9" cy="224.5" r="4.1"/><circle cx="771.7" cy="203.3" r="4.1"/><circle cx="739.9" cy="249.2" r="4.1"/><circle cx="730.0" cy="214.8" r="4.1"/><circle cx="738.0" cy="203.1" r="4.1"/><circle cx="744.3" cy="238.5" r="4.1"/><circle cx="765.7" cy="262.7" r="4.1"/><circle cx="785.1" cy="251.4" r="4.1"/><circle cx="749.3" cy="251.7" r="4.1"/><circle cx="726.2" cy="224.2" r="4.1"/><circle cx="785.1" cy="245.6" r="4.1"/><circle cx="716.5" cy="212.2" r="4.1"/><circle cx="772.2" cy="241.5" r="4.1"/><circle cx="776.4" cy="183.8" r="4.1"/><circle cx="719.8" cy="220.6" r="4.1"/><circle cx="726.9" cy="225.9" r="4.1"/><circle cx="750.8" cy="235.1" r="4.1"/><circle cx="747.4" cy="240.4" r="4.1"/><circle cx="769.5" cy="230.6" r="4.1"/><circle cx="721.1" cy="258.1" r="4.1"/><circle cx="756.0" cy="237.2" r="4.1"/><circle cx="754.9" cy="188.0" r="4.1"/><circle cx="764.7" cy="211.1" r="4.1"/><circle cx="721.2" cy="258.0" r="4.1"/><circle cx="743.3" cy="233.9" r="4.1"/><circle cx="772.3" cy="266.0" r="4.1"/><circle cx="767.0" cy="210.7" r="4.1"/><circle cx="756.1" cy="246.1" r="4.1"/><circle cx="756.2" cy="216.2" r="4.1"/><circle cx="755.8" cy="226.0" r="4.1"/><circle cx="738.5" cy="233.1" r="4.1"/><circle cx="759.3" cy="202.4" r="4.1"/><circle cx="775.5" cy="246.9" r="4.1"/><circle cx="753.5" cy="223.9" r="4.1"/><circle cx="726.5" cy="240.9" r="4.1"/><circle cx="714.3" cy="256.6" r="4.1"/><circle cx="760.0" cy="214.6" r="4.1"/><circle cx="785.0" cy="238.0" r="4.1"/><circle cx="758.7" cy="195.3" r="4.1"/><circle cx="763.3" cy="260.8" r="4.1"/><circle cx="777.2" cy="195.6" r="4.1"/><circle cx="784.1" cy="265.4" r="4.1"/><circle cx="770.9" cy="217.3" r="4.1"/><circle cx="714.1" cy="204.6" r="4.1"/><circle cx="736.3" cy="233.1" r="4.1"/><circle cx="763.5" cy="208.4" r="4.1"/><circle cx="717.8" cy="258.3" r="4.1"/><circle cx="720.0" cy="237.5" r="4.1"/><circle cx="769.6" cy="202.1" r="4.1"/><circle cx="773.8" cy="222.2" r="4.1"/><circle cx="730.2" cy="202.6" r="4.1"/><circle cx="751.9" cy="251.4" r="4.1"/><circle cx="745.5" cy="207.0" r="4.1"/><circle cx="746.5" cy="225.0" r="4.1"/><circle cx="747.7" cy="244.9" r="4.1"/><circle cx="727.3" cy="273.1" r="4.1"/><circle cx="770.8" cy="211.0" r="4.1"/><circle cx="739.4" cy="243.5" r="4.1"/><circle cx="766.9" cy="272.0" r="4.1"/><circle cx="746.4" cy="244.9" r="4.1"/><circle cx="739.4" cy="216.9" r="4.1"/><circle cx="786.9" cy="222.7" r="4.1"/><circle cx="747.2" cy="217.5" r="4.1"/><circle cx="757.8" cy="240.6" r="4.1"/><circle cx="747.1" cy="198.5" r="4.1"/><circle cx="758.3" cy="206.4" r="4.1"/><circle cx="741.5" cy="231.6" r="4.1"/><circle cx="756.3" cy="170.3" r="4.1"/><circle cx="791.5" cy="245.8" r="4.1"/><circle cx="727.5" cy="212.7" r="4.1"/><circle cx="756.1" cy="248.9" r="4.1"/><circle cx="737.6" cy="218.5" r="4.1"/><circle cx="775.9" cy="204.6" r="4.1"/><circle cx="754.9" cy="252.2" r="4.1"/><circle cx="743.3" cy="244.6" r="4.1"/><circle cx="746.7" cy="187.2" r="4.1"/><circle cx="736.1" cy="220.5" r="4.1"/><circle cx="740.9" cy="225.8" r="4.1"/><circle cx="758.4" cy="231.9" r="4.1"/><circle cx="753.0" cy="214.3" r="4.1"/><circle cx="743.1" cy="215.5" r="4.1"/><circle cx="734.0" cy="257.5" r="4.1"/><circle cx="766.8" cy="216.7" r="4.1"/><circle cx="781.0" cy="200.4" r="4.1"/><circle cx="739.8" cy="207.7" r="4.1"/><circle cx="746.9" cy="215.1" r="4.1"/><circle cx="737.2" cy="224.5" r="4.1"/><circle cx="772.8" cy="225.8" r="4.1"/><circle cx="747.2" cy="214.8" r="4.1"/><circle cx="728.4" cy="186.6" r="4.1"/><circle cx="719.9" cy="222.0" r="4.1"/><circle cx="734.6" cy="198.2" r="4.1"/><circle cx="731.4" cy="236.6" r="4.1"/><circle cx="753.4" cy="227.1" r="4.1"/><circle cx="714.5" cy="243.1" r="4.1"/><circle cx="727.6" cy="189.3" r="4.1"/><circle cx="733.9" cy="247.6" r="4.1"/><circle cx="739.7" cy="212.2" r="4.1"/><circle cx="781.8" cy="236.7" r="4.1"/><circle cx="746.6" cy="268.8" r="4.1"/><circle cx="760.9" cy="208.1" r="4.1"/><circle cx="723.4" cy="215.9" r="4.1"/><circle cx="754.1" cy="249.0" r="4.1"/><circle cx="770.6" cy="229.3" r="4.1"/><circle cx="722.1" cy="249.1" r="4.1"/><circle cx="752.7" cy="200.2" r="4.1"/><circle cx="720.5" cy="231.7" r="4.1"/><circle cx="758.5" cy="245.9" r="4.1"/><circle cx="720.5" cy="272.4" r="4.1"/><circle cx="782.2" cy="251.1" r="4.1"/><circle cx="726.5" cy="240.6" r="4.1"/><circle cx="779.3" cy="243.6" r="4.1"/><circle cx="725.7" cy="266.0" r="4.1"/><circle cx="723.3" cy="214.9" r="4.1"/><circle cx="741.0" cy="237.2" r="4.1"/><circle cx="718.3" cy="230.3" r="4.1"/><circle cx="780.2" cy="226.9" r="4.1"/><circle cx="761.9" cy="235.3" r="4.1"/><circle cx="730.6" cy="215.9" r="4.1"/><circle cx="749.8" cy="236.4" r="4.1"/><circle cx="737.3" cy="214.3" r="4.1"/><circle cx="780.3" cy="237.6" r="4.1"/><circle cx="760.9" cy="229.9" r="4.1"/><circle cx="730.2" cy="196.6" r="4.1"/><circle cx="728.7" cy="228.6" r="4.1"/><circle cx="743.1" cy="242.0" r="4.1"/><circle cx="791.7" cy="239.7" r="4.1"/><circle cx="769.5" cy="216.8" r="4.1"/><circle cx="767.0" cy="254.3" r="4.1"/><circle cx="740.3" cy="184.4" r="4.1"/><circle cx="745.4" cy="212.6" r="4.1"/><circle cx="754.8" cy="245.3" r="4.1"/><circle cx="769.4" cy="174.5" r="4.1"/><circle cx="773.5" cy="179.3" r="4.1"/><circle cx="765.8" cy="214.9" r="4.1"/><circle cx="721.7" cy="212.7" r="4.1"/><circle cx="717.2" cy="225.3" r="4.1"/><circle cx="772.3" cy="245.1" r="4.1"/><circle cx="750.5" cy="252.4" r="4.1"/><circle cx="761.7" cy="278.2" r="4.1"/><circle cx="762.1" cy="211.2" r="4.1"/><circle cx="742.4" cy="207.2" r="4.1"/><circle cx="742.4" cy="222.2" r="4.1"/><circle cx="766.2" cy="244.7" r="4.1"/><circle cx="750.8" cy="236.0" r="4.1"/><circle cx="731.5" cy="212.3" r="4.1"/><circle cx="716.4" cy="227.2" r="4.1"/><circle cx="741.3" cy="187.1" r="4.1"/><circle cx="755.8" cy="225.9" r="4.1"/><circle cx="748.0" cy="190.7" r="4.1"/><circle cx="765.9" cy="218.9" r="4.1"/><circle cx="762.5" cy="218.3" r="4.1"/><circle cx="787.3" cy="242.7" r="4.1"/><circle cx="787.0" cy="228.9" r="4.1"/><circle cx="724.9" cy="191.5" r="4.1"/><circle cx="737.7" cy="233.3" r="4.1"/><circle cx="748.6" cy="237.6" r="4.1"/><circle cx="752.3" cy="195.8" r="4.1"/><circle cx="776.3" cy="242.5" r="4.1"/><circle cx="771.7" cy="203.9" r="4.1"/><circle cx="751.1" cy="225.9" r="4.1"/><circle cx="779.4" cy="193.2" r="4.1"/><circle cx="767.3" cy="258.2" r="4.1"/><circle cx="740.7" cy="207.3" r="4.1"/><circle cx="783.5" cy="233.3" r="4.1"/><circle cx="778.8" cy="245.9" r="4.1"/><circle cx="777.5" cy="223.1" r="4.1"/><circle cx="734.6" cy="242.8" r="4.1"/><circle cx="738.5" cy="267.6" r="4.1"/><circle cx="745.5" cy="248.1" r="4.1"/><circle cx="778.8" cy="225.8" r="4.1"/><circle cx="759.6" cy="227.4" r="4.1"/><circle cx="728.8" cy="263.9" r="4.1"/><circle cx="729.0" cy="189.2" r="4.1"/><circle cx="739.0" cy="230.8" r="4.1"/><circle cx="753.0" cy="219.2" r="4.1"/><circle cx="740.1" cy="174.8" r="4.1"/><circle cx="766.6" cy="270.1" r="4.1"/><circle cx="733.2" cy="183.0" r="4.1"/><circle cx="769.5" cy="223.0" r="4.1"/><circle cx="747.3" cy="227.9" r="4.1"/><circle cx="790.2" cy="200.4" r="4.1"/><circle cx="769.7" cy="211.9" r="4.1"/><circle cx="772.2" cy="233.2" r="4.1"/><circle cx="733.1" cy="254.1" r="4.1"/><circle cx="765.1" cy="273.4" r="4.1"/><circle cx="741.6" cy="231.3" r="4.1"/><circle cx="734.5" cy="258.1" r="4.1"/><circle cx="732.8" cy="227.4" r="4.1"/><circle cx="783.9" cy="240.9" r="4.1"/><circle cx="758.8" cy="234.3" r="4.1"/><circle cx="759.9" cy="243.8" r="4.1"/><circle cx="743.9" cy="178.3" r="4.1"/><circle cx="784.6" cy="201.3" r="4.1"/><circle cx="761.9" cy="250.4" r="4.1"/><circle cx="716.7" cy="231.9" r="4.1"/><circle cx="742.2" cy="227.9" r="4.1"/><circle cx="768.9" cy="228.3" r="4.1"/><circle cx="739.8" cy="224.6" r="4.1"/><circle cx="734.5" cy="214.9" r="4.1"/><circle cx="767.6" cy="220.9" r="4.1"/><circle cx="767.9" cy="209.0" r="4.1"/><circle cx="746.7" cy="198.5" r="4.1"/><circle cx="740.5" cy="213.8" r="4.1"/><circle cx="773.2" cy="247.2" r="4.1"/><circle cx="777.3" cy="207.1" r="4.1"/><circle cx="758.4" cy="258.3" r="4.1"/><circle cx="754.4" cy="224.4" r="4.1"/><circle cx="730.9" cy="246.9" r="4.1"/><circle cx="754.3" cy="251.1" r="4.1"/><circle cx="746.2" cy="277.5" r="4.1"/><circle cx="749.3" cy="195.6" r="4.1"/><circle cx="755.0" cy="238.2" r="4.1"/><circle cx="781.9" cy="214.3" r="4.1"/><circle cx="736.4" cy="219.4" r="4.1"/><circle cx="740.1" cy="173.4" r="4.1"/><circle cx="767.8" cy="257.3" r="4.1"/><circle cx="731.0" cy="201.6" r="4.1"/><circle cx="746.4" cy="205.9" r="4.1"/><circle cx="769.7" cy="210.7" r="4.1"/><circle cx="765.3" cy="195.4" r="4.1"/><circle cx="714.8" cy="237.0" r="4.1"/><circle cx="771.2" cy="230.0" r="4.1"/><circle cx="755.5" cy="171.5" r="4.1"/><circle cx="777.8" cy="195.7" r="4.1"/><circle cx="751.8" cy="241.9" r="4.1"/><circle cx="765.6" cy="193.8" r="4.1"/><circle cx="722.2" cy="209.3" r="4.1"/><circle cx="754.0" cy="247.3" r="4.1"/><circle cx="753.1" cy="253.8" r="4.1"/><circle cx="737.6" cy="191.4" r="4.1"/><circle cx="751.0" cy="225.1" r="4.1"/><circle cx="715.1" cy="251.9" r="4.1"/><circle cx="726.6" cy="208.6" r="4.1"/><circle cx="755.8" cy="199.9" r="4.1"/><circle cx="765.7" cy="236.1" r="4.1"/><circle cx="761.6" cy="226.5" r="4.1"/><circle cx="738.6" cy="207.8" r="4.1"/><circle cx="758.0" cy="260.5" r="4.1"/><circle cx="770.0" cy="236.0" r="4.1"/><circle cx="775.4" cy="259.8" r="4.1"/><circle cx="719.8" cy="226.0" r="4.1"/><circle cx="781.1" cy="211.1" r="4.1"/><circle cx="739.5" cy="242.5" r="4.1"/><circle cx="745.6" cy="257.2" r="4.1"/><circle cx="743.5" cy="242.2" r="4.1"/><circle cx="717.8" cy="201.8" r="4.1"/><circle cx="726.4" cy="226.2" r="4.1"/><circle cx="716.7" cy="241.2" r="4.1"/><circle cx="732.4" cy="220.4" r="4.1"/><circle cx="743.7" cy="206.9" r="4.1"/><circle cx="792.9" cy="210.2" r="4.1"/><circle cx="723.5" cy="236.0" r="4.1"/><circle cx="759.1" cy="264.6" r="4.1"/><circle cx="788.7" cy="222.5" r="4.1"/><circle cx="770.5" cy="271.0" r="4.1"/><circle cx="782.3" cy="226.0" r="4.1"/><circle cx="782.0" cy="212.8" r="4.1"/><circle cx="719.5" cy="224.8" r="4.1"/><circle cx="752.6" cy="246.0" r="4.1"/><circle cx="776.8" cy="182.8" r="4.1"/><circle cx="756.8" cy="238.0" r="4.1"/><circle cx="718.7" cy="219.4" r="4.1"/><circle cx="751.0" cy="236.8" r="4.1"/><circle cx="728.5" cy="211.0" r="4.1"/><circle cx="722.4" cy="234.0" r="4.1"/><circle cx="741.3" cy="211.2" r="4.1"/><circle cx="765.1" cy="221.4" r="4.1"/><circle cx="719.9" cy="253.4" r="4.1"/><circle cx="773.2" cy="236.8" r="4.1"/><circle cx="723.9" cy="252.7" r="4.1"/><circle cx="734.9" cy="179.7" r="4.1"/><circle cx="746.2" cy="269.6" r="4.1"/><circle cx="738.3" cy="239.8" r="4.1"/><circle cx="782.8" cy="230.0" r="4.1"/><circle cx="741.6" cy="225.8" r="4.1"/><circle cx="763.5" cy="213.0" r="4.1"/><circle cx="757.8" cy="239.0" r="4.1"/><circle cx="740.1" cy="243.0" r="4.1"/><circle cx="763.0" cy="217.6" r="4.1"/><circle cx="744.8" cy="228.2" r="4.1"/><circle cx="745.7" cy="220.4" r="4.1"/><circle cx="724.5" cy="228.1" r="4.1"/><circle cx="767.2" cy="241.1" r="4.1"/><circle cx="729.4" cy="239.2" r="4.1"/><circle cx="764.2" cy="203.2" r="4.1"/><circle cx="762.0" cy="221.4" r="4.1"/><circle cx="740.4" cy="231.2" r="4.1"/><circle cx="744.4" cy="171.8" r="4.1"/><circle cx="754.5" cy="198.6" r="4.1"/><circle cx="747.2" cy="242.0" r="4.1"/><circle cx="743.7" cy="214.8" r="4.1"/><circle cx="752.6" cy="237.4" r="4.1"/><circle cx="729.2" cy="210.3" r="4.1"/><circle cx="761.3" cy="263.9" r="4.1"/><circle cx="749.2" cy="246.5" r="4.1"/><circle cx="731.4" cy="225.6" r="4.1"/><circle cx="750.9" cy="194.5" r="4.1"/><circle cx="748.7" cy="220.8" r="4.1"/><circle cx="755.9" cy="230.8" r="4.1"/><circle cx="756.4" cy="198.2" r="4.1"/><circle cx="730.9" cy="220.1" r="4.1"/><circle cx="727.7" cy="213.4" r="4.1"/><circle cx="777.6" cy="203.4" r="4.1"/><circle cx="740.2" cy="268.4" r="4.1"/><circle cx="745.2" cy="200.7" r="4.1"/><circle cx="754.7" cy="229.1" r="4.1"/><circle cx="752.0" cy="185.4" r="4.1"/><circle cx="755.6" cy="234.2" r="4.1"/><circle cx="739.1" cy="233.3" r="4.1"/><circle cx="765.7" cy="222.6" r="4.1"/><circle cx="749.0" cy="258.8" r="4.1"/><circle cx="761.9" cy="238.8" r="4.1"/><circle cx="727.5" cy="237.0" r="4.1"/><circle cx="740.0" cy="242.4" r="4.1"/><circle cx="784.4" cy="201.7" r="4.1"/><circle cx="778.9" cy="233.1" r="4.1"/><circle cx="779.0" cy="219.3" r="4.1"/><circle cx="735.3" cy="258.7" r="4.1"/><circle cx="761.8" cy="229.3" r="4.1"/><circle cx="724.8" cy="259.5" r="4.1"/><circle cx="744.1" cy="223.0" r="4.1"/><circle cx="735.6" cy="228.4" r="4.1"/><circle cx="766.0" cy="226.7" r="4.1"/><circle cx="749.8" cy="215.0" r="4.1"/><circle cx="744.8" cy="207.1" r="4.1"/><circle cx="757.9" cy="189.6" r="4.1"/><circle cx="757.4" cy="234.2" r="4.1"/><circle cx="755.4" cy="265.4" r="4.1"/><circle cx="794.9" cy="238.3" r="4.1"/><circle cx="743.1" cy="252.1" r="4.1"/><circle cx="778.5" cy="199.5" r="4.1"/><circle cx="734.3" cy="221.6" r="4.1"/><circle cx="790.1" cy="197.9" r="4.1"/><circle cx="771.4" cy="208.7" r="4.1"/><circle cx="774.9" cy="235.3" r="4.1"/><circle cx="772.8" cy="194.9" r="4.1"/><circle cx="758.4" cy="214.3" r="4.1"/><circle cx="769.6" cy="244.6" r="4.1"/><circle cx="755.6" cy="224.7" r="4.1"/><circle cx="751.2" cy="233.6" r="4.1"/><circle cx="739.5" cy="217.4" r="4.1"/><circle cx="736.3" cy="202.8" r="4.1"/><circle cx="776.1" cy="196.5" r="4.1"/><circle cx="782.1" cy="244.3" r="4.1"/><circle cx="751.9" cy="202.4" r="4.1"/><circle cx="754.6" cy="250.0" r="4.1"/><circle cx="759.8" cy="222.5" r="4.1"/><circle cx="747.1" cy="262.3" r="4.1"/><circle cx="742.9" cy="268.6" r="4.1"/><circle cx="758.7" cy="268.4" r="4.1"/><circle cx="735.5" cy="238.3" r="4.1"/><circle cx="776.8" cy="203.8" r="4.1"/><circle cx="760.9" cy="231.5" r="4.1"/><circle cx="739.8" cy="264.9" r="4.1"/><circle cx="749.1" cy="282.4" r="4.1"/><circle cx="769.3" cy="212.1" r="4.1"/><circle cx="758.7" cy="210.7" r="4.1"/><circle cx="771.8" cy="244.3" r="4.1"/><circle cx="724.6" cy="219.0" r="4.1"/><circle cx="763.7" cy="230.2" r="4.1"/><circle cx="729.5" cy="254.4" r="4.1"/><circle cx="784.6" cy="193.7" r="4.1"/><circle cx="749.0" cy="212.7" r="4.1"/><circle cx="739.0" cy="232.5" r="4.1"/><circle cx="724.6" cy="225.7" r="4.1"/><circle cx="791.5" cy="238.8" r="4.1"/><circle cx="786.9" cy="248.4" r="4.1"/><circle cx="772.0" cy="243.5" r="4.1"/><circle cx="743.0" cy="215.8" r="4.1"/><circle cx="727.2" cy="224.5" r="4.1"/><circle cx="754.6" cy="224.4" r="4.1"/><circle cx="748.3" cy="182.4" r="4.1"/><circle cx="734.1" cy="209.5" r="4.1"/><circle cx="758.8" cy="217.3" r="4.1"/><circle cx="741.1" cy="229.9" r="4.1"/><circle cx="740.5" cy="221.2" r="4.1"/><circle cx="777.3" cy="223.9" r="4.1"/><circle cx="730.3" cy="241.7" r="4.1"/><circle cx="770.3" cy="242.4" r="4.1"/><circle cx="720.6" cy="249.7" r="4.1"/><circle cx="752.6" cy="230.8" r="4.1"/><circle cx="753.6" cy="238.5" r="4.1"/><circle cx="763.0" cy="262.2" r="4.1"/><circle cx="757.4" cy="225.9" r="4.1"/><circle cx="766.7" cy="225.5" r="4.1"/><circle cx="777.2" cy="231.6" r="4.1"/><circle cx="769.1" cy="216.0" r="4.1"/><circle cx="774.9" cy="242.6" r="4.1"/><circle cx="732.1" cy="219.3" r="4.1"/><circle cx="753.8" cy="197.4" r="4.1"/><circle cx="726.5" cy="239.3" r="4.1"/><circle cx="763.5" cy="259.2" r="4.1"/><circle cx="721.9" cy="219.4" r="4.1"/><circle cx="720.9" cy="222.1" r="4.1"/><circle cx="731.4" cy="280.1" r="4.1"/><circle cx="761.9" cy="203.7" r="4.1"/><circle cx="757.4" cy="242.4" r="4.1"/><circle cx="765.9" cy="178.1" r="4.1"/><circle cx="746.1" cy="260.5" r="4.1"/><circle cx="760.2" cy="226.4" r="4.1"/><circle cx="736.9" cy="240.6" r="4.1"/><circle cx="783.1" cy="214.5" r="4.1"/><circle cx="760.9" cy="218.6" r="4.1"/><circle cx="741.4" cy="179.1" r="4.1"/><circle cx="757.2" cy="249.2" r="4.1"/><circle cx="747.8" cy="251.9" r="4.1"/><circle cx="755.5" cy="256.2" r="4.1"/><circle cx="755.1" cy="219.4" r="4.1"/><circle cx="740.2" cy="230.2" r="4.1"/><circle cx="758.6" cy="209.9" r="4.1"/><circle cx="748.4" cy="197.2" r="4.1"/><circle cx="720.8" cy="243.1" r="4.1"/><circle cx="760.4" cy="248.7" r="4.1"/><circle cx="755.3" cy="234.0" r="4.1"/><circle cx="758.7" cy="264.7" r="4.1"/><circle cx="749.5" cy="203.8" r="4.1"/><circle cx="748.3" cy="231.6" r="4.1"/><circle cx="752.3" cy="239.7" r="4.1"/><circle cx="764.9" cy="217.1" r="4.1"/><circle cx="731.2" cy="221.2" r="4.1"/><circle cx="761.7" cy="265.5" r="4.1"/><circle cx="714.0" cy="252.5" r="4.1"/><circle cx="745.0" cy="253.0" r="4.1"/><circle cx="794.9" cy="239.2" r="4.1"/><circle cx="725.2" cy="218.0" r="4.1"/><circle cx="759.7" cy="220.0" r="4.1"/><circle cx="749.8" cy="209.7" r="4.1"/><circle cx="746.2" cy="213.1" r="4.1"/><circle cx="771.0" cy="234.5" r="4.1"/><circle cx="768.2" cy="189.9" r="4.1"/><circle cx="740.8" cy="210.3" r="4.1"/><circle cx="741.3" cy="207.2" r="4.1"/><circle cx="734.5" cy="263.5" r="4.1"/><circle cx="745.0" cy="198.5" r="4.1"/><circle cx="744.4" cy="278.9" r="4.1"/><circle cx="767.3" cy="206.0" r="4.1"/><circle cx="745.3" cy="225.6" r="4.1"/><circle cx="751.9" cy="184.8" r="4.1"/><circle cx="729.3" cy="223.3" r="4.1"/><circle cx="711.5" cy="223.0" r="4.1"/><circle cx="752.6" cy="244.9" r="4.1"/><circle cx="775.3" cy="222.9" r="4.1"/><circle cx="756.1" cy="242.7" r="4.1"/><circle cx="774.2" cy="228.8" r="4.1"/><circle cx="733.7" cy="240.7" r="4.1"/><circle cx="770.5" cy="230.5" r="4.1"/><circle cx="764.1" cy="263.7" r="4.1"/><circle cx="739.5" cy="211.1" r="4.1"/><circle cx="726.2" cy="235.2" r="4.1"/><circle cx="772.8" cy="215.7" r="4.1"/><circle cx="792.5" cy="214.0" r="4.1"/><circle cx="757.3" cy="224.7" r="4.1"/><circle cx="782.9" cy="213.0" r="4.1"/><circle cx="788.9" cy="223.4" r="4.1"/><circle cx="720.5" cy="214.4" r="4.1"/><circle cx="747.6" cy="265.9" r="4.1"/><circle cx="740.3" cy="227.2" r="4.1"/><circle cx="736.7" cy="210.4" r="4.1"/><circle cx="715.4" cy="235.4" r="4.1"/><circle cx="778.7" cy="218.8" r="4.1"/><circle cx="726.7" cy="233.3" r="4.1"/><circle cx="751.0" cy="223.7" r="4.1"/><circle cx="760.9" cy="227.5" r="4.1"/><circle cx="742.2" cy="249.6" r="4.1"/><circle cx="743.9" cy="195.4" r="4.1"/><circle cx="766.2" cy="239.3" r="4.1"/><circle cx="757.8" cy="235.9" r="4.1"/><circle cx="736.9" cy="209.6" r="4.1"/><circle cx="782.4" cy="222.7" r="4.1"/><circle cx="716.2" cy="197.6" r="4.1"/><circle cx="714.4" cy="232.2" r="4.1"/><circle cx="776.1" cy="218.8" r="4.1"/><circle cx="753.1" cy="214.4" r="4.1"/><circle cx="770.3" cy="246.4" r="4.1"/><circle cx="771.4" cy="267.7" r="4.1"/><circle cx="722.0" cy="245.0" r="4.1"/><circle cx="714.8" cy="243.4" r="4.1"/><circle cx="769.4" cy="243.7" r="4.1"/><circle cx="769.4" cy="224.2" r="4.1"/><circle cx="736.6" cy="245.0" r="4.1"/><circle cx="736.9" cy="243.8" r="4.1"/><circle cx="732.0" cy="235.4" r="4.1"/><circle cx="758.1" cy="208.6" r="4.1"/><circle cx="744.2" cy="248.7" r="4.1"/><circle cx="752.3" cy="239.7" r="4.1"/><circle cx="739.1" cy="230.4" r="4.1"/><circle cx="718.1" cy="210.2" r="4.1"/><circle cx="780.2" cy="240.3" r="4.1"/><circle cx="752.0" cy="231.0" r="4.1"/><circle cx="721.0" cy="237.4" r="4.1"/><circle cx="723.6" cy="211.1" r="4.1"/><circle cx="767.3" cy="210.8" r="4.1"/><circle cx="739.6" cy="225.5" r="4.1"/><circle cx="753.5" cy="257.9" r="4.1"/><circle cx="712.2" cy="217.9" r="4.1"/><circle cx="764.3" cy="215.9" r="4.1"/><circle cx="741.8" cy="208.4" r="4.1"/><circle cx="743.6" cy="241.6" r="4.1"/><circle cx="778.9" cy="234.7" r="4.1"/><circle cx="781.9" cy="229.1" r="4.1"/><circle cx="712.9" cy="243.9" r="4.1"/><circle cx="750.5" cy="200.9" r="4.1"/><circle cx="745.8" cy="214.3" r="4.1"/><circle cx="753.7" cy="219.8" r="4.1"/><circle cx="764.3" cy="218.1" r="4.1"/><circle cx="764.3" cy="226.7" r="4.1"/><circle cx="756.0" cy="229.4" r="4.1"/><circle cx="739.7" cy="252.0" r="4.1"/><circle cx="763.7" cy="175.2" r="4.1"/><circle cx="722.8" cy="265.3" r="4.1"/><circle cx="760.3" cy="237.0" r="4.1"/><circle cx="740.0" cy="221.7" r="4.1"/><circle cx="754.1" cy="247.3" r="4.1"/><circle cx="752.7" cy="225.7" r="4.1"/><circle cx="728.1" cy="215.9" r="4.1"/><circle cx="740.6" cy="223.4" r="4.1"/><circle cx="733.4" cy="201.4" r="4.1"/><circle cx="742.7" cy="170.2" r="4.1"/><circle cx="715.3" cy="206.9" r="4.1"/><circle cx="757.9" cy="209.3" r="4.1"/><circle cx="724.0" cy="239.9" r="4.1"/><circle cx="745.4" cy="255.1" r="4.1"/><circle cx="743.2" cy="208.2" r="4.1"/><circle cx="739.5" cy="263.9" r="4.1"/><circle cx="782.4" cy="227.3" r="4.1"/><circle cx="771.0" cy="192.4" r="4.1"/><circle cx="775.7" cy="231.3" r="4.1"/><circle cx="745.4" cy="224.0" r="4.1"/><circle cx="752.9" cy="213.1" r="4.1"/><circle cx="738.4" cy="195.7" r="4.1"/><circle cx="781.9" cy="202.6" r="4.1"/><circle cx="742.7" cy="245.5" r="4.1"/><circle cx="773.4" cy="254.2" r="4.1"/><circle cx="732.3" cy="211.5" r="4.1"/><circle cx="743.6" cy="179.5" r="4.1"/><circle cx="764.6" cy="184.0" r="4.1"/><circle cx="741.5" cy="240.9" r="4.1"/><circle cx="763.2" cy="210.4" r="4.1"/><circle cx="764.6" cy="244.5" r="4.1"/><circle cx="758.8" cy="229.9" r="4.1"/><circle cx="739.1" cy="217.6" r="4.1"/><circle cx="767.8" cy="193.4" r="4.1"/><circle cx="756.0" cy="243.8" r="4.1"/><circle cx="735.0" cy="206.8" r="4.1"/><circle cx="786.6" cy="216.8" r="4.1"/><circle cx="768.4" cy="189.2" r="4.1"/><circle cx="725.5" cy="209.3" r="4.1"/><circle cx="745.5" cy="227.6" r="4.1"/><circle cx="790.2" cy="242.8" r="4.1"/><circle cx="752.9" cy="177.7" r="4.1"/><circle cx="746.4" cy="211.5" r="4.1"/><circle cx="762.6" cy="201.9" r="4.1"/><circle cx="729.7" cy="208.0" r="4.1"/><circle cx="763.2" cy="228.7" r="4.1"/><circle cx="725.5" cy="185.9" r="4.1"/><circle cx="735.8" cy="210.5" r="4.1"/><circle cx="736.3" cy="226.7" r="4.1"/><circle cx="765.2" cy="242.7" r="4.1"/><circle cx="733.6" cy="207.7" r="4.1"/><circle cx="783.1" cy="219.7" r="4.1"/><circle cx="765.3" cy="229.6" r="4.1"/><circle cx="757.8" cy="261.6" r="4.1"/><circle cx="744.1" cy="250.7" r="4.1"/><circle cx="761.6" cy="222.6" r="4.1"/><circle cx="739.2" cy="214.1" r="4.1"/><circle cx="776.0" cy="248.6" r="4.1"/><circle cx="730.8" cy="235.3" r="4.1"/><circle cx="757.0" cy="212.4" r="4.1"/><circle cx="752.1" cy="202.3" r="4.1"/><circle cx="754.4" cy="173.4" r="4.1"/><circle cx="744.2" cy="219.0" r="4.1"/><circle cx="747.9" cy="272.1" r="4.1"/><circle cx="723.6" cy="210.3" r="4.1"/><circle cx="718.7" cy="237.3" r="4.1"/><circle cx="750.0" cy="199.0" r="4.1"/><circle cx="770.8" cy="232.0" r="4.1"/><circle cx="782.1" cy="243.0" r="4.1"/><circle cx="751.3" cy="207.7" r="4.1"/><circle cx="775.0" cy="219.9" r="4.1"/><circle cx="729.8" cy="230.8" r="4.1"/><circle cx="726.3" cy="217.0" r="4.1"/><circle cx="722.8" cy="208.2" r="4.1"/><circle cx="769.6" cy="222.3" r="4.1"/><circle cx="715.1" cy="255.3" r="4.1"/><circle cx="789.0" cy="242.8" r="4.1"/><circle cx="725.7" cy="200.1" r="4.1"/><circle cx="777.9" cy="201.3" r="4.1"/><circle cx="735.3" cy="191.0" r="4.1"/><circle cx="792.1" cy="209.0" r="4.1"/><circle cx="744.3" cy="207.2" r="4.1"/><circle cx="732.5" cy="197.4" r="4.1"/><circle cx="773.4" cy="208.4" r="4.1"/><circle cx="781.3" cy="194.5" r="4.1"/><circle cx="758.7" cy="246.1" r="4.1"/><circle cx="721.0" cy="229.4" r="4.1"/><circle cx="734.4" cy="198.3" r="4.1"/><circle cx="737.6" cy="180.3" r="4.1"/><circle cx="740.5" cy="187.8" r="4.1"/><circle cx="762.4" cy="258.4" r="4.1"/><circle cx="779.5" cy="206.4" r="4.1"/><circle cx="744.0" cy="269.0" r="4.1"/><circle cx="776.7" cy="238.0" r="4.1"/><circle cx="737.1" cy="225.6" r="4.1"/><circle cx="717.7" cy="197.2" r="4.1"/><circle cx="748.4" cy="253.9" r="4.1"/><circle cx="729.8" cy="210.4" r="4.1"/><circle cx="761.2" cy="237.5" r="4.1"/><circle cx="712.7" cy="241.6" r="4.1"/><circle cx="727.3" cy="189.5" r="4.1"/><circle cx="758.1" cy="184.1" r="4.1"/><circle cx="735.0" cy="201.5" r="4.1"/><circle cx="742.1" cy="226.8" r="4.1"/><circle cx="735.0" cy="201.8" r="4.1"/><circle cx="742.4" cy="270.0" r="4.1"/><circle cx="754.2" cy="249.5" r="4.1"/><circle cx="746.7" cy="223.4" r="4.1"/><circle cx="757.6" cy="239.2" r="4.1"/><circle cx="762.3" cy="203.9" r="4.1"/><circle cx="747.9" cy="188.5" r="4.1"/><circle cx="772.0" cy="223.0" r="4.1"/><circle cx="740.9" cy="194.0" r="4.1"/><circle cx="758.7" cy="247.5" r="4.1"/><circle cx="759.8" cy="250.1" r="4.1"/><circle cx="729.7" cy="246.0" r="4.1"/><circle cx="754.8" cy="200.9" r="4.1"/><circle cx="744.9" cy="209.0" r="4.1"/><circle cx="727.8" cy="249.8" r="4.1"/><circle cx="735.7" cy="229.3" r="4.1"/><circle cx="765.4" cy="216.2" r="4.1"/><circle cx="719.8" cy="227.1" r="4.1"/><circle cx="747.2" cy="204.4" r="4.1"/><circle cx="752.4" cy="256.2" r="4.1"/><circle cx="772.9" cy="263.0" r="4.1"/><circle cx="783.1" cy="231.2" r="4.1"/><circle cx="750.8" cy="200.9" r="4.1"/><circle cx="778.6" cy="213.3" r="4.1"/><circle cx="764.3" cy="266.3" r="4.1"/><circle cx="753.6" cy="191.6" r="4.1"/><circle cx="726.1" cy="218.5" r="4.1"/><circle cx="782.3" cy="219.1" r="4.1"/><circle cx="747.3" cy="201.2" r="4.1"/><circle cx="758.7" cy="229.0" r="4.1"/><circle cx="769.5" cy="204.0" r="4.1"/><circle cx="764.7" cy="192.7" r="4.1"/><circle cx="734.0" cy="213.0" r="4.1"/><circle cx="745.0" cy="235.4" r="4.1"/><circle cx="740.1" cy="194.0" r="4.1"/><circle cx="742.1" cy="236.3" r="4.1"/><circle cx="738.6" cy="214.0" r="4.1"/><circle cx="765.7" cy="207.8" r="4.1"/><circle cx="774.7" cy="235.0" r="4.1"/><circle cx="760.0" cy="240.2" r="4.1"/><circle cx="779.7" cy="209.2" r="4.1"/><circle cx="777.4" cy="205.3" r="4.1"/><circle cx="759.0" cy="240.8" r="4.1"/><circle cx="753.8" cy="200.0" r="4.1"/><circle cx="721.3" cy="200.2" r="4.1"/><circle cx="749.2" cy="230.7" r="4.1"/><circle cx="763.7" cy="190.3" r="4.1"/><circle cx="757.9" cy="250.9" r="4.1"/><circle cx="754.4" cy="226.5" r="4.1"/><circle cx="770.0" cy="264.4" r="4.1"/><circle cx="786.0" cy="263.4" r="4.1"/><circle cx="720.7" cy="261.5" r="4.1"/><circle cx="743.7" cy="247.4" r="4.1"/><circle cx="736.9" cy="236.2" r="4.1"/><circle cx="737.6" cy="220.7" r="4.1"/><circle cx="774.7" cy="229.2" r="4.1"/><circle cx="725.1" cy="258.9" r="4.1"/><circle cx="752.3" cy="214.5" r="4.1"/><circle cx="759.5" cy="208.8" r="4.1"/><circle cx="739.5" cy="180.3" r="4.1"/><circle cx="757.6" cy="247.4" r="4.1"/><circle cx="773.8" cy="264.7" r="4.1"/><circle cx="751.7" cy="217.3" r="4.1"/><circle cx="773.9" cy="214.0" r="4.1"/><circle cx="760.1" cy="217.2" r="4.1"/><circle cx="735.0" cy="227.2" r="4.1"/><circle cx="778.9" cy="250.1" r="4.1"/><circle cx="755.7" cy="166.4" r="4.1"/><circle cx="752.8" cy="237.9" r="4.1"/><circle cx="765.6" cy="211.9" r="4.1"/><circle cx="776.7" cy="236.8" r="4.1"/><circle cx="791.8" cy="235.5" r="4.1"/><circle cx="734.2" cy="272.4" r="4.1"/><circle cx="776.9" cy="185.7" r="4.1"/><circle cx="778.1" cy="238.8" r="4.1"/><circle cx="759.7" cy="187.1" r="4.1"/><circle cx="712.8" cy="233.0" r="4.1"/><circle cx="754.6" cy="213.8" r="4.1"/><circle cx="742.8" cy="252.9" r="4.1"/><circle cx="733.5" cy="272.8" r="4.1"/><circle cx="763.0" cy="235.2" r="4.1"/><circle cx="748.2" cy="210.0" r="4.1"/><circle cx="744.9" cy="192.2" r="4.1"/><circle cx="752.0" cy="181.0" r="4.1"/><circle cx="712.9" cy="231.5" r="4.1"/><circle cx="751.8" cy="211.8" r="4.1"/><circle cx="754.8" cy="205.6" r="4.1"/><circle cx="745.4" cy="220.3" r="4.1"/><circle cx="760.0" cy="211.3" r="4.1"/><circle cx="774.1" cy="229.0" r="4.1"/><circle cx="761.6" cy="219.0" r="4.1"/><circle cx="769.8" cy="224.1" r="4.1"/><circle cx="753.8" cy="227.1" r="4.1"/><circle cx="736.2" cy="203.6" r="4.1"/><circle cx="762.0" cy="240.6" r="4.1"/><circle cx="748.2" cy="255.7" r="4.1"/><circle cx="752.8" cy="237.6" r="4.1"/><circle cx="776.1" cy="243.1" r="4.1"/><circle cx="745.6" cy="200.2" r="4.1"/><circle cx="731.8" cy="201.1" r="4.1"/><circle cx="775.8" cy="233.5" r="4.1"/><circle cx="763.0" cy="195.3" r="4.1"/><circle cx="774.9" cy="224.2" r="4.1"/><circle cx="765.2" cy="204.1" r="4.1"/><circle cx="749.5" cy="209.7" r="4.1"/><circle cx="757.9" cy="243.0" r="4.1"/><circle cx="745.1" cy="237.2" r="4.1"/><circle cx="762.7" cy="225.2" r="4.1"/><circle cx="744.0" cy="180.5" r="4.1"/><circle cx="775.7" cy="230.7" r="4.1"/><circle cx="744.6" cy="231.7" r="4.1"/><circle cx="738.0" cy="219.3" r="4.1"/><circle cx="762.4" cy="190.7" r="4.1"/><circle cx="743.2" cy="232.5" r="4.1"/><circle cx="758.0" cy="243.1" r="4.1"/><circle cx="730.5" cy="259.4" r="4.1"/><circle cx="749.8" cy="229.6" r="4.1"/><circle cx="760.9" cy="213.9" r="4.1"/><circle cx="734.6" cy="226.8" r="4.1"/><circle cx="726.0" cy="213.5" r="4.1"/><circle cx="762.0" cy="253.5" r="4.1"/><circle cx="765.4" cy="207.2" r="4.1"/><circle cx="752.7" cy="204.5" r="4.1"/><circle cx="725.4" cy="250.4" r="4.1"/><circle cx="741.8" cy="219.2" r="4.1"/><circle cx="755.2" cy="249.2" r="4.1"/><circle cx="753.9" cy="221.4" r="4.1"/><circle cx="759.1" cy="225.5" r="4.1"/><circle cx="744.0" cy="175.2" r="4.1"/><circle cx="730.8" cy="224.8" r="4.1"/><circle cx="727.6" cy="272.2" r="4.1"/><circle cx="731.2" cy="240.6" r="4.1"/><circle cx="762.7" cy="237.5" r="4.1"/><circle cx="715.3" cy="251.3" r="4.1"/><circle cx="793.4" cy="248.9" r="4.1"/><circle cx="770.0" cy="260.7" r="4.1"/><circle cx="731.9" cy="227.2" r="4.1"/><circle cx="736.2" cy="251.1" r="4.1"/><circle cx="727.2" cy="237.7" r="4.1"/><circle cx="741.6" cy="251.6" r="4.1"/><circle cx="742.0" cy="226.7" r="4.1"/><circle cx="760.2" cy="212.5" r="4.1"/><circle cx="743.9" cy="224.6" r="4.1"/><circle cx="742.2" cy="236.3" r="4.1"/><circle cx="735.7" cy="231.8" r="4.1"/><circle cx="746.1" cy="214.2" r="4.1"/><circle cx="726.6" cy="184.2" r="4.1"/><circle cx="735.5" cy="241.0" r="4.1"/><circle cx="743.5" cy="263.1" r="4.1"/><circle cx="728.0" cy="218.0" r="4.1"/><circle cx="713.3" cy="253.5" r="4.1"/><circle cx="718.6" cy="236.9" r="4.1"/><circle cx="781.6" cy="245.0" r="4.1"/><circle cx="753.6" cy="270.9" r="4.1"/><circle cx="742.0" cy="197.6" r="4.1"/><circle cx="771.3" cy="225.4" r="4.1"/><circle cx="734.1" cy="235.0" r="4.1"/><circle cx="762.7" cy="190.3" r="4.1"/><circle cx="773.7" cy="274.0" r="4.1"/><circle cx="741.6" cy="191.5" r="4.1"/><circle cx="757.1" cy="224.2" r="4.1"/><circle cx="769.3" cy="249.0" r="4.1"/><circle cx="748.1" cy="263.2" r="4.1"/><circle cx="755.4" cy="236.7" r="4.1"/><circle cx="748.9" cy="238.0" r="4.1"/><circle cx="770.8" cy="259.2" r="4.1"/><circle cx="751.4" cy="199.9" r="4.1"/><circle cx="734.8" cy="242.1" r="4.1"/><circle cx="756.6" cy="259.1" r="4.1"/><circle cx="746.3" cy="252.9" r="4.1"/><circle cx="763.8" cy="233.0" r="4.1"/><circle cx="756.0" cy="225.7" r="4.1"/><circle cx="727.4" cy="236.4" r="4.1"/><circle cx="733.1" cy="226.3" r="4.1"/><circle cx="770.2" cy="245.9" r="4.1"/><circle cx="724.9" cy="233.6" r="4.1"/><circle cx="733.2" cy="249.2" r="4.1"/><circle cx="739.9" cy="237.8" r="4.1"/><circle cx="727.4" cy="209.1" r="4.1"/><circle cx="743.8" cy="236.9" r="4.1"/><circle cx="715.6" cy="230.3" r="4.1"/><circle cx="778.2" cy="260.3" r="4.1"/><circle cx="725.5" cy="266.0" r="4.1"/><circle cx="739.3" cy="226.4" r="4.1"/><circle cx="761.3" cy="228.0" r="4.1"/><circle cx="757.6" cy="229.8" r="4.1"/><circle cx="769.6" cy="230.4" r="4.1"/><circle cx="738.6" cy="201.2" r="4.1"/><circle cx="724.0" cy="222.9" r="4.1"/><circle cx="765.5" cy="232.3" r="4.1"/><circle cx="741.3" cy="234.9" r="4.1"/><circle cx="735.0" cy="227.4" r="4.1"/><circle cx="759.2" cy="215.7" r="4.1"/><circle cx="779.9" cy="251.1" r="4.1"/><circle cx="741.5" cy="239.3" r="4.1"/><circle cx="753.0" cy="232.4" r="4.1"/><circle cx="756.1" cy="255.9" r="4.1"/><circle cx="756.5" cy="232.3" r="4.1"/><circle cx="771.1" cy="246.6" r="4.1"/><circle cx="789.9" cy="206.6" r="4.1"/><circle cx="765.5" cy="182.8" r="4.1"/><circle cx="750.6" cy="196.0" r="4.1"/><circle cx="719.0" cy="223.3" r="4.1"/><circle cx="724.8" cy="219.4" r="4.1"/><circle cx="789.8" cy="194.0" r="4.1"/><circle cx="790.0" cy="252.2" r="4.1"/><circle cx="748.2" cy="217.8" r="4.1"/><circle cx="743.4" cy="232.9" r="4.1"/><circle cx="773.2" cy="257.7" r="4.1"/><circle cx="764.9" cy="197.7" r="4.1"/><circle cx="771.4" cy="248.5" r="4.1"/><circle cx="771.9" cy="225.0" r="4.1"/><circle cx="769.0" cy="255.3" r="4.1"/><circle cx="735.0" cy="214.9" r="4.1"/><circle cx="736.6" cy="254.4" r="4.1"/><circle cx="750.9" cy="209.4" r="4.1"/><circle cx="726.2" cy="196.5" r="4.1"/><circle cx="755.6" cy="246.3" r="4.1"/><circle cx="780.3" cy="202.9" r="4.1"/><circle cx="727.4" cy="203.9" r="4.1"/><circle cx="729.8" cy="190.6" r="4.1"/><circle cx="786.0" cy="236.9" r="4.1"/><circle cx="781.6" cy="243.9" r="4.1"/><circle cx="752.3" cy="242.4" r="4.1"/><circle cx="733.2" cy="240.7" r="4.1"/><circle cx="736.4" cy="236.2" r="4.1"/><circle cx="745.6" cy="194.5" r="4.1"/><circle cx="723.9" cy="250.8" r="4.1"/><circle cx="772.7" cy="221.0" r="4.1"/><circle cx="732.5" cy="214.6" r="4.1"/><circle cx="758.0" cy="192.8" r="4.1"/><circle cx="771.8" cy="206.0" r="4.1"/><circle cx="722.4" cy="224.5" r="4.1"/><circle cx="740.1" cy="197.7" r="4.1"/><circle cx="755.0" cy="231.7" r="4.1"/><circle cx="748.8" cy="216.0" r="4.1"/><circle cx="757.7" cy="244.2" r="4.1"/><circle cx="738.4" cy="219.3" r="4.1"/><circle cx="733.8" cy="211.9" r="4.1"/><circle cx="777.1" cy="201.2" r="4.1"/><circle cx="752.9" cy="249.3" r="4.1"/><circle cx="736.6" cy="238.4" r="4.1"/><circle cx="765.9" cy="190.3" r="4.1"/><circle cx="771.4" cy="200.7" r="4.1"/><circle cx="751.3" cy="188.4" r="4.1"/><circle cx="776.9" cy="243.3" r="4.1"/><circle cx="764.9" cy="216.8" r="4.1"/><circle cx="738.4" cy="235.5" r="4.1"/><circle cx="760.4" cy="210.8" r="4.1"/><circle cx="721.1" cy="208.1" r="4.1"/><circle cx="783.8" cy="254.7" r="4.1"/><circle cx="775.1" cy="211.1" r="4.1"/><circle cx="735.3" cy="208.7" r="4.1"/><circle cx="746.2" cy="276.1" r="4.1"/><circle cx="718.7" cy="209.6" r="4.1"/><circle cx="749.8" cy="237.4" r="4.1"/><circle cx="724.0" cy="201.9" r="4.1"/><circle cx="736.1" cy="241.5" r="4.1"/><circle cx="745.2" cy="220.0" r="4.1"/><circle cx="753.9" cy="228.1" r="4.1"/><circle cx="771.7" cy="208.0" r="4.1"/><circle cx="749.3" cy="210.0" r="4.1"/><circle cx="766.5" cy="245.1" r="4.1"/><circle cx="743.5" cy="253.6" r="4.1"/><circle cx="744.8" cy="258.9" r="4.1"/><circle cx="740.2" cy="215.1" r="4.1"/><circle cx="740.1" cy="175.0" r="4.1"/><circle cx="748.8" cy="245.8" r="4.1"/><circle cx="762.1" cy="230.1" r="4.1"/><circle cx="765.3" cy="211.9" r="4.1"/><circle cx="737.9" cy="245.4" r="4.1"/><circle cx="746.0" cy="249.1" r="4.1"/><circle cx="737.9" cy="241.7" r="4.1"/><circle cx="778.9" cy="223.5" r="4.1"/><circle cx="717.0" cy="236.6" r="4.1"/><circle cx="725.0" cy="211.9" r="4.1"/><circle cx="778.3" cy="201.3" r="4.1"/><circle cx="761.1" cy="255.9" r="4.1"/><circle cx="754.5" cy="225.4" r="4.1"/><circle cx="756.2" cy="177.5" r="4.1"/><circle cx="729.1" cy="235.1" r="4.1"/><circle cx="763.6" cy="256.1" r="4.1"/><circle cx="740.3" cy="208.3" r="4.1"/><circle cx="726.1" cy="203.4" r="4.1"/><circle cx="738.6" cy="208.5" r="4.1"/><circle cx="733.9" cy="238.6" r="4.1"/><circle cx="751.5" cy="206.4" r="4.1"/><circle cx="773.0" cy="231.4" r="4.1"/><circle cx="744.2" cy="224.8" r="4.1"/><circle cx="777.0" cy="241.7" r="4.1"/><circle cx="746.3" cy="249.7" r="4.1"/><circle cx="728.3" cy="209.7" r="4.1"/><circle cx="742.8" cy="269.8" r="4.1"/><circle cx="744.7" cy="221.4" r="4.1"/><circle cx="762.9" cy="176.5" r="4.1"/><circle cx="743.0" cy="241.3" r="4.1"/><circle cx="724.7" cy="238.8" r="4.1"/><circle cx="730.4" cy="188.7" r="4.1"/><circle cx="769.9" cy="226.9" r="4.1"/><circle cx="767.0" cy="229.3" r="4.1"/><circle cx="723.2" cy="249.6" r="4.1"/><circle cx="759.3" cy="235.4" r="4.1"/><circle cx="740.1" cy="199.3" r="4.1"/><circle cx="784.2" cy="245.0" r="4.1"/><circle cx="754.5" cy="212.1" r="4.1"/><circle cx="782.3" cy="206.1" r="4.1"/><circle cx="731.9" cy="277.7" r="4.1"/><circle cx="764.9" cy="248.6" r="4.1"/><circle cx="767.6" cy="277.3" r="4.1"/><circle cx="760.2" cy="238.8" r="4.1"/><circle cx="729.7" cy="227.9" r="4.1"/><circle cx="714.0" cy="217.7" r="4.1"/><circle cx="750.1" cy="244.0" r="4.1"/><circle cx="783.0" cy="210.3" r="4.1"/><circle cx="724.8" cy="233.1" r="4.1"/><circle cx="729.5" cy="267.2" r="4.1"/><circle cx="780.6" cy="203.2" r="4.1"/><circle cx="755.8" cy="257.3" r="4.1"/><circle cx="728.5" cy="214.9" r="4.1"/><circle cx="748.5" cy="259.2" r="4.1"/><circle cx="761.6" cy="220.7" r="4.1"/><circle cx="758.0" cy="227.3" r="4.1"/><circle cx="754.4" cy="237.8" r="4.1"/><circle cx="755.7" cy="241.8" r="4.1"/><circle cx="750.2" cy="219.4" r="4.1"/><circle cx="742.5" cy="187.8" r="4.1"/><circle cx="738.0" cy="268.5" r="4.1"/><circle cx="748.1" cy="237.9" r="4.1"/><circle cx="769.8" cy="213.9" r="4.1"/><circle cx="741.1" cy="237.7" r="4.1"/><circle cx="727.0" cy="246.7" r="4.1"/><circle cx="765.2" cy="230.8" r="4.1"/><circle cx="755.0" cy="242.6" r="4.1"/><circle cx="751.5" cy="165.9" r="4.1"/><circle cx="761.3" cy="203.0" r="4.1"/><circle cx="737.4" cy="215.3" r="4.1"/><circle cx="739.3" cy="185.6" r="4.1"/><circle cx="750.6" cy="235.9" r="4.1"/><circle cx="719.5" cy="218.8" r="4.1"/><circle cx="768.7" cy="217.4" r="4.1"/><circle cx="736.1" cy="274.7" r="4.1"/><circle cx="724.1" cy="214.5" r="4.1"/><circle cx="743.8" cy="213.7" r="4.1"/><circle cx="732.0" cy="246.4" r="4.1"/><circle cx="739.7" cy="252.5" r="4.1"/><circle cx="784.6" cy="215.5" r="4.1"/><circle cx="784.6" cy="198.9" r="4.1"/><circle cx="759.1" cy="252.2" r="4.1"/><circle cx="727.0" cy="226.3" r="4.1"/><circle cx="763.1" cy="241.7" r="4.1"/><circle cx="760.0" cy="275.6" r="4.1"/><circle cx="748.4" cy="256.8" r="4.1"/><circle cx="741.9" cy="203.3" r="4.1"/><circle cx="769.0" cy="262.1" r="4.1"/><circle cx="737.3" cy="281.5" r="4.1"/><circle cx="743.2" cy="237.5" r="4.1"/><circle cx="723.3" cy="249.3" r="4.1"/><circle cx="727.1" cy="226.8" r="4.1"/><circle cx="727.5" cy="226.2" r="4.1"/><circle cx="748.7" cy="233.8" r="4.1"/><circle cx="757.3" cy="271.8" r="4.1"/><circle cx="734.7" cy="260.4" r="4.1"/><circle cx="759.9" cy="224.4" r="4.1"/><circle cx="759.7" cy="234.7" r="4.1"/><circle cx="772.7" cy="248.1" r="4.1"/><circle cx="767.1" cy="234.9" r="4.1"/><circle cx="714.6" cy="249.2" r="4.1"/><circle cx="779.2" cy="237.8" r="4.1"/><circle cx="759.9" cy="208.7" r="4.1"/><circle cx="759.2" cy="249.4" r="4.1"/><circle cx="721.3" cy="217.6" r="4.1"/><circle cx="739.8" cy="258.2" r="4.1"/><circle cx="741.5" cy="185.2" r="4.1"/><circle cx="755.6" cy="259.7" r="4.1"/><circle cx="748.1" cy="217.7" r="4.1"/><circle cx="757.0" cy="268.3" r="4.1"/><circle cx="745.7" cy="221.8" r="4.1"/><circle cx="761.7" cy="209.5" r="4.1"/><circle cx="711.4" cy="231.5" r="4.1"/><circle cx="743.2" cy="236.5" r="4.1"/><circle cx="755.0" cy="240.5" r="4.1"/><circle cx="726.0" cy="235.7" r="4.1"/><circle cx="730.0" cy="236.3" r="4.1"/><circle cx="741.4" cy="267.8" r="4.1"/><circle cx="730.5" cy="173.9" r="4.1"/><circle cx="754.5" cy="216.7" r="4.1"/><circle cx="729.5" cy="232.6" r="4.1"/><circle cx="790.4" cy="223.6" r="4.1"/><circle cx="734.5" cy="261.0" r="4.1"/><circle cx="777.8" cy="227.5" r="4.1"/><circle cx="737.9" cy="244.0" r="4.1"/><circle cx="734.2" cy="211.9" r="4.1"/><circle cx="731.2" cy="239.4" r="4.1"/><circle cx="786.2" cy="228.0" r="4.1"/><circle cx="749.5" cy="185.8" r="4.1"/><circle cx="771.2" cy="256.6" r="4.1"/><circle cx="751.0" cy="190.4" r="4.1"/><circle cx="728.5" cy="201.4" r="4.1"/><circle cx="750.4" cy="206.8" r="4.1"/><circle cx="721.1" cy="205.3" r="4.1"/><circle cx="745.1" cy="225.6" r="4.1"/><circle cx="742.9" cy="252.2" r="4.1"/><circle cx="738.7" cy="225.9" r="4.1"/><circle cx="761.5" cy="215.4" r="4.1"/><circle cx="779.0" cy="241.8" r="4.1"/><circle cx="766.3" cy="203.2" r="4.1"/><circle cx="744.6" cy="237.4" r="4.1"/><circle cx="772.8" cy="209.5" r="4.1"/><circle cx="736.0" cy="193.3" r="4.1"/><circle cx="713.0" cy="250.2" r="4.1"/><circle cx="748.2" cy="237.7" r="4.1"/><circle cx="774.2" cy="224.5" r="4.1"/><circle cx="751.6" cy="200.9" r="4.1"/><circle cx="735.0" cy="235.4" r="4.1"/><circle cx="781.9" cy="249.5" r="4.1"/><circle cx="733.3" cy="207.7" r="4.1"/><circle cx="766.0" cy="237.1" r="4.1"/><circle cx="762.4" cy="232.1" r="4.1"/><circle cx="779.8" cy="232.7" r="4.1"/><circle cx="784.0" cy="239.1" r="4.1"/><circle cx="750.8" cy="200.5" r="4.1"/><circle cx="758.0" cy="247.7" r="4.1"/><circle cx="754.8" cy="204.2" r="4.1"/><circle cx="791.8" cy="200.7" r="4.1"/><circle cx="739.7" cy="230.8" r="4.1"/><circle cx="773.2" cy="204.1" r="4.1"/><circle cx="751.7" cy="233.7" r="4.1"/><circle cx="723.4" cy="236.3" r="4.1"/><circle cx="726.7" cy="230.8" r="4.1"/><circle cx="765.2" cy="228.9" r="4.1"/><circle cx="721.7" cy="243.0" r="4.1"/><circle cx="767.4" cy="230.4" r="4.1"/><circle cx="769.7" cy="216.2" r="4.1"/><circle cx="731.4" cy="222.7" r="4.1"/><circle cx="761.9" cy="247.6" r="4.1"/><circle cx="734.5" cy="231.8" r="4.1"/><circle cx="754.4" cy="215.4" r="4.1"/><circle cx="772.2" cy="191.2" r="4.1"/><circle cx="742.0" cy="255.9" r="4.1"/><circle cx="758.5" cy="214.9" r="4.1"/><circle cx="742.5" cy="236.1" r="4.1"/><circle cx="750.9" cy="185.1" r="4.1"/><circle cx="778.1" cy="247.4" r="4.1"/><circle cx="725.1" cy="220.6" r="4.1"/><circle cx="760.1" cy="232.8" r="4.1"/><circle cx="742.4" cy="228.1" r="4.1"/><circle cx="792.4" cy="219.5" r="4.1"/><circle cx="773.3" cy="232.6" r="4.1"/><circle cx="723.8" cy="241.8" r="4.1"/><circle cx="759.1" cy="254.2" r="4.1"/><circle cx="788.2" cy="251.8" r="4.1"/><circle cx="758.7" cy="239.9" r="4.1"/><circle cx="770.9" cy="208.9" r="4.1"/><circle cx="728.1" cy="245.6" r="4.1"/><circle cx="725.3" cy="221.0" r="4.1"/><circle cx="792.8" cy="248.7" r="4.1"/><circle cx="780.2" cy="226.6" r="4.1"/><circle cx="778.0" cy="207.9" r="4.1"/><circle cx="732.4" cy="223.2" r="4.1"/><circle cx="734.6" cy="257.2" r="4.1"/><circle cx="747.0" cy="199.8" r="4.1"/><circle cx="771.4" cy="243.5" r="4.1"/><circle cx="778.2" cy="199.2" r="4.1"/><circle cx="730.7" cy="174.2" r="4.1"/><circle cx="759.1" cy="224.6" r="4.1"/><circle cx="736.9" cy="257.6" r="4.1"/><circle cx="732.4" cy="214.4" r="4.1"/><circle cx="729.3" cy="202.1" r="4.1"/><circle cx="748.4" cy="221.2" r="4.1"/><circle cx="740.9" cy="199.4" r="4.1"/><circle cx="717.7" cy="210.9" r="4.1"/><circle cx="747.2" cy="204.5" r="4.1"/><circle cx="738.5" cy="216.4" r="4.1"/><circle cx="726.6" cy="189.6" r="4.1"/><circle cx="744.9" cy="261.7" r="4.1"/><circle cx="759.8" cy="222.2" r="4.1"/><circle cx="732.5" cy="210.2" r="4.1"/><circle cx="773.9" cy="198.8" r="4.1"/><circle cx="791.1" cy="227.2" r="4.1"/><circle cx="757.3" cy="218.4" r="4.1"/><circle cx="773.0" cy="248.8" r="4.1"/><circle cx="733.7" cy="269.9" r="4.1"/><circle cx="755.5" cy="192.5" r="4.1"/><circle cx="762.7" cy="235.0" r="4.1"/><circle cx="755.6" cy="247.8" r="4.1"/><circle cx="776.9" cy="199.9" r="4.1"/><circle cx="746.6" cy="224.2" r="4.1"/><circle cx="752.3" cy="185.7" r="4.1"/><circle cx="757.2" cy="229.0" r="4.1"/><circle cx="739.9" cy="238.0" r="4.1"/><circle cx="751.1" cy="248.0" r="4.1"/><circle cx="779.7" cy="206.8" r="4.1"/><circle cx="753.8" cy="242.7" r="4.1"/><circle cx="733.7" cy="279.8" r="4.1"/><circle cx="758.4" cy="231.4" r="4.1"/><circle cx="715.7" cy="211.5" r="4.1"/><circle cx="732.4" cy="228.8" r="4.1"/><circle cx="759.6" cy="231.5" r="4.1"/><circle cx="741.1" cy="244.3" r="4.1"/><circle cx="724.3" cy="182.6" r="4.1"/><circle cx="715.6" cy="244.0" r="4.1"/><circle cx="783.1" cy="210.3" r="4.1"/><circle cx="737.0" cy="235.4" r="4.1"/><circle cx="718.1" cy="213.8" r="4.1"/><circle cx="715.5" cy="226.7" r="4.1"/><circle cx="759.9" cy="223.8" r="4.1"/><circle cx="797.0" cy="225.5" r="4.1"/><circle cx="725.8" cy="213.7" r="4.1"/><circle cx="764.1" cy="235.4" r="4.1"/><circle cx="726.4" cy="198.9" r="4.1"/><circle cx="757.8" cy="244.7" r="4.1"/><circle cx="738.1" cy="230.6" r="4.1"/><circle cx="779.6" cy="260.1" r="4.1"/><circle cx="781.5" cy="248.3" r="4.1"/><circle cx="745.0" cy="196.9" r="4.1"/><circle cx="773.5" cy="194.8" r="4.1"/><circle cx="774.9" cy="214.9" r="4.1"/><circle cx="736.6" cy="196.4" r="4.1"/><circle cx="722.1" cy="241.8" r="4.1"/><circle cx="768.7" cy="237.7" r="4.1"/><circle cx="724.6" cy="220.5" r="4.1"/><circle cx="728.5" cy="213.5" r="4.1"/><circle cx="792.3" cy="232.1" r="4.1"/><circle cx="768.1" cy="204.0" r="4.1"/><circle cx="736.5" cy="236.3" r="4.1"/><circle cx="778.2" cy="221.9" r="4.1"/><circle cx="765.4" cy="220.6" r="4.1"/><circle cx="789.5" cy="228.7" r="4.1"/><circle cx="757.8" cy="187.7" r="4.1"/><circle cx="773.3" cy="218.0" r="4.1"/><circle cx="760.0" cy="219.4" r="4.1"/><circle cx="732.8" cy="221.5" r="4.1"/><circle cx="718.9" cy="219.5" r="4.1"/><circle cx="775.7" cy="248.1" r="4.1"/><circle cx="726.1" cy="245.3" r="4.1"/><circle cx="740.0" cy="209.9" r="4.1"/><circle cx="763.3" cy="242.5" r="4.1"/><circle cx="734.1" cy="247.7" r="4.1"/><circle cx="748.9" cy="276.9" r="4.1"/><circle cx="713.6" cy="219.8" r="4.1"/><circle cx="742.4" cy="205.2" r="4.1"/><circle cx="716.8" cy="254.9" r="4.1"/><circle cx="756.2" cy="192.5" r="4.1"/><circle cx="736.1" cy="216.4" r="4.1"/><circle cx="757.2" cy="202.0" r="4.1"/><circle cx="784.8" cy="226.2" r="4.1"/><circle cx="783.8" cy="238.9" r="4.1"/><circle cx="743.4" cy="221.9" r="4.1"/><circle cx="759.3" cy="230.0" r="4.1"/><circle cx="756.3" cy="244.6" r="4.1"/><circle cx="779.5" cy="202.0" r="4.1"/><circle cx="779.4" cy="221.8" r="4.1"/><circle cx="734.9" cy="234.6" r="4.1"/><circle cx="767.6" cy="199.5" r="4.1"/><circle cx="726.4" cy="225.1" r="4.1"/><circle cx="747.4" cy="208.4" r="4.1"/><circle cx="746.2" cy="242.2" r="4.1"/><circle cx="721.1" cy="248.4" r="4.1"/><circle cx="745.4" cy="209.4" r="4.1"/><circle cx="717.2" cy="245.9" r="4.1"/><circle cx="751.7" cy="212.2" r="4.1"/><circle cx="774.1" cy="220.1" r="4.1"/><circle cx="756.2" cy="214.7" r="4.1"/><circle cx="759.8" cy="198.4" r="4.1"/><circle cx="740.1" cy="227.3" r="4.1"/><circle cx="730.1" cy="212.8" r="4.1"/><circle cx="767.1" cy="214.4" r="4.1"/><circle cx="775.1" cy="236.2" r="4.1"/><circle cx="750.4" cy="190.4" r="4.1"/><circle cx="785.9" cy="261.2" r="4.1"/><circle cx="757.2" cy="229.7" r="4.1"/><circle cx="751.9" cy="216.5" r="4.1"/><circle cx="744.3" cy="236.1" r="4.1"/><circle cx="714.3" cy="225.4" r="4.1"/><circle cx="760.0" cy="184.4" r="4.1"/><circle cx="734.3" cy="189.0" r="4.1"/><circle cx="715.5" cy="239.1" r="4.1"/><circle cx="744.8" cy="205.7" r="4.1"/><circle cx="742.3" cy="224.9" r="4.1"/><circle cx="756.0" cy="232.8" r="4.1"/><circle cx="756.3" cy="251.2" r="4.1"/><circle cx="777.7" cy="227.1" r="4.1"/><circle cx="758.1" cy="207.7" r="4.1"/><circle cx="734.9" cy="216.6" r="4.1"/><circle cx="781.6" cy="208.9" r="4.1"/><circle cx="754.3" cy="228.7" r="4.1"/><circle cx="768.6" cy="211.6" r="4.1"/><circle cx="740.4" cy="251.8" r="4.1"/><circle cx="756.0" cy="213.5" r="4.1"/><circle cx="778.1" cy="229.2" r="4.1"/><circle cx="738.0" cy="248.4" r="4.1"/><circle cx="792.6" cy="217.0" r="4.1"/><circle cx="794.1" cy="213.8" r="4.1"/><circle cx="743.2" cy="202.8" r="4.1"/><circle cx="746.2" cy="201.7" r="4.1"/><circle cx="786.9" cy="243.4" r="4.1"/><circle cx="737.7" cy="197.6" r="4.1"/><circle cx="764.6" cy="206.8" r="4.1"/><circle cx="781.1" cy="233.6" r="4.1"/><circle cx="749.8" cy="198.4" r="4.1"/><circle cx="756.6" cy="195.4" r="4.1"/><circle cx="778.4" cy="179.9" r="4.1"/><circle cx="742.2" cy="283.3" r="4.1"/><circle cx="738.8" cy="244.5" r="4.1"/><circle cx="776.1" cy="235.5" r="4.1"/><circle cx="747.9" cy="251.7" r="4.1"/><circle cx="776.5" cy="214.1" r="4.1"/><circle cx="789.0" cy="258.8" r="4.1"/><circle cx="727.3" cy="240.2" r="4.1"/><circle cx="765.1" cy="231.6" r="4.1"/><circle cx="737.1" cy="199.4" r="4.1"/><circle cx="763.8" cy="190.0" r="4.1"/><circle cx="738.3" cy="181.9" r="4.1"/><circle cx="735.1" cy="231.9" r="4.1"/><circle cx="718.0" cy="246.6" r="4.1"/><circle cx="774.2" cy="238.2" r="4.1"/><circle cx="767.7" cy="263.2" r="4.1"/><circle cx="769.9" cy="188.0" r="4.1"/><circle cx="748.5" cy="208.4" r="4.1"/><circle cx="752.9" cy="188.3" r="4.1"/><circle cx="753.5" cy="222.2" r="4.1"/><circle cx="764.9" cy="205.5" r="4.1"/><circle cx="745.9" cy="178.1" r="4.1"/><circle cx="748.2" cy="227.0" r="4.1"/><circle cx="720.2" cy="228.0" r="4.1"/><circle cx="719.2" cy="239.0" r="4.1"/><circle cx="732.0" cy="217.7" r="4.1"/><circle cx="790.6" cy="241.1" r="4.1"/><circle cx="787.5" cy="252.2" r="4.1"/><circle cx="749.4" cy="265.0" r="4.1"/><circle cx="758.3" cy="228.0" r="4.1"/><circle cx="741.7" cy="200.2" r="4.1"/><circle cx="765.1" cy="223.1" r="4.1"/><circle cx="762.9" cy="226.0" r="4.1"/><circle cx="766.9" cy="214.9" r="4.1"/><circle cx="758.6" cy="253.2" r="4.1"/><circle cx="783.7" cy="229.5" r="4.1"/><circle cx="731.3" cy="264.8" r="4.1"/><circle cx="783.1" cy="214.9" r="4.1"/><circle cx="785.1" cy="243.5" r="4.1"/><circle cx="733.2" cy="234.4" r="4.1"/><circle cx="725.8" cy="222.5" r="4.1"/><circle cx="745.6" cy="229.6" r="4.1"/><circle cx="781.0" cy="196.5" r="4.1"/><circle cx="747.8" cy="253.1" r="4.1"/><circle cx="774.8" cy="270.3" r="4.1"/><circle cx="753.8" cy="219.5" r="4.1"/><circle cx="722.4" cy="216.4" r="4.1"/><circle cx="789.2" cy="198.2" r="4.1"/><circle cx="764.0" cy="243.6" r="4.1"/><circle cx="751.0" cy="219.2" r="4.1"/><circle cx="774.3" cy="226.4" r="4.1"/><circle cx="732.1" cy="246.4" r="4.1"/><circle cx="719.7" cy="220.5" r="4.1"/><circle cx="765.6" cy="197.8" r="4.1"/><circle cx="789.9" cy="239.5" r="4.1"/><circle cx="753.5" cy="206.6" r="4.1"/><circle cx="759.4" cy="223.0" r="4.1"/><circle cx="763.6" cy="217.5" r="4.1"/><circle cx="761.2" cy="195.2" r="4.1"/><circle cx="717.7" cy="211.5" r="4.1"/><circle cx="753.7" cy="188.0" r="4.1"/><circle cx="746.9" cy="211.8" r="4.1"/><circle cx="734.5" cy="257.0" r="4.1"/><circle cx="741.7" cy="225.9" r="4.1"/><circle cx="736.1" cy="214.5" r="4.1"/><circle cx="747.5" cy="227.2" r="4.1"/><circle cx="744.8" cy="251.5" r="4.1"/><circle cx="744.8" cy="224.8" r="4.1"/><circle cx="791.7" cy="232.6" r="4.1"/><circle cx="771.0" cy="243.9" r="4.1"/><circle cx="742.2" cy="258.6" r="4.1"/><circle cx="757.8" cy="231.6" r="4.1"/><circle cx="754.1" cy="237.3" r="4.1"/><circle cx="771.6" cy="177.9" r="4.1"/><circle cx="722.5" cy="242.7" r="4.1"/><circle cx="747.3" cy="243.8" r="4.1"/><circle cx="723.1" cy="228.6" r="4.1"/><circle cx="765.0" cy="207.8" r="4.1"/><circle cx="734.1" cy="230.8" r="4.1"/><circle cx="763.1" cy="168.4" r="4.1"/><circle cx="742.9" cy="234.3" r="4.1"/><circle cx="785.7" cy="200.5" r="4.1"/><circle cx="753.8" cy="201.5" r="4.1"/><circle cx="728.5" cy="212.4" r="4.1"/><circle cx="790.4" cy="240.5" r="4.1"/><circle cx="774.4" cy="225.0" r="4.1"/><circle cx="777.6" cy="228.8" r="4.1"/><circle cx="769.4" cy="193.3" r="4.1"/><circle cx="731.3" cy="244.7" r="4.1"/><circle cx="728.2" cy="224.1" r="4.1"/><circle cx="734.8" cy="233.8" r="4.1"/><circle cx="781.1" cy="245.1" r="4.1"/><circle cx="741.9" cy="193.7" r="4.1"/><circle cx="742.5" cy="218.0" r="4.1"/><circle cx="723.3" cy="214.3" r="4.1"/><circle cx="745.8" cy="231.2" r="4.1"/><circle cx="752.1" cy="251.3" r="4.1"/><circle cx="777.9" cy="184.4" r="4.1"/><circle cx="736.2" cy="233.0" r="4.1"/><circle cx="768.9" cy="268.7" r="4.1"/><circle cx="743.4" cy="197.0" r="4.1"/><circle cx="752.2" cy="233.4" r="4.1"/><circle cx="735.5" cy="205.1" r="4.1"/><circle cx="765.9" cy="195.9" r="4.1"/><circle cx="737.4" cy="234.4" r="4.1"/><circle cx="754.9" cy="228.8" r="4.1"/><circle cx="729.5" cy="242.4" r="4.1"/><circle cx="772.0" cy="264.2" r="4.1"/><circle cx="763.5" cy="261.0" r="4.1"/><circle cx="749.7" cy="237.7" r="4.1"/><circle cx="737.9" cy="256.2" r="4.1"/><circle cx="772.3" cy="187.3" r="4.1"/><circle cx="783.1" cy="209.2" r="4.1"/><circle cx="734.5" cy="252.4" r="4.1"/><circle cx="763.3" cy="240.7" r="4.1"/><circle cx="786.2" cy="251.6" r="4.1"/><circle cx="768.8" cy="227.8" r="4.1"/><circle cx="745.2" cy="233.7" r="4.1"/><circle cx="757.1" cy="226.3" r="4.1"/><circle cx="748.4" cy="201.4" r="4.1"/><circle cx="753.8" cy="210.3" r="4.1"/><circle cx="770.8" cy="214.5" r="4.1"/><circle cx="741.3" cy="195.5" r="4.1"/><circle cx="744.2" cy="240.0" r="4.1"/><circle cx="722.3" cy="254.1" r="4.1"/><circle cx="752.1" cy="220.8" r="4.1"/><circle cx="767.6" cy="234.0" r="4.1"/><circle cx="764.4" cy="224.6" r="4.1"/><circle cx="772.1" cy="227.8" r="4.1"/><circle cx="747.9" cy="170.5" r="4.1"/><circle cx="747.6" cy="202.0" r="4.1"/><circle cx="744.3" cy="199.8" r="4.1"/><circle cx="767.5" cy="217.3" r="4.1"/><circle cx="757.3" cy="223.8" r="4.1"/><circle cx="731.4" cy="188.5" r="4.1"/><circle cx="718.0" cy="203.0" r="4.1"/><circle cx="750.9" cy="273.5" r="4.1"/><circle cx="758.6" cy="222.8" r="4.1"/><circle cx="770.8" cy="198.3" r="4.1"/><circle cx="756.2" cy="232.8" r="4.1"/><circle cx="735.0" cy="222.9" r="4.1"/><circle cx="742.7" cy="228.6" r="4.1"/><circle cx="730.4" cy="246.3" r="4.1"/><circle cx="773.0" cy="201.6" r="4.1"/><circle cx="755.0" cy="219.9" r="4.1"/><circle cx="780.5" cy="206.7" r="4.1"/><circle cx="752.8" cy="221.1" r="4.1"/><circle cx="714.9" cy="251.6" r="4.1"/><circle cx="756.1" cy="195.9" r="4.1"/><circle cx="769.5" cy="249.2" r="4.1"/><circle cx="711.9" cy="219.7" r="4.1"/><circle cx="742.3" cy="220.4" r="4.1"/><circle cx="746.8" cy="215.0" r="4.1"/><circle cx="717.0" cy="210.7" r="4.1"/><circle cx="761.3" cy="270.7" r="4.1"/><circle cx="783.1" cy="209.1" r="4.1"/><circle cx="745.1" cy="259.6" r="4.1"/><circle cx="764.0" cy="248.3" r="4.1"/><circle cx="731.3" cy="241.2" r="4.1"/><circle cx="767.5" cy="261.4" r="4.1"/><circle cx="795.0" cy="212.6" r="4.1"/><circle cx="786.7" cy="222.3" r="4.1"/><circle cx="754.8" cy="264.0" r="4.1"/><circle cx="758.2" cy="242.6" r="4.1"/><circle cx="770.5" cy="205.4" r="4.1"/><circle cx="757.9" cy="215.3" r="4.1"/><circle cx="743.4" cy="237.0" r="4.1"/><circle cx="745.2" cy="227.5" r="4.1"/><circle cx="748.3" cy="222.9" r="4.1"/><circle cx="745.2" cy="262.7" r="4.1"/><circle cx="768.8" cy="231.8" r="4.1"/><circle cx="734.9" cy="237.0" r="4.1"/><circle cx="713.6" cy="240.8" r="4.1"/><circle cx="731.4" cy="208.5" r="4.1"/><circle cx="776.4" cy="225.1" r="4.1"/><circle cx="744.9" cy="196.1" r="4.1"/><circle cx="760.4" cy="231.9" r="4.1"/><circle cx="759.9" cy="210.3" r="4.1"/><circle cx="723.9" cy="268.2" r="4.1"/><circle cx="760.6" cy="248.1" r="4.1"/><circle cx="785.7" cy="246.1" r="4.1"/><circle cx="773.0" cy="232.1" r="4.1"/><circle cx="736.9" cy="201.8" r="4.1"/><circle cx="768.4" cy="199.6" r="4.1"/><circle cx="794.6" cy="238.0" r="4.1"/><circle cx="783.4" cy="229.3" r="4.1"/><circle cx="743.6" cy="238.1" r="4.1"/><circle cx="730.0" cy="220.4" r="4.1"/><circle cx="746.4" cy="202.4" r="4.1"/><circle cx="761.3" cy="198.2" r="4.1"/><circle cx="744.9" cy="216.2" r="4.1"/><circle cx="746.9" cy="227.0" r="4.1"/><circle cx="754.2" cy="224.3" r="4.1"/><circle cx="746.4" cy="184.8" r="4.1"/><circle cx="759.1" cy="248.6" r="4.1"/><circle cx="738.1" cy="204.4" r="4.1"/><circle cx="770.1" cy="209.8" r="4.1"/><circle cx="753.8" cy="237.6" r="4.1"/><circle cx="753.9" cy="208.3" r="4.1"/><circle cx="766.8" cy="236.4" r="4.1"/><circle cx="773.6" cy="226.8" r="4.1"/><circle cx="773.4" cy="215.3" r="4.1"/><circle cx="769.6" cy="200.3" r="4.1"/><circle cx="728.5" cy="224.1" r="4.1"/><circle cx="766.2" cy="203.0" r="4.1"/><circle cx="750.3" cy="241.9" r="4.1"/><circle cx="767.3" cy="198.4" r="4.1"/><circle cx="795.5" cy="217.1" r="4.1"/><circle cx="760.1" cy="263.3" r="4.1"/><circle cx="731.6" cy="179.4" r="4.1"/><circle cx="779.9" cy="191.2" r="4.1"/><circle cx="753.8" cy="205.0" r="4.1"/><circle cx="793.5" cy="239.7" r="4.1"/><circle cx="737.3" cy="248.9" r="4.1"/><circle cx="725.5" cy="212.8" r="4.1"/><circle cx="772.9" cy="245.3" r="4.1"/><circle cx="727.0" cy="222.6" r="4.1"/><circle cx="745.3" cy="195.2" r="4.1"/><circle cx="778.4" cy="195.5" r="4.1"/><circle cx="747.3" cy="225.6" r="4.1"/><circle cx="753.8" cy="210.8" r="4.1"/><circle cx="782.2" cy="189.6" r="4.1"/><circle cx="774.0" cy="239.7" r="4.1"/><circle cx="730.0" cy="231.4" r="4.1"/><circle cx="766.2" cy="194.2" r="4.1"/><circle cx="766.1" cy="235.2" r="4.1"/><circle cx="752.2" cy="211.9" r="4.1"/><circle cx="738.3" cy="248.2" r="4.1"/><circle cx="763.4" cy="268.0" r="4.1"/><circle cx="766.9" cy="231.1" r="4.1"/><circle cx="742.1" cy="227.1" r="4.1"/><circle cx="788.8" cy="216.2" r="4.1"/><circle cx="744.0" cy="234.6" r="4.1"/><circle cx="763.9" cy="261.2" r="4.1"/><circle cx="748.7" cy="281.8" r="4.1"/><circle cx="754.0" cy="234.2" r="4.1"/><circle cx="759.5" cy="262.7" r="4.1"/><circle cx="775.3" cy="234.0" r="4.1"/><circle cx="727.3" cy="196.5" r="4.1"/><circle cx="759.5" cy="235.7" r="4.1"/><circle cx="748.8" cy="234.1" r="4.1"/><circle cx="735.1" cy="234.5" r="4.1"/><circle cx="784.3" cy="239.5" r="4.1"/><circle cx="754.3" cy="232.9" r="4.1"/><circle cx="776.0" cy="212.8" r="4.1"/><circle cx="741.7" cy="209.3" r="4.1"/><circle cx="769.0" cy="208.7" r="4.1"/><circle cx="762.0" cy="209.4" r="4.1"/><circle cx="785.0" cy="240.2" r="4.1"/><circle cx="768.7" cy="243.8" r="4.1"/><circle cx="742.2" cy="231.6" r="4.1"/><circle cx="766.4" cy="227.3" r="4.1"/><circle cx="753.1" cy="251.0" r="4.1"/><circle cx="776.2" cy="216.8" r="4.1"/><circle cx="784.5" cy="231.9" r="4.1"/><circle cx="760.6" cy="282.7" r="4.1"/><circle cx="773.7" cy="255.1" r="4.1"/><circle cx="763.9" cy="216.2" r="4.1"/><circle cx="791.2" cy="219.0" r="4.1"/><circle cx="754.3" cy="212.3" r="4.1"/><circle cx="749.1" cy="193.3" r="4.1"/><circle cx="782.1" cy="214.3" r="4.1"/><circle cx="754.3" cy="219.9" r="4.1"/><circle cx="765.4" cy="234.0" r="4.1"/><circle cx="759.3" cy="205.9" r="4.1"/><circle cx="728.9" cy="214.8" r="4.1"/><circle cx="754.7" cy="212.3" r="4.1"/><circle cx="745.5" cy="229.1" r="4.1"/><circle cx="767.5" cy="231.1" r="4.1"/><circle cx="736.9" cy="226.2" r="4.1"/></g><g fill="#2a5ba7"><circle cx="676.3" cy="213.0" r="4.1"/><circle cx="748.5" cy="161.1" r="4.1"/><circle cx="745.2" cy="168.5" r="4.1"/><circle cx="739.5" cy="174.3" r="4.1"/><circle cx="729.6" cy="169.3" r="4.1"/><circle cx="730.4" cy="178.4" r="4.1"/><circle cx="709.0" cy="188.6" r="4.1"/><circle cx="697.4" cy="196.5" r="4.1"/><circle cx="700.7" cy="199.0" r="4.1"/><circle cx="708.1" cy="210.5" r="4.1"/><circle cx="705.7" cy="217.9" r="4.1"/><circle cx="690.8" cy="217.9" r="4.1"/><circle cx="679.3" cy="213.0" r="4.1"/><circle cx="695.8" cy="224.5" r="4.1"/><circle cx="762.2" cy="163.5" r="4.1"/><circle cx="750.6" cy="160.2" r="4.1"/><circle cx="780.3" cy="170.5" r="4.1"/><circle cx="798.4" cy="177.5" r="4.1"/><circle cx="805.0" cy="221.2" r="4.1"/><circle cx="821.5" cy="213.0" r="4.1"/><circle cx="765.5" cy="173.4" r="4.1"/><circle cx="756.4" cy="171.8" r="4.1"/><circle cx="822.8" cy="213.0" r="4.1"/><circle cx="695.8" cy="229.1" r="4.1"/><circle cx="704.8" cy="238.2" r="4.1"/><circle cx="692.5" cy="253.0" r="4.1"/><circle cx="719.7" cy="278.6" r="4.1"/><circle cx="718.9" cy="290.1" r="4.1"/><circle cx="740.3" cy="285.2" r="4.1"/><circle cx="805.0" cy="225.8" r="4.1"/><circle cx="803.4" cy="240.7" r="4.1"/><circle cx="801.7" cy="252.2" r="4.1"/><circle cx="795.2" cy="269.5" r="4.1"/><circle cx="791.0" cy="275.3" r="4.1"/><circle cx="772.9" cy="284.3" r="4.1"/><circle cx="786.9" cy="286.0" r="4.1"/><circle cx="790.2" cy="289.3" r="4.1"/><circle cx="754.0" cy="287.6" r="4.1"/><circle cx="756.4" cy="294.2" r="4.1"/><circle cx="729.9" cy="169.7" r="4.1"/><circle cx="708.8" cy="188.1" r="4.1"/><circle cx="729.9" cy="178.9" r="4.1"/><circle cx="696.9" cy="196.7" r="4.1"/><circle cx="724.6" cy="191.4" r="4.1"/><circle cx="749.9" cy="160.4" r="4.1"/><circle cx="762.4" cy="163.7" r="4.1"/><circle cx="745.3" cy="168.3" r="4.1"/><circle cx="780.9" cy="171.0" r="4.1"/><circle cx="799.3" cy="177.6" r="4.1"/><circle cx="757.1" cy="171.6" r="4.1"/><circle cx="765.7" cy="173.0" r="4.1"/><circle cx="787.4" cy="184.2" r="4.1"/><circle cx="697.2" cy="197.6" r="4.1"/><circle cx="679.4" cy="213.5" r="4.1"/><circle cx="690.6" cy="218.7" r="4.1"/><circle cx="695.9" cy="228.6" r="4.1"/><circle cx="707.7" cy="212.1" r="4.1"/><circle cx="705.1" cy="220.0" r="4.1"/><circle cx="704.4" cy="238.5" r="4.1"/><circle cx="693.2" cy="253.0" r="4.1"/><circle cx="822.2" cy="212.4" r="4.1"/><circle cx="806.4" cy="223.0" r="4.1"/><circle cx="797.1" cy="225.6" r="4.1"/><circle cx="803.7" cy="241.4" r="4.1"/><circle cx="787.9" cy="196.6" r="4.1"/><circle cx="693.2" cy="253.3" r="4.1"/><circle cx="711.7" cy="259.2" r="4.1"/><circle cx="711.7" cy="268.5" r="4.1"/><circle cx="720.2" cy="279.0" r="4.1"/><circle cx="718.9" cy="289.5" r="4.1"/><circle cx="741.2" cy="286.2" r="4.1"/><circle cx="754.4" cy="288.9" r="4.1"/><circle cx="757.0" cy="294.8" r="4.1"/><circle cx="772.2" cy="284.3" r="4.1"/><circle cx="785.4" cy="284.9" r="4.1"/><circle cx="790.0" cy="288.2" r="4.1"/><circle cx="792.0" cy="273.7" r="4.1"/><circle cx="795.2" cy="268.5" r="4.1"/><circle cx="801.8" cy="252.6" r="4.1"/></g><rect x="601" y="77" width="298.5" height="298.9" fill="none" stroke="#000" stroke-width="3.7"/><g stroke="#000" stroke-width="3.7"><line x1="592.3" y1="375.90" x2="601" y2="375.90"/><line x1="601.00" y1="375.9" x2="601.00" y2="383.7"/><line x1="592.3" y1="301.17" x2="601" y2="301.17"/><line x1="675.62" y1="375.9" x2="675.62" y2="383.7"/><line x1="592.3" y1="226.45" x2="601" y2="226.45"/><line x1="750.25" y1="375.9" x2="750.25" y2="383.7"/><line x1="592.3" y1="151.72" x2="601" y2="151.72"/><line x1="824.88" y1="375.9" x2="824.88" y2="383.7"/><line x1="592.3" y1="77.00" x2="601" y2="77.00"/><line x1="899.50" y1="375.9" x2="899.50" y2="383.7"/></g><g font-size="27" fill="#000"><text x="580.1" y="385.50" text-anchor="end">−100</text><text x="601.00" y="411.3" text-anchor="middle">−100</text><text x="580.1" y="310.77" text-anchor="end">−50</text><text x="675.62" y="411.3" text-anchor="middle">−50</text><text x="580.1" y="236.05" text-anchor="end">0</text><text x="750.25" y="411.3" text-anchor="middle">0</text><text x="580.1" y="161.32" text-anchor="end">50</text><text x="824.88" y="411.3" text-anchor="middle">50</text><text x="580.1" y="86.60" text-anchor="end">100</text><text x="899.50" y="411.3" text-anchor="middle">100</text><text x="750.8" y="449.4" text-anchor="middle"><tspan font-style="italic">x</tspan> [nm]</text><text transform="translate(503.3 226.1) rotate(-90)" text-anchor="middle"><tspan font-style="italic">y</tspan> [nm]</text><text x="611" y="109.9">PEI<tspan dy="2">+</tspan><tspan dy="-2">PSS Layer</tspan></text></g><g font-size="27"><text x="611.7" y="20.4" fill="#00a05a" font-style="italic">k</text><text x="623.6" y="28.3" font-size="19" fill="#00a05a">500</text><text x="662.4" y="20.4" fill="#00a05a" letter-spacing="0.12"><tspan dy="2">=</tspan><tspan dy="-2"> 0.0041 [pN/nm]</tspan></text><text x="611.7" y="57.6" fill="#22399a" font-style="italic">k</text><text x="623.6" y="66" font-size="19" fill="#2a5ba7">200</text><text x="662.4" y="57.6" fill="#22399a" letter-spacing="0.12"><tspan dy="2">=</tspan><tspan dy="-2"> 0.0205 [pN/nm]</tspan></text></g><circle cx="873.65" cy="99.4" r="15.7" fill="#f5dc21" stroke="#000" stroke-width="4"/><line x1="862.1" y1="100.35" x2="885.2" y2="100.35" stroke="#000" stroke-width="3"/></svg></body></html>
